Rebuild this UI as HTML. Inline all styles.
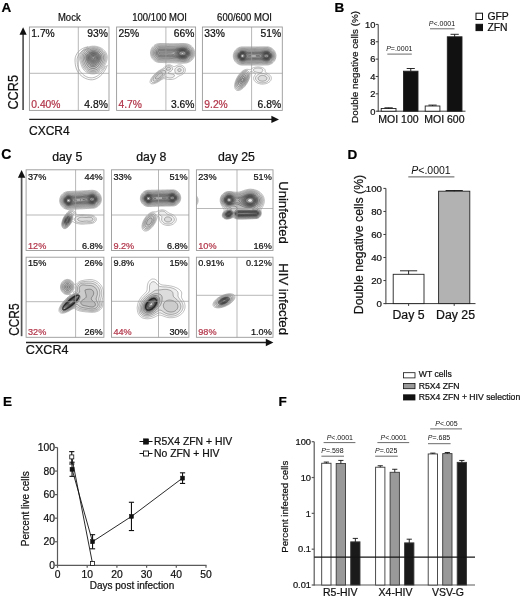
<!DOCTYPE html>
<html lang="en"><head><meta charset="utf-8"><title>Figure</title>
<style>
html,body{margin:0;padding:0;background:#fff;}
body{width:520px;height:596px;overflow:hidden;}
svg{display:block;font-family:"Liberation Sans", Arial, Helvetica, sans-serif;filter:blur(0.4px);}
</style></head><body>
<svg width="520" height="596" viewBox="0 0 520 596">
<defs><clipPath id="cb1"><rect x="29.4" y="27" width="79.60" height="83.40"/></clipPath><clipPath id="cb2"><rect x="116.6" y="27" width="79.00" height="83.40"/></clipPath><clipPath id="cb3"><rect x="202.4" y="27" width="79.90" height="83.40"/></clipPath><clipPath id="cb4"><rect x="26.1" y="169.8" width="77.80" height="80.70"/></clipPath><clipPath id="cb5"><rect x="111.5" y="169.8" width="77.40" height="80.70"/></clipPath><clipPath id="cb6"><rect x="196.4" y="169.8" width="76.60" height="80.70"/></clipPath><clipPath id="cb7"><rect x="26.1" y="257.2" width="77.80" height="80.10"/></clipPath><clipPath id="cb8"><rect x="111.5" y="257.2" width="77.40" height="80.10"/></clipPath><clipPath id="cb9"><rect x="196.4" y="257.2" width="76.60" height="80.10"/></clipPath></defs>
<rect x="0" y="0" width="520" height="596" fill="#fff"/>
<text x="1.5" y="11.6" font-size="13.5" text-anchor="start" fill="#000" stroke="#000" stroke-width="0.22" font-weight="bold" font-style="normal">A</text>
<text transform="translate(69.3 20.5) scale(0.913 1)" x="0" y="0" font-size="10.4" text-anchor="middle" fill="#111" stroke="#111" stroke-width="0.22" font-weight="normal" font-style="normal">Mock</text>
<text transform="translate(159.6 20.5) scale(0.913 1)" x="0" y="0" font-size="10.4" text-anchor="middle" fill="#111" stroke="#111" stroke-width="0.22" font-weight="normal" font-style="normal">100/100 MOI</text>
<text transform="translate(244.5 20.5) scale(0.913 1)" x="0" y="0" font-size="10.4" text-anchor="middle" fill="#111" stroke="#111" stroke-width="0.22" font-weight="normal" font-style="normal">600/600 MOI</text>
<g clip-path="url(#cb1)">
<path d="M91.4,46.3L92.2,46.2L93.1,46.2L94.0,46.2L94.9,46.2L95.5,46.3L96.4,46.4L97.1,46.6L97.9,46.8L98.5,47.0L99.2,47.2L99.9,47.5L100.6,47.8L101.2,48.1L101.7,48.4L102.2,48.7L102.7,49.1L103.3,49.5L103.7,49.9L104.2,50.4L104.6,50.8L105.1,51.4L105.4,51.8L105.7,52.3L106.1,52.9L106.4,53.5L106.6,54.1L106.9,54.9L107.1,55.6L107.2,56.5L107.2,57.1L107.2,58.0L107.2,58.6L107.0,59.5L106.9,60.1L106.6,61.0L106.4,61.6L106.2,62.2L106.0,62.8L105.7,63.5L105.4,64.2L105.1,64.8L104.8,65.5L104.5,66.1L104.2,66.7L103.9,67.3L103.6,67.9L103.3,68.4L103.0,68.8L102.6,69.4L102.1,70.0L101.8,70.3L101.2,70.9L100.8,71.2L100.3,71.6L99.7,72.0L99.1,72.4L98.5,72.7L97.9,72.9L97.3,73.2L96.7,73.4L95.8,73.6L95.2,73.7L94.3,73.9L93.5,73.9L92.8,73.9L92.2,73.9L91.3,73.8L90.4,73.7L89.8,73.5L89.1,73.3L88.3,73.0L87.7,72.8L87.1,72.5L86.5,72.1L86.0,71.8L85.6,71.5L85.0,71.0L84.5,70.6L84.1,70.2L83.7,69.7L83.2,69.1L82.9,68.6L82.6,68.1L82.3,67.6L82.0,66.9L81.7,66.2L81.4,65.5L81.2,64.9L81.0,64.3L80.8,63.7L80.5,62.8L80.3,62.2L80.2,61.6L79.9,60.7L79.8,60.1L79.6,59.2L79.6,58.6L79.5,57.7L79.6,56.8L79.6,56.2L79.8,55.3L79.9,54.7L80.2,54.0L80.5,53.3L80.8,52.7L81.1,52.2L81.5,51.7L81.9,51.1L82.3,50.7L82.8,50.2L83.2,49.8L83.8,49.3L84.2,49.0L84.7,48.7L85.3,48.3L85.9,48.0L86.5,47.7L87.1,47.4L87.7,47.2L88.5,46.9L89.2,46.7L89.8,46.6L90.7,46.4Z" fill="none" stroke="rgb(122,122,122)" stroke-width="0.5"/>
<path d="M91.4,47.2L92.2,47.1L93.1,47.1L94.0,47.1L94.9,47.1L95.5,47.2L96.4,47.4L97.0,47.5L97.9,47.7L98.5,47.9L99.1,48.2L99.7,48.4L100.3,48.7L100.9,49.0L101.5,49.4L102.1,49.8L102.5,50.2L103.0,50.6L103.5,51.1L103.9,51.5L104.3,52.0L104.7,52.6L105.1,53.2L105.4,53.8L105.6,54.4L105.8,55.0L106.0,55.9L106.1,56.5L106.2,57.4L106.1,58.3L106.0,59.1L105.9,59.8L105.7,60.4L105.4,61.3L105.2,61.9L104.9,62.5L104.7,63.1L104.4,63.7L104.2,64.3L103.9,64.9L103.6,65.5L103.3,66.1L103.0,66.7L102.7,67.3L102.3,67.9L101.9,68.5L101.5,69.0L101.1,69.4L100.6,69.9L100.2,70.3L99.7,70.7L99.1,71.1L98.5,71.5L97.9,71.8L97.3,72.0L96.7,72.3L96.1,72.5L95.2,72.7L94.6,72.8L93.7,72.9L92.8,72.9L91.9,72.8L91.0,72.7L90.4,72.6L89.7,72.4L88.9,72.1L88.3,71.9L87.7,71.6L87.1,71.2L86.6,70.9L86.2,70.6L85.6,70.1L85.2,69.7L84.7,69.2L84.4,68.8L84.0,68.2L83.6,67.6L83.3,67.0L83.0,66.4L82.7,65.8L82.5,65.2L82.3,64.6L82.0,63.8L81.8,63.1L81.6,62.5L81.4,61.9L81.1,61.0L81.0,60.4L80.8,59.6L80.7,58.9L80.6,58.0L80.6,57.1L80.7,56.2L80.8,55.6L81.1,54.7L81.3,54.1L81.6,53.5L81.9,52.9L82.3,52.3L82.6,51.9L83.0,51.4L83.5,50.9L83.9,50.5L84.4,50.1L85.0,49.6L85.5,49.3L86.0,49.0L86.5,48.7L87.1,48.4L87.9,48.1L88.6,47.8L89.2,47.6L89.8,47.5L90.7,47.3Z" fill="#000" fill-opacity="0.07" fill-rule="evenodd" stroke="rgb(109,109,109)" stroke-width="0.5"/>
<path d="M92.2,48.1L93.1,48.1L94.0,48.1L94.6,48.1L95.5,48.2L96.4,48.4L97.0,48.5L97.6,48.7L98.5,49.0L99.1,49.3L99.7,49.6L100.3,49.9L100.8,50.2L101.2,50.5L101.8,51.0L102.3,51.4L102.7,51.9L103.1,52.3L103.5,52.9L103.9,53.5L104.2,54.1L104.5,54.7L104.6,55.3L104.8,56.0L104.9,56.8L105.0,57.7L104.9,58.6L104.8,59.2L104.6,60.1L104.4,60.7L104.2,61.3L103.9,62.0L103.6,62.6L103.3,63.3L103.0,63.9L102.7,64.6L102.4,65.2L102.1,65.7L101.8,66.3L101.5,66.8L101.2,67.3L100.7,67.9L100.3,68.4L100.0,68.8L99.4,69.3L99.0,69.7L98.5,70.0L97.9,70.4L97.3,70.7L96.7,71.0L96.1,71.2L95.2,71.5L94.6,71.6L93.7,71.7L92.8,71.7L91.9,71.6L91.0,71.5L90.4,71.4L89.8,71.2L89.1,70.9L88.5,70.6L87.9,70.3L87.4,69.9L86.8,69.5L86.4,69.1L85.9,68.6L85.5,68.2L85.1,67.6L84.7,67.0L84.4,66.4L84.1,65.8L83.8,65.2L83.6,64.6L83.4,64.0L83.1,63.4L82.9,62.7L82.6,61.9L82.4,61.3L82.3,60.7L82.1,59.8L81.9,59.2L81.8,58.3L81.8,57.4L81.9,56.5L82.0,55.9L82.2,55.0L82.5,54.4L82.7,53.8L83.1,53.2L83.5,52.6L83.8,52.2L84.2,51.7L84.7,51.2L85.2,50.8L85.6,50.5L86.2,50.1L86.8,49.7L87.4,49.4L88.0,49.1L88.6,48.9L89.2,48.7L90.1,48.4L90.7,48.3L91.6,48.2Z" fill="#000" fill-opacity="0.07" fill-rule="evenodd" stroke="rgb(96,96,96)" stroke-width="0.5"/>
<path d="M91.4,49.3L92.2,49.2L93.1,49.1L94.0,49.2L94.9,49.2L95.5,49.3L96.4,49.5L97.0,49.7L97.7,49.9L98.4,50.2L99.0,50.5L99.5,50.8L100.0,51.1L100.6,51.5L101.1,52.0L101.5,52.4L102.0,52.9L102.4,53.5L102.7,54.0L103.0,54.6L103.3,55.3L103.4,55.9L103.6,56.8L103.6,57.4L103.6,58.0L103.5,58.9L103.3,59.7L103.1,60.4L102.9,61.0L102.6,61.6L102.4,62.2L102.1,62.8L101.8,63.4L101.5,64.0L101.1,64.6L100.8,65.2L100.4,65.8L100.1,66.4L99.7,66.9L99.4,67.3L98.8,67.9L98.5,68.2L97.9,68.7L97.3,69.1L96.8,69.4L96.1,69.7L95.5,69.9L94.9,70.1L94.0,70.2L93.1,70.3L92.2,70.3L91.3,70.1L90.7,70.0L89.9,69.7L89.3,69.4L88.7,69.1L88.3,68.8L87.7,68.3L87.2,67.9L86.8,67.4L86.5,67.0L86.1,66.4L85.7,65.8L85.4,65.2L85.1,64.6L84.9,64.0L84.6,63.4L84.4,62.8L84.1,62.1L83.8,61.3L83.6,60.7L83.5,60.1L83.3,59.2L83.2,58.5L83.2,57.7L83.2,56.8L83.3,56.2L83.5,55.4L83.8,54.7L84.0,54.1L84.4,53.5L84.7,53.1L85.1,52.6L85.6,52.1L86.0,51.7L86.5,51.3L87.1,50.9L87.7,50.5L88.3,50.2L88.9,50.0L89.5,49.8L90.1,49.6L91.0,49.4Z" fill="#000" fill-opacity="0.07" fill-rule="evenodd" stroke="rgb(83,83,83)" stroke-width="0.5"/>
<path d="M91.9,50.5L92.8,50.4L93.7,50.4L94.6,50.5L95.2,50.6L96.1,50.7L96.7,50.9L97.3,51.2L97.9,51.4L98.5,51.7L99.1,52.1L99.7,52.6L100.0,52.9L100.6,53.5L100.9,53.9L101.2,54.4L101.5,55.0L101.8,55.8L102.0,56.5L102.1,57.4L102.0,58.3L101.9,59.2L101.7,59.8L101.5,60.4L101.2,61.1L100.9,61.7L100.6,62.3L100.3,62.8L100.0,63.4L99.6,64.0L99.2,64.6L98.8,65.2L98.5,65.6L98.1,66.1L97.6,66.6L97.2,67.0L96.7,67.4L96.1,67.7L95.5,68.0L94.9,68.3L94.0,68.5L93.4,68.5L92.5,68.5L91.9,68.4L91.0,68.2L90.4,68.0L89.8,67.6L89.3,67.3L88.9,67.0L88.3,66.4L88.0,66.1L87.6,65.5L87.2,64.9L86.9,64.3L86.5,63.7L86.2,63.1L86.0,62.5L85.7,61.9L85.5,61.3L85.3,60.7L85.0,59.9L84.8,59.2L84.7,58.3L84.7,57.7L84.7,57.1L84.9,56.2L85.0,55.6L85.3,54.9L85.6,54.4L86.0,53.8L86.5,53.2L86.8,52.9L87.4,52.4L87.9,52.0L88.4,51.7L88.9,51.4L89.6,51.1L90.4,50.8L91.0,50.7L91.9,50.5Z" fill="#000" fill-opacity="0.07" fill-rule="evenodd" stroke="rgb(70,70,70)" stroke-width="0.5"/>
<path d="M91.8,51.7L92.5,51.6L93.4,51.5L94.3,51.6L95.0,51.7L95.8,51.9L96.4,52.1L97.0,52.3L97.6,52.6L98.2,53.0L98.8,53.5L99.1,53.8L99.6,54.4L100.0,55.0L100.3,55.6L100.5,56.2L100.6,56.8L100.7,57.7L100.6,58.4L100.4,59.2L100.2,59.8L100.0,60.4L99.7,61.0L99.4,61.6L99.0,62.2L98.6,62.8L98.2,63.4L97.9,63.8L97.5,64.3L97.0,64.8L96.6,65.2L96.1,65.6L95.5,66.0L94.9,66.3L94.3,66.5L93.4,66.7L92.5,66.7L91.6,66.4L91.0,66.2L90.4,65.9L89.9,65.5L89.5,65.1L89.0,64.6L88.6,64.0L88.3,63.6L88.0,63.1L87.6,62.5L87.3,61.9L87.0,61.3L86.8,60.7L86.5,60.0L86.3,59.2L86.2,58.6L86.1,57.7L86.2,56.8L86.3,56.2L86.5,55.6L86.8,55.0L87.2,54.4L87.7,53.8L88.0,53.5L88.6,53.0L89.2,52.6L89.8,52.3L90.4,52.1L91.0,51.9Z" fill="#000" fill-opacity="0.018" fill-rule="evenodd" stroke="rgb(60,60,60)" stroke-width="0.5"/>
<path d="M92.9,52.3L93.7,52.3L94.3,52.3L95.2,52.5L95.8,52.7L96.4,52.9L97.0,53.2L97.6,53.6L98.2,54.1L98.5,54.4L99.0,55.0L99.3,55.6L99.6,56.2L99.7,56.8L99.8,57.7L99.7,58.4L99.5,59.2L99.3,59.8L99.0,60.4L98.7,61.0L98.3,61.6L97.9,62.2L97.6,62.6L97.2,63.1L96.7,63.6L96.2,64.0L95.8,64.4L95.2,64.8L94.6,65.1L94.0,65.2L93.1,65.4L92.2,65.3L91.6,65.1L91.0,64.8L90.4,64.3L90.0,64.0L89.5,63.4L89.2,63.1L88.8,62.5L88.4,61.9L88.0,61.3L87.7,60.7L87.5,60.1L87.3,59.5L87.1,58.9L87.0,58.0L87.0,57.1L87.1,56.5L87.4,55.7L87.7,55.2L88.0,54.7L88.6,54.1L88.9,53.8L89.5,53.4L90.1,53.0L90.7,52.8L91.3,52.6L92.2,52.4Z" fill="#000" fill-opacity="0.018" fill-rule="evenodd" stroke="rgb(60,60,60)" stroke-width="0.5"/>
<path d="M91.5,53.2L92.2,53.0L93.1,52.9L94.0,53.0L94.9,53.1L95.5,53.3L96.1,53.5L96.7,53.8L97.3,54.2L97.8,54.7L98.2,55.2L98.5,55.7L98.8,56.4L99.0,57.1L99.0,58.0L98.8,58.9L98.6,59.5L98.3,60.1L98.0,60.7L97.6,61.3L97.3,61.6L96.8,62.2L96.4,62.6L95.8,63.1L95.4,63.4L94.9,63.7L94.1,64.0L93.4,64.1L92.5,64.1L91.9,63.9L91.3,63.6L90.7,63.2L90.2,62.8L89.8,62.4L89.4,61.9L89.0,61.3L88.6,60.7L88.3,60.1L88.1,59.5L87.9,58.9L87.8,58.0L87.8,57.1L88.0,56.3L88.3,55.6L88.6,55.2L89.0,54.7L89.5,54.2L90.1,53.8L90.7,53.5L91.3,53.3Z" fill="#000" fill-opacity="0.018" fill-rule="evenodd" stroke="rgb(60,60,60)" stroke-width="0.5"/>
<path d="M91.7,53.8L92.5,53.6L93.4,53.5L94.3,53.6L95.1,53.8L95.8,54.1L96.4,54.4L96.8,54.7L97.3,55.2L97.6,55.6L98.0,56.2L98.2,57.0L98.3,57.7L98.2,58.3L98.0,59.2L97.7,59.8L97.3,60.4L97.0,60.8L96.6,61.3L96.1,61.8L95.6,62.2L95.1,62.5L94.5,62.8L93.7,63.0L92.8,63.0L91.9,62.8L91.3,62.5L90.9,62.2L90.4,61.8L90.0,61.3L89.5,60.7L89.2,60.2L88.9,59.6L88.6,58.9L88.5,58.3L88.5,57.4L88.6,56.8L88.9,56.0L89.2,55.5L89.6,55.0L90.1,54.6L90.7,54.2L91.3,53.9Z" fill="#000" fill-opacity="0.018" fill-rule="evenodd" stroke="rgb(60,60,60)" stroke-width="0.5"/>
<path d="M91.8,54.4L92.5,54.2L93.4,54.1L94.3,54.2L95.0,54.4L95.7,54.7L96.1,55.0L96.7,55.5L97.0,55.9L97.3,56.5L97.5,57.4L97.5,58.3L97.3,59.0L97.0,59.6L96.7,60.1L96.2,60.7L95.8,61.0L95.2,61.5L94.6,61.8L94.0,62.0L93.1,62.1L92.2,61.9L91.6,61.6L91.1,61.3L90.7,61.0L90.2,60.4L89.8,59.8L89.5,59.2L89.3,58.6L89.2,57.7L89.3,56.8L89.6,56.2L90.0,55.6L90.4,55.2L91.0,54.8L91.6,54.5Z" fill="#000" fill-opacity="0.018" fill-rule="evenodd" stroke="rgb(60,60,60)" stroke-width="0.5"/>
<path d="M92.0,55.0L92.8,54.8L93.7,54.8L94.6,54.9L95.2,55.2L95.8,55.6L96.1,55.9L96.5,56.5L96.7,57.1L96.8,58.0L96.7,58.6L96.4,59.2L96.0,59.8L95.5,60.3L94.9,60.7L94.3,61.0L93.7,61.2L92.8,61.1L92.2,61.0L91.6,60.7L91.0,60.2L90.7,59.8L90.3,59.2L90.1,58.6L89.9,57.7L90.1,56.8L90.4,56.2L90.7,55.9L91.3,55.4L91.9,55.0Z" fill="#000" fill-opacity="0.018" fill-rule="evenodd" stroke="rgb(60,60,60)" stroke-width="0.5"/>
<path d="M92.4,55.6L93.1,55.5L94.0,55.5L94.6,55.7L95.2,56.1L95.6,56.5L95.9,57.1L96.0,58.0L95.8,58.6L95.4,59.2L94.9,59.7L94.3,60.1L93.7,60.2L92.8,60.2L92.2,60.0L91.6,59.6L91.3,59.2L90.9,58.6L90.8,57.7L91.0,56.8L91.3,56.3L91.8,55.9Z" fill="#000" fill-opacity="0.018" fill-rule="evenodd" stroke="rgb(60,60,60)" stroke-width="0.5"/>
<path d="M92.7,56.5L93.4,56.4L94.1,56.5L94.6,56.9L94.9,57.5L94.9,58.0L94.6,58.6L94.0,59.0L93.1,59.2L92.4,58.9L91.9,58.3L91.8,57.7L92.0,57.1L92.5,56.6Z" fill="#000" fill-opacity="0.018" fill-rule="evenodd" stroke="rgb(60,60,60)" stroke-width="0.5"/>
</g>
<path d="M88,46.8C80,48 75,54 75,60C75,67 77,72 81,75.5C85,79 90,80.5 94,79.5C100,78 105,72 107.3,65" fill="none" stroke="#888" stroke-width="0.6"/><path d="M89,48.5C82,49.5 77,55 77,60C77,66.5 79,71 82.5,74C86,77.5 90.5,78.5 94,77.5C99,76 103.5,71 105.5,66" fill="none" stroke="#888" stroke-width="0.6"/>
<rect x="29.40" y="27.00" width="79.60" height="83.40" fill="none" stroke="#999" stroke-width="0.9"/>
<line x1="78.3" y1="27" x2="78.3" y2="110.4" stroke="#999" stroke-width="0.7"/>
<line x1="29.4" y1="73.3" x2="109.0" y2="73.3" stroke="#999" stroke-width="0.7"/>
<text x="31.299999999999997" y="37.2" font-size="10.3" text-anchor="start" fill="#111" stroke="#111" stroke-width="0.22" font-weight="normal" font-style="normal">1.7%</text>
<text x="107.8" y="37.2" font-size="10.3" text-anchor="end" fill="#111" stroke="#111" stroke-width="0.22" font-weight="normal" font-style="normal">93%</text>
<text x="31.299999999999997" y="108.10000000000001" font-size="10.3" text-anchor="start" fill="#b2364a" stroke="#b2364a" stroke-width="0.22" font-weight="normal" font-style="normal">0.40%</text>
<text x="107.8" y="108.10000000000001" font-size="10.3" text-anchor="end" fill="#111" stroke="#111" stroke-width="0.22" font-weight="normal" font-style="normal">4.8%</text>
<g clip-path="url(#cb2)">
<path d="M158.5,43.6L159.3,43.5L160.2,43.5L161.1,43.5L162.0,43.5L162.9,43.5L163.8,43.5L164.7,43.5L165.6,43.5L166.5,43.6L167.4,43.6L168.3,43.6L169.2,43.6L169.8,43.6L170.7,43.6L171.6,43.6L172.5,43.6L173.4,43.6L174.3,43.6L175.2,43.6L176.1,43.6L177.0,43.6L177.6,43.6L178.5,43.6L179.4,43.5L180.3,43.5L181.2,43.5L182.1,43.5L183.0,43.5L183.9,43.5L184.8,43.6L185.4,43.6L186.3,43.7L187.2,43.9L187.8,44.0L188.4,44.3L189.0,44.5L189.6,44.8L190.2,45.2L190.8,45.6L191.3,46.0L191.7,46.3L192.3,46.9L192.6,47.3L193.0,47.8L193.4,48.4L193.7,49.0L194.0,49.6L194.2,50.2L194.4,50.8L194.6,51.7L194.7,52.3L194.8,53.2L194.7,54.1L194.7,54.7L194.5,55.6L194.3,56.2L194.1,56.8L193.8,57.4L193.5,58.0L193.1,58.6L192.7,59.2L192.3,59.7L191.9,60.1L191.4,60.5L190.8,61.0L190.4,61.3L189.9,61.6L189.3,61.9L188.7,62.2L188.0,62.5L187.2,62.7L186.6,62.9L185.7,63.0L184.8,63.1L184.2,63.1L183.3,63.2L182.4,63.3L181.5,63.3L180.6,63.3L179.7,63.3L178.8,63.2L177.9,63.1L177.3,63.0L176.4,62.9L175.5,62.9L174.6,62.8L174.0,62.8L173.1,62.7L172.2,62.7L171.3,62.7L170.4,62.7L169.5,62.7L168.6,62.7L167.7,62.7L166.8,62.7L165.9,62.6L165.0,62.6L164.1,62.6L163.2,62.6L162.3,62.5L161.4,62.5L160.5,62.5L159.6,62.5L159.0,62.5L158.1,62.3L157.5,62.2L156.6,61.9L156.0,61.6L155.4,61.3L154.9,61.0L154.4,60.7L153.9,60.3L153.3,59.8L153.0,59.4L152.5,58.9L152.1,58.3L151.8,57.8L151.5,57.3L151.2,56.6L150.9,55.9L150.8,55.3L150.6,54.5L150.5,53.8L150.5,52.9L150.5,52.0L150.6,51.4L150.8,50.5L151.0,49.9L151.2,49.3L151.5,48.7L151.8,48.1L152.2,47.5L152.7,46.9L153.0,46.6L153.6,46.0L153.9,45.7L154.5,45.2L155.1,44.8L155.7,44.5L156.3,44.2L156.9,44.0L157.5,43.8L158.4,43.6ZM167.9,64.9L168.6,64.8L169.5,64.8L170.2,64.9L171.0,65.2L171.6,65.5L172.2,65.8L172.6,66.1L173.1,66.4L173.8,66.7L174.3,66.7L175.1,66.4L175.7,66.1L176.2,65.8L176.9,65.5L177.6,65.2L178.2,65.0L179.1,64.9L179.7,64.9L180.3,64.9L181.2,65.1L181.8,65.3L182.4,65.6L183.0,66.0L183.6,66.4L183.9,66.7L184.4,67.3L184.8,67.8L185.1,68.4L185.3,69.1L185.4,69.7L185.4,70.4L185.2,71.2L185.0,71.8L184.7,72.4L184.2,73.0L183.9,73.3L183.3,73.9L182.8,74.2L182.3,74.5L181.7,74.8L181.1,75.1L180.3,75.4L179.7,75.7L179.1,75.9L178.5,76.3L178.0,76.6L177.6,76.9L177.0,77.3L176.4,77.8L175.9,78.1L175.3,78.4L174.7,78.7L174.0,78.9L173.4,79.1L172.6,79.3L171.9,79.4L171.0,79.5L170.1,79.5L169.2,79.5L168.3,79.4L167.4,79.3L166.8,79.2L166.2,79.0L165.3,78.8L164.7,78.7L163.8,78.7L163.2,78.8L162.6,79.1L162.0,79.4L161.4,79.7L160.8,80.1L160.2,80.5L159.8,80.8L159.3,81.1L158.7,81.5L158.1,81.8L157.5,82.2L156.9,82.5L156.3,82.8L155.7,83.0L155.1,83.3L154.4,83.5L153.6,83.7L153.0,83.8L152.1,83.8L151.5,83.7L150.9,83.5L150.3,82.9L150.1,82.3L150.1,81.4L150.3,80.5L150.5,79.9L150.8,79.3L151.1,78.7L151.5,78.1L151.8,77.6L152.1,77.2L152.5,76.6L153.0,76.0L153.3,75.7L153.8,75.1L154.2,74.7L154.7,74.2L155.1,73.8L155.6,73.3L156.0,73.0L156.6,72.5L157.1,72.1L157.5,71.8L158.1,71.3L158.7,70.9L159.2,70.6L159.7,70.3L160.2,70.0L160.8,69.6L161.4,69.3L162.0,69.0L162.6,68.7L163.2,68.3L163.7,67.9L164.1,67.5L164.6,67.0L165.0,66.6L165.5,66.1L165.9,65.8L166.5,65.4L167.1,65.1Z" fill="none" stroke="rgb(122,122,122)" stroke-width="0.5"/>
<path d="M158.4,44.5L159.0,44.4L159.9,44.3L160.8,44.3L161.7,44.4L162.6,44.4L163.5,44.4L164.4,44.4L165.3,44.4L166.2,44.4L167.1,44.4L168.0,44.4L168.9,44.4L169.8,44.5L170.7,44.5L171.6,44.5L172.5,44.5L173.4,44.5L174.3,44.5L175.2,44.5L176.1,44.5L177.0,44.4L177.9,44.4L178.8,44.4L179.7,44.3L180.6,44.3L181.5,44.3L182.4,44.3L183.3,44.3L184.2,44.3L185.1,44.4L186.0,44.4L186.6,44.6L187.5,44.8L188.1,45.0L188.7,45.2L189.3,45.6L189.9,45.9L190.4,46.3L190.8,46.6L191.4,47.2L191.7,47.5L192.2,48.1L192.6,48.7L192.9,49.2L193.2,49.8L193.5,50.5L193.7,51.1L193.8,51.7L193.9,52.6L194.0,53.5L193.9,54.4L193.8,55.0L193.5,55.9L193.3,56.5L193.1,57.1L192.7,57.7L192.4,58.3L192.0,58.8L191.6,59.2L191.1,59.7L190.7,60.1L190.2,60.5L189.6,60.9L189.0,61.2L188.4,61.5L187.8,61.7L187.2,61.9L186.3,62.1L185.7,62.2L184.8,62.3L183.9,62.3L183.0,62.3L182.1,62.3L181.2,62.3L180.3,62.3L179.4,62.2L178.8,62.2L177.9,62.1L177.0,62.0L176.1,62.0L175.2,61.9L174.6,61.9L173.7,61.9L172.8,61.8L171.9,61.8L171.0,61.8L170.1,61.8L169.2,61.8L168.3,61.8L167.4,61.8L166.5,61.7L165.6,61.7L164.7,61.7L163.8,61.7L162.9,61.7L162.0,61.7L161.1,61.7L160.2,61.7L159.3,61.6L158.7,61.6L157.8,61.4L157.2,61.2L156.6,61.0L156.0,60.7L155.4,60.3L154.8,59.9L154.3,59.5L153.9,59.1L153.4,58.6L153.0,58.1L152.7,57.7L152.4,57.1L152.1,56.5L151.8,55.8L151.6,55.0L151.5,54.4L151.4,53.5L151.3,52.6L151.4,51.7L151.6,51.1L151.8,50.2L152.0,49.6L152.3,49.0L152.7,48.4L153.0,47.9L153.3,47.5L153.9,46.9L154.2,46.6L154.8,46.1L155.3,45.7L155.9,45.4L156.5,45.1L157.2,44.8L157.8,44.6ZM168.4,65.8L169.2,65.8L169.8,65.9L170.5,66.1L171.1,66.4L171.6,66.8L172.1,67.3L172.5,67.9L172.7,68.5L172.6,69.4L172.3,70.0L171.9,70.4L171.3,70.9L170.9,71.2L170.4,71.5L169.7,71.8L169.1,72.1L168.5,72.4L168.1,73.0L168.6,73.5L169.2,73.6L170.1,73.7L171.0,73.8L171.7,73.9L172.5,74.0L173.2,74.2L174.0,74.5L174.3,74.8L174.5,75.7L174.2,76.3L173.7,76.9L173.2,77.2L172.6,77.5L171.9,77.7L171.3,77.9L170.4,78.0L169.5,78.0L168.6,77.8L168.0,77.7L167.4,77.5L166.6,77.2L165.9,77.0L165.0,77.0L164.3,77.2L163.6,77.5L163.1,77.8L162.6,78.1L162.0,78.5L161.4,78.9L160.8,79.3L160.4,79.6L159.9,79.9L159.3,80.3L158.7,80.7L158.1,81.0L157.5,81.4L156.9,81.7L156.3,81.9L155.7,82.2L155.1,82.4L154.2,82.6L153.6,82.6L152.8,82.6L152.1,82.3L151.7,82.0L151.5,81.4L151.5,80.5L151.6,79.9L151.8,79.3L152.1,78.7L152.4,78.1L152.8,77.5L153.2,76.9L153.6,76.4L153.9,76.0L154.4,75.4L154.8,75.0L155.3,74.5L155.7,74.1L156.3,73.6L156.6,73.3L157.2,72.8L157.7,72.4L158.1,72.1L158.7,71.7L159.3,71.3L159.9,71.0L160.5,70.6L161.1,70.3L161.7,70.0L162.3,69.8L162.9,69.5L163.5,69.2L164.1,68.8L164.5,68.5L165.0,68.0L165.4,67.6L165.9,67.1L166.3,66.7L166.8,66.4L167.4,66.1L168.3,65.8ZM179.1,66.4L179.7,66.4L180.3,66.4L181.2,66.7L181.8,66.9L182.4,67.3L182.8,67.6L183.3,68.2L183.6,68.8L183.8,69.4L183.8,70.3L183.6,71.2L183.3,71.8L183.0,72.2L182.5,72.7L182.1,73.0L181.5,73.3L180.9,73.6L180.0,73.9L179.4,74.0L178.5,74.1L177.6,74.1L176.7,73.9L176.1,73.7L175.6,73.3L175.3,72.7L175.1,72.1L174.9,71.3L174.8,70.6L174.8,69.7L174.9,69.1L175.3,68.5L175.8,67.9L176.2,67.6L176.7,67.2L177.3,66.9L177.9,66.6L178.8,66.4Z" fill="#000" fill-opacity="0.07" fill-rule="evenodd" stroke="rgb(109,109,109)" stroke-width="0.5"/>
<path d="M181.0,45.1L181.8,45.1L182.7,45.1L183.4,45.1L184.2,45.1L185.1,45.2L186.0,45.3L186.6,45.4L187.5,45.7L188.1,45.9L188.7,46.2L189.3,46.6L189.8,46.9L190.2,47.2L190.8,47.8L191.1,48.1L191.6,48.7L192.0,49.3L192.3,49.9L192.5,50.5L192.8,51.1L192.9,51.7L193.0,52.6L193.1,53.5L193.0,54.4L192.9,55.0L192.6,55.9L192.4,56.5L192.1,57.1L191.7,57.7L191.4,58.1L191.0,58.6L190.5,59.1L190.0,59.5L189.6,59.8L189.0,60.2L188.4,60.5L187.8,60.8L187.2,61.0L186.3,61.2L185.7,61.4L184.8,61.4L183.9,61.5L183.0,61.5L182.1,61.5L181.2,61.5L180.3,61.4L179.4,61.3L178.8,61.3L177.9,61.2L177.0,61.1L176.1,61.0L175.5,61.0L174.6,60.9L173.7,60.9L172.8,60.9L171.9,60.9L171.0,60.8L170.1,60.8L169.2,60.8L168.3,60.8L167.4,60.8L166.5,60.8L165.6,60.8L164.7,60.8L163.8,60.8L162.9,60.7L162.0,60.7L161.1,60.7L160.2,60.7L159.6,60.7L158.7,60.6L157.9,60.4L157.2,60.2L156.6,59.9L156.0,59.6L155.4,59.2L155.0,58.9L154.5,58.4L154.1,58.0L153.7,57.4L153.3,56.8L153.0,56.2L152.7,55.6L152.6,55.0L152.4,54.3L152.3,53.5L152.3,52.6L152.4,51.7L152.5,51.1L152.7,50.5L153.0,49.8L153.3,49.2L153.6,48.7L154.0,48.1L154.5,47.6L154.9,47.2L155.4,46.8L156.0,46.4L156.6,46.1L157.2,45.8L157.8,45.6L158.7,45.4L159.3,45.3L160.2,45.3L161.1,45.3L162.0,45.3L162.9,45.3L163.8,45.3L164.7,45.3L165.6,45.4L166.5,45.4L167.4,45.4L168.3,45.4L168.9,45.4L169.8,45.4L170.7,45.4L171.6,45.4L172.5,45.4L173.4,45.4L174.3,45.4L175.2,45.4L175.8,45.4L176.7,45.3L177.6,45.3L178.5,45.2L179.4,45.2L180.3,45.1ZM168.1,67.3L168.9,67.2L169.6,67.3L170.1,67.6L170.5,68.2L170.5,69.1L170.1,69.6L169.5,69.9L168.9,70.1L168.0,70.2L167.1,70.2L166.5,69.9L166.5,69.1L166.7,68.5L167.1,68.0L167.5,67.6ZM178.6,68.8L179.4,68.6L180.3,68.7L180.8,69.1L181.2,69.7L181.2,70.3L180.9,70.9L180.5,71.2L179.8,71.5L179.1,71.5L178.5,71.3L178.0,70.9L177.7,70.3L177.9,69.4L178.2,69.0ZM163.7,70.6L164.4,70.6L165.0,70.6L165.5,71.2L165.5,72.1L165.4,73.0L165.2,73.6L164.9,74.2L164.6,74.8L164.1,75.4L163.8,75.8L163.3,76.3L162.9,76.6L162.3,77.1L161.8,77.5L161.4,77.8L160.8,78.3L160.2,78.7L159.8,79.0L159.3,79.3L158.7,79.7L158.1,80.0L157.5,80.4L156.9,80.6L156.3,80.9L155.4,81.1L154.8,81.2L153.9,81.1L153.4,80.8L153.1,80.2L153.1,79.3L153.3,78.7L153.6,78.1L153.9,77.5L154.3,76.9L154.8,76.3L155.1,75.9L155.5,75.4L156.0,74.9L156.4,74.5L156.9,74.1L157.5,73.6L157.9,73.3L158.4,72.9L159.0,72.5L159.6,72.1L160.1,71.8L160.7,71.5L161.4,71.2L162.0,71.0L162.6,70.8L163.5,70.6Z" fill="#000" fill-opacity="0.07" fill-rule="evenodd" stroke="rgb(96,96,96)" stroke-width="0.5"/>
<path d="M180.8,46.0L181.5,46.0L182.4,46.0L183.3,46.0L183.9,46.0L184.8,46.1L185.7,46.2L186.3,46.3L187.2,46.6L187.8,46.8L188.4,47.1L189.0,47.5L189.4,47.8L189.9,48.2L190.3,48.7L190.8,49.3L191.1,49.7L191.4,50.3L191.7,51.0L191.9,51.7L192.0,52.3L192.1,53.2L192.1,54.1L192.0,54.7L191.7,55.6L191.5,56.2L191.1,56.8L190.8,57.3L190.5,57.7L190.0,58.3L189.6,58.6L189.0,59.1L188.4,59.5L187.8,59.8L187.2,60.0L186.6,60.2L185.8,60.4L185.1,60.5L184.2,60.6L183.3,60.6L182.4,60.6L181.5,60.6L180.6,60.5L179.7,60.4L179.1,60.4L178.2,60.3L177.3,60.2L176.7,60.1L175.8,60.0L174.9,59.9L174.0,59.9L173.1,59.8L172.5,59.8L171.6,59.8L170.7,59.8L169.8,59.7L168.9,59.7L168.0,59.7L167.1,59.7L166.2,59.7L165.3,59.7L164.4,59.7L163.5,59.7L162.6,59.7L161.7,59.6L160.8,59.6L159.9,59.6L159.0,59.5L158.4,59.4L157.7,59.2L157.0,58.9L156.5,58.6L156.0,58.3L155.4,57.8L155.1,57.4L154.6,56.8L154.2,56.2L153.9,55.6L153.7,55.0L153.5,54.4L153.4,53.5L153.4,52.6L153.5,51.7L153.7,51.1L153.9,50.4L154.2,49.8L154.5,49.3L155.0,48.7L155.4,48.2L155.9,47.8L156.3,47.5L156.9,47.1L157.5,46.9L158.3,46.6L159.0,46.5L159.9,46.4L160.8,46.4L161.7,46.4L162.6,46.4L163.5,46.4L164.4,46.4L165.3,46.4L166.2,46.4L167.1,46.5L168.0,46.5L168.9,46.5L169.8,46.5L170.7,46.5L171.6,46.5L172.5,46.5L173.4,46.5L174.3,46.5L175.2,46.4L176.1,46.4L177.0,46.3L177.6,46.3L178.5,46.2L179.4,46.1L180.3,46.0ZM160.6,73.0L161.4,72.8L162.3,72.8L162.8,73.3L162.9,73.6L162.7,74.5L162.4,75.1L162.0,75.6L161.6,76.0L161.1,76.5L160.7,76.9L160.2,77.3L159.6,77.7L159.1,78.1L158.6,78.4L158.0,78.7L157.2,79.0L156.6,79.1L155.8,79.0L155.4,78.4L155.6,77.5L155.9,76.9L156.3,76.4L156.6,76.0L157.1,75.4L157.5,75.0L158.1,74.5L158.5,74.2L159.0,73.9L159.6,73.5L160.2,73.2Z" fill="#000" fill-opacity="0.07" fill-rule="evenodd" stroke="rgb(83,83,83)" stroke-width="0.5"/>
<path d="M179.0,47.2L179.7,47.1L180.6,47.0L181.5,47.0L182.4,46.9L183.3,47.0L184.2,47.0L185.1,47.1L185.7,47.2L186.6,47.5L187.2,47.7L187.8,48.0L188.4,48.4L188.8,48.7L189.3,49.2L189.7,49.6L190.1,50.2L190.4,50.8L190.7,51.4L190.8,52.0L191.0,52.9L191.0,53.8L190.8,54.7L190.6,55.3L190.4,55.9L190.0,56.5L189.6,57.1L189.3,57.4L188.7,58.0L188.3,58.3L187.8,58.6L187.2,58.9L186.4,59.2L185.7,59.4L184.9,59.5L184.2,59.6L183.3,59.6L182.4,59.6L181.5,59.6L180.6,59.5L180.0,59.5L179.1,59.3L178.3,59.2L177.6,59.1L176.7,58.9L176.1,58.8L175.2,58.7L174.3,58.6L173.7,58.6L172.8,58.5L171.9,58.5L171.0,58.5L170.1,58.4L169.2,58.4L168.3,58.4L167.4,58.4L166.5,58.4L165.6,58.4L164.7,58.4L163.8,58.4L162.9,58.4L162.0,58.3L161.1,58.3L160.2,58.3L159.6,58.3L158.7,58.2L158.1,58.0L157.5,57.7L156.9,57.3L156.3,56.8L156.0,56.5L155.5,55.9L155.2,55.3L155.0,54.7L154.8,54.1L154.7,53.2L154.7,52.3L154.8,51.7L155.1,50.9L155.4,50.3L155.7,49.9L156.2,49.3L156.6,48.9L157.2,48.5L157.8,48.2L158.4,47.9L159.0,47.8L159.9,47.7L160.8,47.7L161.7,47.7L162.6,47.7L163.5,47.7L164.4,47.7L165.3,47.7L166.2,47.8L167.1,47.8L168.0,47.8L168.9,47.8L169.8,47.8L170.4,47.8L171.3,47.8L172.2,47.8L172.9,47.8L173.7,47.8L174.6,47.7L175.5,47.7L176.4,47.6L177.0,47.5L177.9,47.3L178.8,47.2Z" fill="#000" fill-opacity="0.07" fill-rule="evenodd" stroke="rgb(70,70,70)" stroke-width="0.5"/>
<path d="M181.9,47.8L182.7,47.8L183.3,47.8L184.2,47.9L185.1,48.0L185.7,48.1L186.5,48.4L187.1,48.7L187.6,49.0L188.1,49.4L188.7,49.9L189.0,50.3L189.3,50.8L189.6,51.4L189.9,52.3L190.0,52.9L190.0,53.8L189.9,54.4L189.6,55.2L189.3,55.8L189.0,56.3L188.6,56.8L188.1,57.2L187.5,57.7L186.9,58.0L186.3,58.3L185.7,58.5L185.0,58.6L184.2,58.7L183.3,58.8L182.4,58.8L181.5,58.7L180.6,58.7L180.0,58.6L179.1,58.4L178.5,58.3L177.6,58.1L177.0,57.9L176.1,57.7L175.5,57.6L174.6,57.4L174.0,57.4L173.1,57.3L172.2,57.2L171.3,57.2L170.4,57.2L169.5,57.2L168.6,57.1L167.7,57.1L166.8,57.1L165.9,57.1L165.3,57.1L164.4,57.1L163.5,57.1L162.6,57.1L161.7,57.1L160.8,57.0L159.9,57.0L159.0,56.9L158.4,56.7L157.8,56.4L157.2,55.9L156.9,55.6L156.5,55.0L156.2,54.4L156.0,53.5L156.0,52.9L156.0,52.3L156.3,51.4L156.6,50.8L156.9,50.4L157.4,49.9L157.8,49.6L158.4,49.3L159.3,49.0L159.9,49.0L160.8,49.0L161.7,49.0L162.6,49.0L163.2,49.0L164.1,49.0L165.0,49.0L165.9,49.0L166.8,49.0L167.7,49.1L168.6,49.1L169.5,49.1L170.4,49.1L171.3,49.1L172.2,49.1L173.1,49.0L173.9,49.0L174.6,48.9L175.5,48.8L176.2,48.7L177.0,48.5L177.7,48.4L178.5,48.2L179.2,48.1L180.0,48.0L180.9,47.9L181.8,47.8Z" fill="#000" fill-opacity="0.018" fill-rule="evenodd" stroke="rgb(60,60,60)" stroke-width="0.5"/>
<path d="M180.8,48.4L181.5,48.3L182.4,48.3L183.3,48.3L184.0,48.4L184.8,48.5L185.7,48.7L186.3,48.9L186.9,49.2L187.5,49.6L187.8,49.9L188.4,50.5L188.7,50.9L189.0,51.5L189.3,52.3L189.4,52.9L189.4,53.8L189.2,54.4L189.0,55.1L188.7,55.7L188.3,56.2L187.8,56.7L187.3,57.1L186.9,57.4L186.2,57.7L185.4,58.0L184.8,58.1L183.9,58.2L183.0,58.3L182.1,58.3L181.2,58.2L180.3,58.1L179.7,58.0L178.8,57.8L178.2,57.6L177.5,57.4L176.7,57.2L176.1,57.0L175.3,56.8L174.6,56.6L173.8,56.5L173.1,56.4L172.2,56.3L171.3,56.3L170.4,56.3L169.5,56.3L168.6,56.2L167.7,56.2L166.8,56.2L165.9,56.2L165.3,56.2L164.4,56.2L163.5,56.2L162.6,56.2L161.7,56.2L160.8,56.1L159.9,56.1L159.0,56.0L158.4,55.7L157.9,55.3L157.5,54.9L157.2,54.4L156.9,53.5L156.9,52.9L156.9,52.3L157.2,51.6L157.5,51.1L158.1,50.5L158.6,50.2L159.3,49.9L159.9,49.9L160.8,49.9L161.7,49.9L162.6,49.9L163.2,49.9L164.1,49.9L165.0,49.9L165.9,49.9L166.8,49.9L167.7,50.0L168.6,50.0L169.5,50.0L170.4,50.0L171.3,50.0L172.2,50.0L173.1,49.9L173.7,49.9L174.6,49.7L175.4,49.6L176.1,49.4L176.7,49.3L177.6,49.1L178.2,48.9L179.0,48.7L179.7,48.6L180.6,48.4Z" fill="#000" fill-opacity="0.018" fill-rule="evenodd" stroke="rgb(60,60,60)" stroke-width="0.5"/>
<path d="M179.9,49.0L180.6,48.9L181.5,48.8L182.4,48.7L183.3,48.8L184.2,48.9L185.0,49.0L185.7,49.2L186.3,49.4L186.9,49.8L187.4,50.2L187.8,50.6L188.2,51.1L188.5,51.7L188.7,52.3L188.9,53.2L188.8,54.1L188.6,54.7L188.3,55.3L187.9,55.9L187.5,56.3L186.9,56.8L186.4,57.1L185.7,57.4L185.1,57.6L184.4,57.7L183.6,57.8L182.7,57.8L181.8,57.8L180.9,57.7L180.3,57.6L179.4,57.4L178.8,57.3L178.2,57.1L177.4,56.8L176.7,56.5L176.1,56.3L175.5,56.1L174.8,55.9L174.0,55.7L173.4,55.6L172.5,55.5L171.6,55.4L170.7,55.3L169.8,55.3L168.9,55.3L168.3,55.3L167.4,55.3L166.5,55.3L165.6,55.3L164.7,55.3L163.8,55.2L162.9,55.2L162.0,55.2L161.1,55.2L160.2,55.2L159.3,55.1L158.7,54.8L158.3,54.4L158.0,53.8L157.8,52.9L158.0,52.0L158.4,51.5L158.9,51.1L159.6,50.8L160.5,50.8L161.4,50.8L162.3,50.8L163.2,50.8L164.1,50.9L165.0,50.9L165.9,50.9L166.8,50.9L167.7,50.9L168.6,50.9L169.5,50.9L170.4,50.9L171.3,50.9L172.2,50.9L173.0,50.8L173.7,50.7L174.6,50.5L175.2,50.4L175.8,50.2L176.7,49.9L177.3,49.7L177.9,49.5L178.7,49.3L179.4,49.1Z" fill="#000" fill-opacity="0.018" fill-rule="evenodd" stroke="rgb(60,60,60)" stroke-width="0.5"/>
<path d="M180.5,49.3L181.2,49.2L182.1,49.1L183.0,49.1L183.9,49.2L184.5,49.3L185.4,49.5L186.0,49.8L186.6,50.1L187.1,50.5L187.5,50.9L187.9,51.4L188.2,52.0L188.4,52.9L188.4,53.8L188.1,54.7L187.8,55.3L187.5,55.7L187.0,56.2L186.6,56.5L186.0,56.8L185.3,57.1L184.5,57.3L183.6,57.4L183.0,57.4L182.1,57.4L181.5,57.4L180.6,57.3L179.8,57.1L179.1,56.9L178.5,56.7L177.9,56.5L177.3,56.2L176.6,55.9L176.0,55.6L175.4,55.3L174.7,55.0L174.0,54.7L173.4,54.5L172.8,54.4L171.9,54.2L171.2,54.1L170.4,54.0L169.5,54.0L168.6,54.0L167.7,53.9L166.8,53.9L165.9,53.9L165.0,53.9L164.1,53.9L163.2,53.9L162.3,53.9L161.4,53.9L160.5,53.9L159.7,53.8L159.3,53.5L159.2,52.6L159.6,52.2L160.5,52.2L161.4,52.2L162.3,52.2L163.2,52.2L164.1,52.2L165.0,52.2L165.9,52.2L166.8,52.2L167.7,52.2L168.6,52.2L169.5,52.2L170.4,52.2L171.3,52.2L172.2,52.1L172.8,52.0L173.7,51.7L174.3,51.5L174.9,51.3L175.5,51.1L176.1,50.8L176.8,50.5L177.5,50.2L178.2,49.9L178.8,49.7L179.4,49.5L180.3,49.3Z" fill="#000" fill-opacity="0.018" fill-rule="evenodd" stroke="rgb(60,60,60)" stroke-width="0.5"/>
<path d="M180.9,49.6L181.8,49.5L182.7,49.5L183.6,49.5L184.2,49.6L185.1,49.8L185.7,50.1L186.3,50.4L186.8,50.8L187.2,51.2L187.5,51.7L187.8,52.3L188.0,53.2L187.9,54.1L187.6,54.7L187.3,55.3L186.9,55.7L186.3,56.2L185.8,56.5L185.1,56.8L184.5,56.9L183.6,57.0L182.7,57.1L182.3,57.1L181.5,57.0L180.6,56.9L180.0,56.8L179.2,56.5L178.5,56.2L177.9,56.0L177.3,55.6L176.7,55.3L176.3,55.0L175.8,54.6L175.2,54.1L174.9,53.7L174.8,52.9L175.2,52.3L175.5,52.0L176.1,51.6L176.7,51.2L177.3,50.9L177.9,50.6L178.5,50.3L179.1,50.1L179.7,49.9L180.6,49.7Z" fill="#000" fill-opacity="0.018" fill-rule="evenodd" stroke="rgb(60,60,60)" stroke-width="0.5"/>
<path d="M181.2,49.9L182.1,49.8L183.0,49.8L183.7,49.9L184.5,50.1L185.1,50.2L185.8,50.5L186.3,50.9L186.9,51.4L187.2,51.9L187.5,52.6L187.5,53.2L187.5,53.8L187.2,54.7L186.9,55.1L186.5,55.6L186.0,56.0L185.4,56.3L184.7,56.5L183.9,56.7L183.0,56.8L182.1,56.8L181.2,56.7L180.4,56.5L179.7,56.3L179.1,56.1L178.5,55.8L177.9,55.4L177.3,55.0L177.0,54.7L176.4,54.1L176.1,53.5L176.3,52.6L176.7,52.0L177.0,51.7L177.6,51.3L178.2,50.9L178.8,50.6L179.4,50.4L180.0,50.2L180.9,49.9Z" fill="#000" fill-opacity="0.018" fill-rule="evenodd" stroke="rgb(60,60,60)" stroke-width="0.5"/>
<path d="M181.4,50.2L182.1,50.1L183.0,50.1L183.6,50.2L184.5,50.4L185.1,50.6L185.7,50.9L186.3,51.4L186.6,51.7L186.9,52.3L187.1,53.2L187.0,54.1L186.7,54.7L186.3,55.2L185.9,55.6L185.3,55.9L184.5,56.2L183.9,56.3L183.0,56.4L182.1,56.4L181.2,56.3L180.6,56.2L179.7,55.9L179.1,55.6L178.5,55.3L178.1,55.0L177.6,54.5L177.3,54.1L177.0,53.2L177.3,52.4L177.6,52.0L178.2,51.5L178.7,51.1L179.3,50.8L180.0,50.5L180.6,50.4Z" fill="#000" fill-opacity="0.018" fill-rule="evenodd" stroke="rgb(60,60,60)" stroke-width="0.5"/>
<path d="M181.6,50.5L182.4,50.4L183.3,50.5L183.9,50.6L184.6,50.8L185.3,51.1L185.8,51.4L186.3,52.0L186.6,52.5L186.7,53.2L186.6,54.1L186.3,54.6L186.0,55.0L185.4,55.5L184.8,55.7L184.2,55.9L183.3,56.1L182.4,56.1L181.5,56.1L180.8,55.9L180.0,55.6L179.4,55.3L178.9,55.0L178.5,54.7L178.0,54.1L177.8,53.5L177.9,52.6L178.2,52.2L178.7,51.7L179.1,51.4L179.7,51.0L180.3,50.8L181.2,50.6Z" fill="#000" fill-opacity="0.018" fill-rule="evenodd" stroke="rgb(60,60,60)" stroke-width="0.5"/>
<path d="M181.9,50.8L182.7,50.8L183.3,50.8L184.2,51.0L184.8,51.3L185.4,51.6L185.8,52.0L186.2,52.6L186.3,53.2L186.2,53.8L186.0,54.4L185.4,55.0L184.9,55.3L184.2,55.6L183.6,55.7L182.7,55.8L181.8,55.8L181.0,55.6L180.3,55.4L179.7,55.1L179.2,54.7L178.8,54.3L178.5,53.7L178.5,52.9L178.8,52.3L179.1,51.9L179.7,51.5L180.3,51.2L180.9,51.0L181.8,50.8Z" fill="#000" fill-opacity="0.018" fill-rule="evenodd" stroke="rgb(60,60,60)" stroke-width="0.5"/>
<path d="M182.4,51.1L182.7,51.1L183.6,51.2L184.2,51.4L184.8,51.7L185.4,52.2L185.7,52.6L185.8,53.5L185.6,54.1L185.1,54.7L184.6,55.0L183.9,55.3L183.3,55.4L182.4,55.5L181.5,55.4L180.9,55.2L180.3,54.9L179.7,54.5L179.3,54.1L179.0,53.5L179.1,52.8L179.4,52.3L180.0,51.8L180.6,51.5L181.2,51.3L182.1,51.1Z" fill="#000" fill-opacity="0.018" fill-rule="evenodd" stroke="rgb(60,60,60)" stroke-width="0.5"/>
<path d="M181.6,52.6L182.1,52.4L182.7,52.4L183.3,52.6L183.6,52.8L183.9,53.2L183.6,53.8L183.3,54.0L183.0,54.1L182.4,54.2L181.9,54.1L181.5,53.9L181.2,53.5L181.1,53.2L181.3,52.9Z" fill="#fff" fill-opacity="0.75" stroke="rgb(60,60,60)" stroke-width="0.5"/>
</g>
<rect x="116.60" y="27.00" width="79.00" height="83.40" fill="none" stroke="#999" stroke-width="0.9"/>
<line x1="165.9" y1="27" x2="165.9" y2="110.4" stroke="#999" stroke-width="0.7"/>
<line x1="116.6" y1="73.3" x2="195.6" y2="73.3" stroke="#999" stroke-width="0.7"/>
<text x="118.5" y="37.2" font-size="10.3" text-anchor="start" fill="#111" stroke="#111" stroke-width="0.22" font-weight="normal" font-style="normal">25%</text>
<text x="194.4" y="37.2" font-size="10.3" text-anchor="end" fill="#111" stroke="#111" stroke-width="0.22" font-weight="normal" font-style="normal">66%</text>
<text x="118.5" y="108.10000000000001" font-size="10.3" text-anchor="start" fill="#b2364a" stroke="#b2364a" stroke-width="0.22" font-weight="normal" font-style="normal">4.7%</text>
<text x="194.4" y="108.10000000000001" font-size="10.3" text-anchor="end" fill="#111" stroke="#111" stroke-width="0.22" font-weight="normal" font-style="normal">3.6%</text>
<g clip-path="url(#cb3)">
<path d="M242.3,46.9L243.0,46.9L243.9,46.9L244.8,46.9L245.4,46.9L246.3,46.9L247.2,46.9L247.8,46.9L248.7,46.9L249.6,46.9L250.5,46.9L251.4,46.9L252.3,46.9L253.2,46.9L254.1,46.9L255.0,46.9L255.9,46.9L256.8,46.9L257.7,46.9L258.6,46.9L259.5,46.8L260.4,46.8L261.3,46.8L262.2,46.8L263.1,46.8L264.0,46.8L264.9,46.8L265.8,46.8L266.7,46.8L267.6,46.8L268.2,46.9L269.1,47.1L269.7,47.3L270.3,47.5L270.9,47.8L271.5,48.1L272.1,48.5L272.7,49.0L273.1,49.3L273.6,49.8L273.9,50.2L274.4,50.8L274.8,51.4L275.1,52.0L275.3,52.6L275.5,53.2L275.7,53.8L275.9,54.7L276.0,55.6L275.9,56.5L275.8,57.4L275.7,58.0L275.4,58.9L275.2,59.5L274.9,60.1L274.6,60.7L274.2,61.2L273.9,61.6L273.4,62.2L273.0,62.6L272.4,63.1L272.0,63.4L271.5,63.7L270.9,64.0L270.3,64.3L269.5,64.6L268.8,64.8L268.1,64.9L267.3,65.0L266.4,65.0L265.5,65.0L264.6,65.0L263.7,65.0L262.8,65.1L261.9,65.1L261.0,65.1L260.1,65.1L259.2,65.1L258.3,65.1L257.4,65.1L256.5,65.1L255.6,65.1L254.7,65.1L253.8,65.1L252.9,65.1L252.0,65.1L251.1,65.1L250.2,65.1L249.3,65.1L248.4,65.1L247.5,65.1L246.6,65.1L245.7,65.1L244.8,65.1L243.9,65.1L243.0,65.1L242.1,65.1L241.2,65.0L240.5,64.9L239.7,64.7L239.1,64.5L238.5,64.2L237.9,63.9L237.3,63.5L236.7,63.1L236.4,62.8L235.8,62.3L235.5,61.9L235.0,61.3L234.6,60.7L234.3,60.1L234.0,59.5L233.8,58.9L233.6,58.3L233.4,57.4L233.3,56.8L233.3,55.9L233.4,55.0L233.4,54.4L233.7,53.5L233.8,52.9L234.1,52.3L234.4,51.7L234.7,51.1L235.2,50.5L235.5,50.1L235.9,49.6L236.4,49.2L237.0,48.7L237.4,48.4L237.9,48.1L238.5,47.8L239.2,47.5L240.0,47.2L240.6,47.1L241.5,46.9ZM256.7,67.0L257.4,66.9L258.3,66.9L259.2,67.0L259.8,67.1L260.7,67.2L261.3,67.3L262.1,67.6L262.8,67.9L263.4,68.2L263.9,68.5L264.3,68.8L264.8,69.4L265.1,70.0L265.2,70.9L265.2,71.5L265.5,72.2L266.1,72.7L266.6,73.0L267.2,73.3L267.8,73.6L268.3,73.9L268.8,74.2L269.4,74.7L269.9,75.1L270.3,75.6L270.6,76.0L271.0,76.6L271.2,77.2L271.3,78.1L271.3,79.0L271.1,79.6L270.9,80.2L270.5,80.8L270.0,81.4L269.7,81.7L269.1,82.1L268.5,82.5L267.9,82.9L267.3,83.2L266.7,83.4L266.1,83.6L265.2,83.8L264.6,83.9L263.7,84.0L262.8,84.1L261.9,84.1L261.0,84.0L260.1,83.9L259.5,83.7L258.7,83.5L258.0,83.3L257.4,83.0L256.8,82.7L256.2,82.4L255.7,82.0L255.3,81.7L254.8,81.1L254.4,80.6L254.1,80.1L253.8,79.4L253.7,78.7L253.7,77.8L253.8,77.2L254.1,76.5L254.4,75.9L254.8,75.4L255.2,74.8L255.5,74.2L255.3,73.4L254.8,73.0L254.2,72.7L253.5,72.4L252.9,72.1L252.3,71.8L251.7,71.5L251.1,71.3L250.5,71.5L250.2,72.4L250.2,73.0L250.1,73.9L250.1,74.8L250.0,75.7L249.9,76.3L249.7,77.2L249.5,77.8L249.3,78.5L249.0,79.3L248.8,79.9L248.5,80.5L248.2,81.1L247.9,81.7L247.6,82.3L247.2,82.9L246.9,83.5L246.6,83.9L246.3,84.4L245.9,85.0L245.4,85.6L245.1,86.0L244.7,86.5L244.2,87.0L243.8,87.4L243.3,87.9L242.8,88.3L242.4,88.7L241.8,89.1L241.2,89.5L240.7,89.8L240.0,90.1L239.4,90.3L238.8,90.5L237.9,90.5L237.0,90.4L236.4,90.1L236.0,89.8L235.5,89.3L235.2,88.8L234.9,88.0L234.8,87.4L234.6,86.5L234.6,85.6L234.7,84.7L234.8,83.8L234.9,83.2L235.2,82.3L235.3,81.7L235.5,81.1L235.8,80.4L236.1,79.6L236.4,79.0L236.7,78.4L237.0,77.8L237.3,77.2L237.6,76.7L237.9,76.2L238.2,75.7L238.7,75.1L239.1,74.5L239.4,74.1L239.8,73.6L240.3,73.1L240.7,72.7L241.2,72.2L241.6,71.8L242.1,71.4L242.7,71.0L243.2,70.6L243.7,70.3L244.3,70.0L245.0,69.7L245.7,69.5L246.3,69.4L247.2,69.3L248.1,69.4L248.7,69.5L249.3,69.7L250.2,69.8L250.8,69.4L251.2,69.1L251.7,68.7L252.3,68.3L252.9,68.0L253.5,67.7L254.1,67.5L254.9,67.3L255.6,67.1L256.5,67.0Z" fill="none" stroke="rgb(122,122,122)" stroke-width="0.5"/>
<path d="M240.9,47.8L241.8,47.7L242.7,47.7L243.6,47.7L244.5,47.7L245.4,47.7L246.3,47.7L247.2,47.7L248.1,47.7L249.0,47.7L249.9,47.7L250.8,47.7L251.7,47.7L252.6,47.7L253.5,47.7L254.4,47.7L255.3,47.7L256.2,47.6L257.1,47.6L258.0,47.6L258.9,47.6L259.8,47.6L260.7,47.6L261.6,47.6L262.5,47.6L263.4,47.6L264.3,47.6L265.2,47.6L266.1,47.6L267.0,47.6L267.9,47.6L268.7,47.8L269.4,48.0L270.0,48.2L270.6,48.5L271.2,48.8L271.8,49.2L272.3,49.6L272.7,50.0L273.2,50.5L273.6,51.0L273.9,51.5L274.2,52.0L274.5,52.6L274.8,53.3L275.0,54.1L275.1,54.7L275.2,55.6L275.2,56.5L275.1,57.2L274.9,58.0L274.8,58.6L274.5,59.2L274.2,59.8L273.9,60.4L273.4,61.0L273.0,61.5L272.6,61.9L272.1,62.4L271.5,62.8L271.0,63.1L270.4,63.4L269.7,63.7L269.1,63.9L268.5,64.1L267.6,64.2L266.7,64.2L265.8,64.2L264.9,64.2L264.0,64.2L263.1,64.2L262.2,64.2L261.3,64.2L260.4,64.2L259.5,64.2L258.6,64.2L257.7,64.2L256.8,64.2L255.9,64.2L255.0,64.3L254.1,64.3L253.2,64.3L252.3,64.3L251.4,64.3L250.5,64.3L249.6,64.3L248.7,64.3L247.8,64.3L246.9,64.3L246.0,64.3L245.1,64.3L244.5,64.3L243.6,64.3L242.7,64.3L241.8,64.3L241.2,64.2L240.3,64.1L239.7,63.9L239.1,63.6L238.5,63.4L237.9,63.0L237.3,62.6L236.9,62.2L236.4,61.8L236.0,61.3L235.5,60.7L235.2,60.2L234.9,59.6L234.6,58.9L234.4,58.3L234.3,57.7L234.1,56.8L234.1,55.9L234.1,55.0L234.3,54.1L234.5,53.5L234.7,52.9L235.0,52.3L235.3,51.7L235.7,51.1L236.1,50.6L236.4,50.2L237.0,49.7L237.5,49.3L237.9,49.0L238.5,48.6L239.1,48.3L239.7,48.1L240.6,47.9ZM256.0,68.2L256.8,68.1L257.7,68.0L258.6,68.0L259.5,68.1L260.1,68.2L261.0,68.5L261.6,68.7L262.2,69.1L262.5,69.4L262.9,70.0L262.8,70.8L262.5,71.3L262.0,71.8L261.6,72.2L261.0,72.6L260.4,72.8L259.5,72.7L258.9,72.7L258.0,72.5L257.4,72.4L256.5,72.2L255.9,72.0L255.3,71.8L254.7,71.5L254.1,71.2L253.5,70.6L253.3,70.0L253.6,69.4L254.1,68.9L254.7,68.6L255.3,68.4ZM245.2,70.6L246.0,70.4L246.9,70.5L247.5,70.6L248.1,71.0L248.6,71.5L248.9,72.1L249.1,72.7L249.2,73.6L249.3,74.5L249.2,75.4L249.1,76.3L249.0,77.0L248.8,77.8L248.6,78.4L248.4,79.1L248.1,79.9L247.8,80.5L247.6,81.1L247.3,81.7L246.9,82.3L246.6,82.9L246.3,83.4L246.0,83.8L245.6,84.4L245.1,85.0L244.8,85.4L244.4,85.9L243.9,86.4L243.5,86.8L243.0,87.3L242.5,87.7L242.1,88.0L241.5,88.4L240.9,88.8L240.3,89.1L239.7,89.3L238.8,89.5L238.3,89.5L237.6,89.4L237.0,89.1L236.4,88.7L236.1,88.3L235.8,87.7L235.5,86.8L235.4,86.2L235.4,85.3L235.4,84.4L235.5,83.8L235.6,82.9L235.8,82.3L236.1,81.4L236.3,80.8L236.5,80.2L236.7,79.6L237.0,79.0L237.3,78.4L237.6,77.8L238.0,77.2L238.3,76.6L238.7,76.0L239.1,75.5L239.4,75.1L239.9,74.5L240.3,74.0L240.7,73.6L241.2,73.1L241.6,72.7L242.1,72.3L242.7,71.8L243.2,71.5L243.7,71.2L244.3,70.9L245.1,70.6ZM260.3,73.3L261.0,73.2L261.9,73.3L262.5,73.4L263.4,73.5L264.0,73.7L264.8,73.9L265.5,74.1L266.1,74.3L266.7,74.6L267.3,75.0L267.9,75.4L268.3,75.7L268.8,76.3L269.1,76.8L269.4,77.5L269.5,78.1L269.4,79.0L269.2,79.6L268.9,80.2L268.5,80.6L268.0,81.1L267.6,81.4L267.0,81.8L266.4,82.1L265.8,82.3L264.9,82.6L264.3,82.7L263.4,82.8L262.5,82.9L261.6,82.8L260.7,82.7L260.1,82.6L259.2,82.3L258.6,82.1L258.0,81.8L257.4,81.4L257.0,81.1L256.5,80.6L256.1,80.2L255.8,79.6L255.6,79.0L255.5,78.1L255.6,77.5L255.9,76.8L256.2,76.3L256.7,75.7L257.1,75.3L257.7,74.8L258.2,74.5L258.7,74.2L259.2,73.9L259.8,73.5Z" fill="#000" fill-opacity="0.07" fill-rule="evenodd" stroke="rgb(109,109,109)" stroke-width="0.5"/>
<path d="M240.6,48.7L241.5,48.5L242.4,48.5L243.3,48.5L244.2,48.5L245.1,48.5L246.0,48.5L246.9,48.6L247.8,48.6L248.7,48.6L249.6,48.6L250.5,48.5L251.4,48.5L252.3,48.5L253.2,48.5L254.1,48.5L255.0,48.5L255.9,48.5L256.8,48.5L257.7,48.5L258.6,48.5L259.5,48.5L260.4,48.5L261.3,48.5L262.2,48.5L263.1,48.5L264.0,48.4L264.9,48.4L265.8,48.4L266.7,48.4L267.6,48.4L268.5,48.6L269.1,48.8L269.7,49.0L270.4,49.3L270.9,49.6L271.5,50.0L272.1,50.5L272.4,50.8L272.9,51.4L273.3,52.0L273.6,52.6L273.9,53.2L274.1,53.8L274.3,54.4L274.4,55.3L274.4,56.2L274.3,57.1L274.2,57.7L273.9,58.6L273.6,59.2L273.3,59.8L273.0,60.2L272.6,60.7L272.1,61.3L271.7,61.6L271.2,62.0L270.6,62.4L270.0,62.7L269.4,62.9L268.8,63.1L267.9,63.3L267.0,63.4L266.1,63.4L265.2,63.4L264.3,63.4L263.4,63.4L262.5,63.4L261.6,63.3L260.7,63.3L259.8,63.3L258.9,63.3L258.0,63.4L257.1,63.4L256.2,63.4L255.3,63.4L254.4,63.4L253.5,63.4L252.6,63.4L251.7,63.4L250.8,63.4L249.9,63.4L249.0,63.4L248.1,63.4L247.2,63.4L246.6,63.4L245.7,63.4L244.8,63.4L243.9,63.5L243.0,63.5L242.1,63.5L241.2,63.4L240.6,63.3L240.0,63.1L239.3,62.8L238.7,62.5L238.2,62.2L237.6,61.7L237.1,61.3L236.7,60.8L236.4,60.4L236.0,59.8L235.6,59.2L235.4,58.6L235.2,58.0L235.0,57.1L234.9,56.2L235.0,55.3L235.1,54.4L235.3,53.8L235.5,53.1L235.8,52.5L236.1,52.0L236.5,51.4L237.0,50.8L237.3,50.5L237.9,50.0L238.5,49.6L239.0,49.3L239.7,49.0L240.3,48.8ZM244.7,71.8L245.4,71.7L246.3,71.7L246.9,71.9L247.5,72.4L247.8,72.8L248.1,73.4L248.3,74.2L248.4,75.1L248.4,76.0L248.3,76.9L248.1,77.6L247.9,78.4L247.7,79.0L247.5,79.6L247.2,80.3L246.9,81.0L246.6,81.6L246.3,82.1L246.0,82.6L245.6,83.2L245.2,83.8L244.8,84.4L244.5,84.8L244.0,85.3L243.6,85.8L243.1,86.2L242.7,86.6L242.1,87.1L241.6,87.4L241.1,87.7L240.5,88.0L239.7,88.3L239.1,88.3L238.4,88.3L237.6,88.0L237.2,87.7L236.8,87.1L236.5,86.5L236.3,85.9L236.2,85.0L236.2,84.1L236.3,83.2L236.5,82.6L236.7,81.7L236.9,81.1L237.1,80.5L237.3,79.9L237.6,79.2L237.9,78.6L238.2,78.0L238.5,77.5L238.9,76.9L239.3,76.3L239.7,75.7L240.0,75.4L240.5,74.8L240.9,74.3L241.3,73.9L241.8,73.5L242.4,73.0L242.8,72.7L243.3,72.4L243.9,72.1ZM262.1,75.4L262.8,75.4L263.4,75.5L264.3,75.7L264.9,75.9L265.5,76.2L266.1,76.6L266.4,76.9L266.8,77.5L266.9,78.4L266.7,79.2L266.4,79.7L265.8,80.2L265.4,80.5L264.7,80.8L264.0,81.0L263.4,81.1L262.5,81.2L261.6,81.1L261.0,81.0L260.3,80.8L259.6,80.5L259.2,80.2L258.6,79.7L258.3,79.2L258.1,78.4L258.2,77.5L258.6,76.9L258.9,76.6L259.5,76.2L260.1,75.9L260.7,75.6L261.6,75.4Z" fill="#000" fill-opacity="0.07" fill-rule="evenodd" stroke="rgb(96,96,96)" stroke-width="0.5"/>
<path d="M240.7,49.6L241.5,49.4L242.4,49.4L243.3,49.4L244.2,49.4L245.1,49.5L246.0,49.5L246.9,49.5L247.8,49.5L248.7,49.6L249.6,49.6L250.5,49.5L251.4,49.5L252.3,49.5L253.2,49.5L254.1,49.5L255.0,49.5L255.9,49.5L256.8,49.5L257.7,49.5L258.6,49.5L259.5,49.5L260.4,49.5L261.3,49.5L262.2,49.5L263.1,49.4L264.0,49.4L264.9,49.3L265.8,49.3L266.7,49.3L267.6,49.4L268.5,49.5L269.1,49.7L269.7,50.0L270.3,50.3L270.9,50.7L271.4,51.1L271.8,51.5L272.2,52.0L272.6,52.6L273.0,53.2L273.2,53.8L273.4,54.4L273.5,55.3L273.6,56.2L273.4,57.1L273.3,57.7L273.0,58.5L272.7,59.1L272.4,59.6L272.0,60.1L271.5,60.6L271.0,61.0L270.6,61.3L270.0,61.7L269.4,62.0L268.7,62.2L267.9,62.4L267.0,62.5L266.1,62.5L265.2,62.5L264.3,62.4L263.4,62.4L262.5,62.4L261.6,62.4L260.7,62.4L259.8,62.4L258.9,62.4L258.0,62.4L257.1,62.4L256.2,62.4L255.3,62.4L254.4,62.4L253.5,62.4L252.6,62.4L251.7,62.4L250.8,62.4L249.9,62.4L249.0,62.4L248.1,62.4L247.2,62.4L246.3,62.4L245.4,62.5L244.8,62.5L243.9,62.6L243.0,62.6L242.1,62.6L241.3,62.5L240.6,62.3L240.0,62.1L239.4,61.9L238.8,61.5L238.2,61.1L237.8,60.7L237.3,60.1L237.0,59.7L236.7,59.2L236.4,58.6L236.1,57.8L235.9,57.1L235.8,56.2L235.9,55.3L236.0,54.4L236.2,53.8L236.5,53.2L236.8,52.6L237.2,52.0L237.6,51.5L238.0,51.1L238.5,50.7L239.1,50.3L239.7,49.9L240.3,49.7ZM243.8,73.3L244.5,73.1L245.4,73.0L246.2,73.3L246.6,73.6L247.0,74.2L247.2,74.8L247.4,75.7L247.4,76.6L247.3,77.5L247.1,78.1L246.9,78.9L246.7,79.6L246.4,80.2L246.2,80.8L245.9,81.4L245.5,82.0L245.2,82.6L244.8,83.1L244.5,83.5L244.0,84.1L243.6,84.6L243.2,85.0L242.7,85.5L242.2,85.9L241.7,86.2L241.2,86.5L240.5,86.8L239.7,87.0L238.8,86.9L238.2,86.6L237.8,86.2L237.5,85.6L237.3,84.9L237.2,84.1L237.2,83.2L237.3,82.6L237.5,81.7L237.7,81.1L237.9,80.5L238.2,79.7L238.5,79.1L238.8,78.5L239.1,78.0L239.4,77.5L239.8,76.9L240.2,76.3L240.6,75.8L241.0,75.4L241.5,74.9L241.9,74.5L242.4,74.1L243.0,73.7L243.6,73.4Z" fill="#000" fill-opacity="0.07" fill-rule="evenodd" stroke="rgb(83,83,83)" stroke-width="0.5"/>
<path d="M241.0,50.5L241.8,50.3L242.7,50.3L243.6,50.3L244.5,50.4L245.1,50.5L246.0,50.6L246.9,50.7L247.8,50.7L248.7,50.7L249.6,50.7L250.5,50.7L251.4,50.7L252.3,50.7L253.2,50.7L254.1,50.7L255.0,50.7L255.9,50.7L256.8,50.7L257.7,50.7L258.6,50.7L259.5,50.7L260.4,50.7L261.3,50.6L262.2,50.6L263.1,50.5L263.7,50.4L264.6,50.4L265.5,50.3L266.4,50.3L267.3,50.3L268.2,50.5L268.8,50.6L269.4,50.9L270.0,51.2L270.6,51.7L270.9,52.0L271.5,52.6L271.8,53.1L272.1,53.6L272.4,54.4L272.5,55.0L272.6,55.9L272.5,56.8L272.4,57.4L272.1,58.2L271.8,58.7L271.5,59.2L270.9,59.8L270.6,60.1L270.0,60.6L269.4,60.9L268.8,61.2L268.2,61.3L267.3,61.5L266.4,61.5L265.5,61.5L264.6,61.4L263.7,61.4L262.8,61.3L262.2,61.3L261.3,61.2L260.4,61.2L259.5,61.2L258.6,61.2L257.7,61.2L256.8,61.2L255.9,61.2L255.0,61.2L254.1,61.2L253.2,61.2L252.3,61.2L251.4,61.2L250.5,61.2L249.6,61.2L248.7,61.2L247.8,61.2L246.9,61.3L246.3,61.3L245.4,61.4L244.5,61.5L243.6,61.6L243.0,61.6L242.1,61.6L241.5,61.6L240.6,61.3L240.0,61.1L239.4,60.7L238.9,60.4L238.5,60.0L238.0,59.5L237.6,58.9L237.3,58.3L237.1,57.7L236.9,57.1L236.8,56.2L236.9,55.3L237.0,54.6L237.3,53.8L237.5,53.2L237.9,52.6L238.2,52.3L238.7,51.7L239.1,51.4L239.7,51.0L240.3,50.7ZM243.8,74.8L244.5,74.7L245.1,74.8L245.7,75.3L246.0,75.9L246.1,76.6L246.1,77.5L246.0,78.4L245.9,79.0L245.7,79.6L245.4,80.2L245.1,80.9L244.8,81.4L244.4,82.0L244.0,82.6L243.6,83.1L243.3,83.5L242.7,84.1L242.3,84.4L241.8,84.7L241.2,85.1L240.3,85.3L239.4,85.1L238.9,84.7L238.6,84.1L238.5,83.5L238.5,82.6L238.5,82.0L238.7,81.1L238.9,80.5L239.1,79.9L239.4,79.3L239.7,78.7L240.1,78.1L240.5,77.5L240.9,77.0L241.2,76.6L241.8,76.0L242.2,75.7L242.7,75.3L243.3,75.0Z" fill="#000" fill-opacity="0.07" fill-rule="evenodd" stroke="rgb(70,70,70)" stroke-width="0.5"/>
<path d="M242.2,51.1L242.8,51.1L243.6,51.2L244.5,51.3L245.1,51.4L246.0,51.6L246.6,51.7L247.5,51.8L248.4,51.8L249.3,51.9L250.2,51.9L251.1,51.9L252.0,51.9L252.9,51.9L253.8,51.9L254.7,51.8L255.6,51.8L256.5,51.8L257.4,51.8L258.3,51.8L259.2,51.8L260.1,51.8L261.0,51.7L261.6,51.7L262.5,51.6L263.4,51.4L264.0,51.3L264.9,51.2L265.8,51.1L266.7,51.1L267.6,51.2L268.4,51.4L269.1,51.7L269.6,52.0L270.1,52.3L270.6,52.8L270.9,53.2L271.3,53.8L271.5,54.4L271.7,55.3L271.8,56.2L271.6,57.1L271.4,57.7L271.1,58.3L270.7,58.9L270.3,59.3L269.7,59.8L269.1,60.1L268.5,60.4L267.9,60.6L267.0,60.7L266.1,60.7L265.2,60.6L264.3,60.5L263.4,60.4L262.8,60.3L261.9,60.2L261.0,60.1L260.4,60.1L259.5,60.1L258.6,60.0L257.7,60.0L256.8,60.0L255.9,60.0L255.0,60.0L254.1,60.1L253.2,60.1L252.3,60.1L251.4,60.1L250.5,60.1L249.6,60.1L248.7,60.1L248.1,60.1L247.2,60.2L246.3,60.3L245.6,60.4L244.8,60.6L243.9,60.7L243.3,60.8L242.4,60.8L241.5,60.7L240.9,60.6L240.3,60.3L239.7,60.0L239.1,59.5L238.8,59.1L238.4,58.6L238.1,58.0L237.9,57.4L237.7,56.5L237.6,55.6L237.8,54.7L238.0,54.1L238.3,53.5L238.7,52.9L239.1,52.5L239.6,52.0L240.1,51.7L240.7,51.4L241.5,51.2ZM243.2,76.6L243.9,76.5L244.5,76.9L244.8,77.5L244.8,78.1L244.8,78.7L244.6,79.6L244.3,80.2L244.0,80.8L243.7,81.4L243.3,81.9L242.9,82.3L242.4,82.8L241.8,83.2L241.2,83.4L240.3,83.3L240.0,82.9L239.8,82.0L239.9,81.1L240.0,80.5L240.3,79.8L240.6,79.2L240.9,78.7L241.3,78.1L241.8,77.6L242.2,77.2L242.7,76.8Z" fill="#000" fill-opacity="0.018" fill-rule="evenodd" stroke="rgb(60,60,60)" stroke-width="0.5"/>
<path d="M241.3,51.7L242.1,51.6L243.0,51.6L243.9,51.7L244.5,51.8L245.2,52.0L246.0,52.2L246.6,52.4L247.5,52.5L248.4,52.6L249.0,52.6L249.9,52.6L250.8,52.6L251.7,52.6L252.6,52.6L253.5,52.6L254.4,52.6L255.3,52.6L256.2,52.6L257.1,52.6L257.8,52.6L258.6,52.6L259.5,52.6L260.4,52.5L261.3,52.4L261.9,52.3L262.8,52.1L263.4,52.0L264.3,51.8L265.0,51.7L265.8,51.6L266.7,51.6L267.6,51.7L268.2,51.8L268.8,52.1L269.4,52.4L270.0,52.9L270.3,53.2L270.7,53.8L271.0,54.4L271.2,55.1L271.3,55.9L271.2,56.7L271.0,57.4L270.7,58.0L270.3,58.6L270.0,58.9L269.4,59.4L268.8,59.7L268.2,60.0L267.6,60.1L266.7,60.2L265.8,60.2L265.0,60.1L264.3,60.0L263.4,59.8L262.8,59.7L261.9,59.5L261.3,59.4L260.4,59.3L259.5,59.3L258.6,59.3L257.7,59.3L256.8,59.3L255.9,59.3L255.0,59.3L254.1,59.3L253.2,59.3L252.3,59.3L251.4,59.3L250.5,59.3L249.6,59.3L248.7,59.3L247.8,59.4L247.0,59.5L246.3,59.6L245.6,59.8L244.8,60.0L244.2,60.2L243.3,60.3L242.4,60.3L241.5,60.3L240.9,60.1L240.3,59.8L239.7,59.4L239.2,58.9L238.8,58.3L238.5,57.8L238.3,57.1L238.1,56.5L238.1,55.6L238.2,55.0L238.5,54.1L238.8,53.6L239.1,53.1L239.6,52.6L240.0,52.3L240.6,52.0ZM242.4,78.4L243.0,78.1L243.6,78.5L243.6,79.3L243.5,79.9L243.2,80.5L242.8,81.1L242.4,81.5L241.8,81.8L241.1,81.7L241.0,80.8L241.2,79.9L241.5,79.4L241.8,78.9Z" fill="#000" fill-opacity="0.018" fill-rule="evenodd" stroke="rgb(60,60,60)" stroke-width="0.5"/>
<path d="M241.7,52.0L242.4,51.9L243.3,52.0L243.9,52.1L244.7,52.3L245.4,52.6L246.0,52.8L246.6,53.0L247.5,53.2L248.1,53.3L249.0,53.4L249.9,53.4L250.8,53.4L251.7,53.4L252.6,53.4L253.5,53.4L254.4,53.4L255.3,53.4L256.2,53.4L257.1,53.4L258.0,53.3L258.9,53.3L259.8,53.3L260.4,53.2L261.3,53.0L261.9,52.9L262.8,52.7L263.4,52.5L264.1,52.3L264.9,52.1L265.8,52.0L266.4,52.0L267.0,52.0L267.9,52.2L268.5,52.4L269.1,52.7L269.7,53.2L270.0,53.5L270.4,54.1L270.7,54.7L270.9,55.6L270.8,56.5L270.6,57.3L270.3,57.9L270.0,58.3L269.4,58.9L268.9,59.2L268.3,59.5L267.6,59.7L266.9,59.8L266.2,59.8L265.5,59.7L264.6,59.6L264.0,59.5L263.1,59.2L262.5,59.1L261.8,58.9L261.0,58.7L260.1,58.6L259.5,58.6L258.6,58.5L257.7,58.5L256.8,58.5L255.9,58.5L255.0,58.5L254.1,58.5L253.2,58.5L252.3,58.5L251.4,58.5L250.5,58.6L249.6,58.6L248.7,58.6L248.1,58.6L247.2,58.8L246.6,59.0L245.9,59.2L245.1,59.5L244.5,59.6L243.9,59.8L243.0,59.9L242.1,60.0L241.3,59.8L240.6,59.5L240.1,59.2L239.7,58.9L239.2,58.3L238.9,57.7L238.6,57.1L238.5,56.2L238.5,55.7L238.6,55.0L238.8,54.4L239.1,53.8L239.5,53.2L240.0,52.8L240.6,52.4L241.2,52.1Z" fill="#000" fill-opacity="0.018" fill-rule="evenodd" stroke="rgb(60,60,60)" stroke-width="0.5"/>
<path d="M241.9,52.3L242.7,52.3L243.3,52.3L244.2,52.5L244.8,52.8L245.4,53.0L246.0,53.3L246.6,53.6L247.2,53.8L248.1,54.1L248.7,54.2L249.6,54.2L250.5,54.2L251.4,54.2L252.3,54.2L253.2,54.2L254.1,54.2L255.0,54.2L255.9,54.2L256.8,54.2L257.7,54.2L258.6,54.2L259.3,54.1L260.1,54.0L261.0,53.8L261.6,53.6L262.2,53.4L262.8,53.2L263.5,52.9L264.3,52.7L264.9,52.5L265.8,52.4L266.7,52.3L267.6,52.4L268.2,52.6L268.8,52.9L269.4,53.4L269.8,53.8L270.2,54.4L270.4,55.0L270.5,55.9L270.4,56.8L270.2,57.4L269.8,58.0L269.4,58.4L268.8,58.9L268.2,59.2L267.6,59.4L266.7,59.5L265.8,59.4L264.9,59.3L264.3,59.1L263.5,58.9L262.8,58.7L262.2,58.4L261.6,58.2L260.8,58.0L260.1,57.9L259.2,57.7L258.3,57.7L257.7,57.7L256.8,57.7L255.9,57.7L255.0,57.7L254.4,57.7L253.5,57.7L252.6,57.7L251.7,57.7L250.8,57.7L249.9,57.7L249.0,57.8L248.1,57.9L247.5,58.0L246.7,58.3L246.1,58.6L245.4,58.9L244.8,59.1L244.2,59.3L243.6,59.5L242.7,59.6L241.8,59.6L241.2,59.4L240.6,59.1L240.0,58.7L239.6,58.3L239.2,57.7L239.0,57.1L238.8,56.2L238.9,55.3L239.1,54.5L239.4,53.9L239.7,53.5L240.3,53.0L240.9,52.6L241.5,52.4Z" fill="#000" fill-opacity="0.018" fill-rule="evenodd" stroke="rgb(60,60,60)" stroke-width="0.5"/>
<path d="M241.9,52.6L242.7,52.6L243.3,52.6L244.2,52.9L244.8,53.1L245.4,53.5L246.0,53.8L246.4,54.1L246.9,54.4L247.5,54.8L248.1,55.2L248.7,55.4L249.3,55.6L250.2,55.8L251.1,55.9L250.8,55.9L249.9,56.2L249.3,56.3L248.7,56.5L248.1,56.8L247.5,57.1L246.9,57.5L246.3,57.9L245.7,58.3L245.1,58.6L244.5,58.9L243.9,59.1L243.3,59.2L242.4,59.3L241.5,59.2L240.9,58.9L240.4,58.6L240.0,58.2L239.6,57.7L239.3,57.1L239.1,56.2L239.2,55.3L239.4,54.6L239.7,54.0L240.1,53.5L240.6,53.1L241.2,52.8ZM264.8,52.9L265.5,52.7L266.4,52.7L267.3,52.7L268.0,52.9L268.6,53.2L269.1,53.6L269.6,54.1L269.9,54.7L270.1,55.3L270.2,56.2L270.0,56.9L269.7,57.5L269.3,58.0L268.8,58.5L268.2,58.8L267.6,59.0L266.7,59.1L265.8,59.1L264.9,58.9L264.3,58.8L263.7,58.6L263.1,58.3L262.5,58.0L261.9,57.7L261.3,57.4L260.7,57.1L260.1,56.8L259.3,56.5L258.6,56.3L258.0,56.2L257.1,56.0L256.2,55.9L255.9,55.9L256.8,55.9L257.7,55.8L258.4,55.6L259.2,55.4L259.8,55.2L260.4,54.9L261.0,54.6L261.6,54.3L262.2,54.0L262.8,53.7L263.4,53.4L264.0,53.1Z" fill="#000" fill-opacity="0.018" fill-rule="evenodd" stroke="rgb(60,60,60)" stroke-width="0.5"/>
<path d="M241.8,52.9L242.4,52.8L243.2,52.9L243.9,53.1L244.5,53.3L245.1,53.7L245.7,54.1L246.0,54.4L246.5,55.0L246.9,55.6L246.9,56.0L246.6,56.8L246.3,57.2L245.8,57.7L245.4,58.0L244.8,58.4L244.2,58.7L243.5,58.9L242.7,59.0L241.8,59.0L241.2,58.8L240.6,58.4L240.1,58.0L239.7,57.4L239.5,56.8L239.4,56.2L239.4,55.6L239.6,54.7L240.0,54.1L240.3,53.7L240.9,53.2L241.5,53.0ZM264.9,53.2L265.5,53.1L266.4,53.0L267.3,53.0L267.9,53.2L268.5,53.5L269.1,54.0L269.4,54.4L269.7,55.0L269.9,55.9L269.7,56.8L269.4,57.4L269.1,57.8L268.5,58.3L267.9,58.6L267.3,58.8L266.4,58.8L265.5,58.7L264.9,58.6L264.0,58.3L263.4,58.0L262.9,57.7L262.5,57.4L261.9,56.9L261.6,56.5L261.5,55.6L261.9,55.0L262.2,54.7L262.8,54.2L263.4,53.8L264.0,53.5L264.6,53.3Z" fill="#000" fill-opacity="0.018" fill-rule="evenodd" stroke="rgb(60,60,60)" stroke-width="0.5"/>
<path d="M241.7,53.2L242.4,53.1L243.3,53.2L243.9,53.4L244.5,53.7L245.1,54.1L245.4,54.4L245.9,55.0L246.1,55.6L246.1,56.5L245.7,57.1L245.4,57.5L244.8,58.0L244.3,58.3L243.6,58.6L243.0,58.7L242.1,58.8L241.4,58.6L240.9,58.3L240.3,57.8L240.0,57.3L239.7,56.5L239.6,55.9L239.7,55.3L240.0,54.5L240.3,54.1L240.9,53.6L241.5,53.2ZM265.0,53.5L265.8,53.3L266.7,53.2L267.6,53.4L268.2,53.6L268.8,54.1L269.1,54.5L269.4,55.0L269.6,55.9L269.4,56.8L269.1,57.3L268.8,57.7L268.2,58.2L267.6,58.4L266.7,58.6L265.8,58.5L264.9,58.3L264.3,58.1L263.7,57.7L263.2,57.4L262.8,57.0L262.5,56.5L262.4,55.6L262.7,55.0L263.1,54.5L263.7,54.1L264.2,53.8L264.9,53.5Z" fill="#000" fill-opacity="0.018" fill-rule="evenodd" stroke="rgb(60,60,60)" stroke-width="0.5"/>
<path d="M241.6,53.5L242.4,53.3L243.3,53.5L243.9,53.7L244.5,54.0L244.9,54.4L245.4,55.0L245.6,55.6L245.6,56.5L245.3,57.1L244.8,57.6L244.3,58.0L243.6,58.3L243.0,58.5L242.1,58.5L241.4,58.3L240.9,58.0L240.3,57.4L240.0,56.8L239.9,56.2L240.0,55.3L240.2,54.7L240.6,54.1L241.0,53.8ZM265.0,53.8L265.8,53.6L266.7,53.5L267.6,53.7L268.2,54.0L268.7,54.4L269.1,55.0L269.2,55.6L269.2,56.5L268.9,57.1L268.5,57.6L267.9,58.0L267.3,58.2L266.4,58.3L265.5,58.2L264.9,58.0L264.3,57.7L263.7,57.2L263.3,56.8L263.0,56.2L263.1,55.4L263.4,54.9L263.9,54.4L264.4,54.1Z" fill="#000" fill-opacity="0.018" fill-rule="evenodd" stroke="rgb(60,60,60)" stroke-width="0.5"/>
<path d="M241.5,53.8L242.1,53.6L243.0,53.7L243.6,53.8L244.2,54.2L244.8,54.7L245.1,55.3L245.2,55.9L245.1,56.6L244.8,57.1L244.2,57.7L243.7,58.0L243.0,58.2L242.1,58.2L241.4,58.0L240.9,57.7L240.4,57.1L240.2,56.5L240.2,55.6L240.3,55.0L240.7,54.4L241.2,54.0ZM265.1,54.1L265.8,53.9L266.7,53.8L267.6,54.0L268.2,54.3L268.5,54.7L268.9,55.3L268.9,56.2L268.7,56.8L268.3,57.4L267.8,57.7L267.0,58.0L266.1,58.0L265.2,57.7L264.6,57.5L264.1,57.1L263.7,56.6L263.5,55.9L263.7,55.3L264.1,54.7L264.6,54.3Z" fill="#000" fill-opacity="0.018" fill-rule="evenodd" stroke="rgb(60,60,60)" stroke-width="0.5"/>
<path d="M241.4,54.1L242.1,53.9L243.0,53.9L243.6,54.1L244.2,54.5L244.6,55.0L244.8,55.6L244.8,56.4L244.5,57.0L244.1,57.4L243.6,57.7L242.7,58.0L242.2,58.0L241.5,57.8L241.0,57.4L240.6,56.9L240.4,56.2L240.5,55.3L240.8,54.7L241.2,54.3ZM266.4,54.1L266.8,54.1L267.6,54.3L268.1,54.7L268.5,55.2L268.6,55.9L268.5,56.6L268.1,57.1L267.6,57.5L266.8,57.7L266.4,57.7L265.5,57.5L264.9,57.2L264.4,56.8L264.1,56.2L264.2,55.3L264.6,54.8L265.2,54.4L265.8,54.2Z" fill="#000" fill-opacity="0.018" fill-rule="evenodd" stroke="rgb(60,60,60)" stroke-width="0.5"/>
<path d="M242.3,54.7L242.6,54.7L243.0,54.8L243.3,55.0L243.6,55.3L243.8,55.9L243.6,56.5L243.4,56.8L243.0,57.0L242.7,57.1L242.1,57.1L241.8,57.0L241.5,56.7L241.2,56.2L241.2,55.9L241.2,55.6L241.5,55.1L241.8,54.9ZM266.3,55.3L266.7,55.3L267.0,55.4L267.3,55.7L267.3,56.1L267.0,56.4L266.7,56.5L266.3,56.5L265.8,56.2L265.7,55.9L265.8,55.6Z" fill="#fff" fill-opacity="0.75" stroke="rgb(60,60,60)" stroke-width="0.5"/>
</g>
<rect x="202.40" y="27.00" width="79.90" height="83.40" fill="none" stroke="#999" stroke-width="0.9"/>
<line x1="251.6" y1="27" x2="251.6" y2="110.4" stroke="#999" stroke-width="0.7"/>
<line x1="202.4" y1="73.3" x2="282.3" y2="73.3" stroke="#999" stroke-width="0.7"/>
<text x="204.3" y="37.2" font-size="10.3" text-anchor="start" fill="#111" stroke="#111" stroke-width="0.22" font-weight="normal" font-style="normal">33%</text>
<text x="281.1" y="37.2" font-size="10.3" text-anchor="end" fill="#111" stroke="#111" stroke-width="0.22" font-weight="normal" font-style="normal">51%</text>
<text x="204.3" y="108.10000000000001" font-size="10.3" text-anchor="start" fill="#b2364a" stroke="#b2364a" stroke-width="0.22" font-weight="normal" font-style="normal">9.2%</text>
<text x="281.1" y="108.10000000000001" font-size="10.3" text-anchor="end" fill="#111" stroke="#111" stroke-width="0.22" font-weight="normal" font-style="normal">6.8%</text>
<line x1="23.1" y1="110" x2="23.1" y2="33.7" stroke="#555" stroke-width="1.7"/>
<polygon points="23.1,27.3 19.5,34.7 26.700000000000003,34.7" fill="#111"/>
<line x1="29.2" y1="119.4" x2="272.4" y2="119.4" stroke="#222" stroke-width="1.4"/>
<polygon points="279,119.4 271.4,115.7 271.4,123.10000000000001" fill="#111"/>
<text transform="translate(18.4 109.6) rotate(-90) scale(0.877 1)" x="0" y="0" font-size="14.5" text-anchor="start" fill="#111" stroke="#111" stroke-width="0.22" font-weight="normal" font-style="normal">CCR5</text>
<text x="29" y="134.6" font-size="12" text-anchor="start" fill="#111" stroke="#111" stroke-width="0.22" font-weight="normal" font-style="normal">CXCR4</text>
<text x="334.5" y="11.6" font-size="13.5" text-anchor="start" fill="#000" stroke="#000" stroke-width="0.22" font-weight="bold" font-style="normal">B</text>
<line x1="378.2" y1="24.400000000000006" x2="378.2" y2="111.7" stroke="#3a3a3a" stroke-width="1"/>
<line x1="377.7" y1="111.2" x2="465.5" y2="111.2" stroke="#3a3a3a" stroke-width="1"/>
<line x1="375.7" y1="111.2" x2="378.2" y2="111.2" stroke="#3a3a3a" stroke-width="1"/>
<text x="375.4" y="114.5" font-size="9.3" text-anchor="end" fill="#111" stroke="#111" stroke-width="0.22" font-weight="normal" font-style="normal">0</text>
<line x1="375.7" y1="93.84" x2="378.2" y2="93.84" stroke="#3a3a3a" stroke-width="1"/>
<text x="375.4" y="97.14" font-size="9.3" text-anchor="end" fill="#111" stroke="#111" stroke-width="0.22" font-weight="normal" font-style="normal">2</text>
<line x1="375.7" y1="76.48" x2="378.2" y2="76.48" stroke="#3a3a3a" stroke-width="1"/>
<text x="375.4" y="79.78" font-size="9.3" text-anchor="end" fill="#111" stroke="#111" stroke-width="0.22" font-weight="normal" font-style="normal">4</text>
<line x1="375.7" y1="59.120000000000005" x2="378.2" y2="59.120000000000005" stroke="#3a3a3a" stroke-width="1"/>
<text x="375.4" y="62.42" font-size="9.3" text-anchor="end" fill="#111" stroke="#111" stroke-width="0.22" font-weight="normal" font-style="normal">6</text>
<line x1="375.7" y1="41.760000000000005" x2="378.2" y2="41.760000000000005" stroke="#3a3a3a" stroke-width="1"/>
<text x="375.4" y="45.06" font-size="9.3" text-anchor="end" fill="#111" stroke="#111" stroke-width="0.22" font-weight="normal" font-style="normal">8</text>
<line x1="375.7" y1="24.400000000000006" x2="378.2" y2="24.400000000000006" stroke="#3a3a3a" stroke-width="1"/>
<text x="375.4" y="27.700000000000006" font-size="9.3" text-anchor="end" fill="#111" stroke="#111" stroke-width="0.22" font-weight="normal" font-style="normal">10</text>
<rect x="381.20" y="108.50" width="14.80" height="2.70" fill="#fff" stroke="#222" stroke-width="0.9"/>
<line x1="388.6" y1="108.5" x2="388.6" y2="107.8" stroke="#111" stroke-width="0.9"/>
<line x1="384.456" y1="107.8" x2="392.744" y2="107.8" stroke="#111" stroke-width="0.9"/>
<rect x="403.50" y="71.20" width="14.50" height="40.00" fill="#111" stroke="#222" stroke-width="0.9"/>
<line x1="410.75" y1="71.2" x2="410.75" y2="68.5" stroke="#111" stroke-width="0.9"/>
<line x1="406.69" y1="68.5" x2="414.81" y2="68.5" stroke="#111" stroke-width="0.9"/>
<rect x="425.20" y="106.00" width="14.70" height="5.20" fill="#fff" stroke="#222" stroke-width="0.9"/>
<line x1="432.54999999999995" y1="106.0" x2="432.54999999999995" y2="105.1" stroke="#111" stroke-width="0.9"/>
<line x1="428.43399999999997" y1="105.1" x2="436.66599999999994" y2="105.1" stroke="#111" stroke-width="0.9"/>
<rect x="447.30" y="36.80" width="14.70" height="74.40" fill="#111" stroke="#222" stroke-width="0.9"/>
<line x1="454.65" y1="36.8" x2="454.65" y2="34.3" stroke="#111" stroke-width="0.9"/>
<line x1="450.534" y1="34.3" x2="458.76599999999996" y2="34.3" stroke="#111" stroke-width="0.9"/>
<text x="398.5" y="123.0" font-size="10.5" text-anchor="middle" fill="#111" stroke="#111" stroke-width="0.22" font-weight="normal" font-style="normal">MOI 100</text>
<text x="444.4" y="123.0" font-size="10.5" text-anchor="middle" fill="#111" stroke="#111" stroke-width="0.22" font-weight="normal" font-style="normal">MOI 600</text>
<text transform="translate(357.9 67) rotate(-90)" x="0" y="0" font-size="9.9" text-anchor="middle" fill="#111" stroke="#111" stroke-width="0.22" font-weight="normal" font-style="normal">Double negative cells (%)</text>
<text x="399.3" y="50.6" font-size="7" text-anchor="middle" fill="#111"><tspan font-style="italic">P</tspan>=.0001</text>
<line x1="387.3" y1="54.1" x2="411.8" y2="54.1" stroke="#444" stroke-width="0.8"/>
<text x="442" y="25.6" font-size="7" text-anchor="middle" fill="#111"><tspan font-style="italic">P</tspan>&lt;.0001</text>
<line x1="430.0" y1="28.8" x2="454.5" y2="28.8" stroke="#444" stroke-width="0.8"/>
<rect x="476.00" y="13.20" width="6.50" height="6.30" fill="#fff" stroke="#111" stroke-width="1.0"/>
<rect x="476.00" y="24.30" width="6.50" height="6.30" fill="#111" stroke="#111" stroke-width="1.0"/>
<text x="487.4" y="19.9" font-size="10.4" text-anchor="start" fill="#111" stroke="#111" stroke-width="0.22" font-weight="normal" font-style="normal">GFP</text>
<text x="487.4" y="31.1" font-size="10.4" text-anchor="start" fill="#111" stroke="#111" stroke-width="0.22" font-weight="normal" font-style="normal">ZFN</text>
<text x="1.3" y="159.1" font-size="14" text-anchor="start" fill="#000" stroke="#000" stroke-width="0.22" font-weight="bold" font-style="normal">C</text>
<text x="67.2" y="160.5" font-size="12.3" text-anchor="middle" fill="#111" stroke="#111" stroke-width="0.22" font-weight="normal" font-style="normal">day 5</text>
<text x="151.3" y="160.5" font-size="12.3" text-anchor="middle" fill="#111" stroke="#111" stroke-width="0.22" font-weight="normal" font-style="normal">day 8</text>
<text x="236.5" y="160.5" font-size="12.3" text-anchor="middle" fill="#111" stroke="#111" stroke-width="0.22" font-weight="normal" font-style="normal">day 25</text>
<g clip-path="url(#cb4)">
<path d="M87.3,190.6L88.0,190.6L88.9,190.5L89.8,190.4L90.7,190.4L91.6,190.3L92.5,190.3L93.4,190.4L94.3,190.5L94.9,190.7L95.6,190.9L96.3,191.2L96.9,191.5L97.4,191.8L97.9,192.2L98.5,192.7L98.8,193.0L99.4,193.6L99.7,194.0L100.0,194.5L100.4,195.1L100.7,195.7L100.9,196.3L101.2,197.2L101.3,197.8L101.4,198.7L101.4,199.6L101.4,200.5L101.2,201.3L101.0,202.0L100.8,202.6L100.5,203.2L100.2,203.8L99.8,204.4L99.4,205.0L99.1,205.3L98.5,205.9L98.2,206.2L97.6,206.6L97.0,207.0L96.4,207.3L95.8,207.6L95.2,207.8L94.6,208.0L93.7,208.2L92.8,208.3L92.0,208.3L91.3,208.3L90.4,208.4L89.5,208.4L88.6,208.5L87.7,208.5L86.8,208.5L85.9,208.6L85.3,208.6L84.4,208.7L83.5,208.7L82.6,208.8L81.7,208.8L80.8,208.8L79.9,208.9L79.3,208.9L78.4,209.0L77.5,209.0L76.6,209.1L75.7,209.1L74.8,209.2L74.2,209.3L73.3,209.4L72.5,209.5L71.8,209.7L70.9,209.8L70.0,209.7L69.1,209.7L68.2,209.6L67.6,209.5L66.7,209.3L66.1,209.1L65.4,208.9L64.7,208.6L64.1,208.3L63.7,208.0L63.1,207.6L62.5,207.1L62.2,206.8L61.7,206.2L61.3,205.7L61.0,205.2L60.7,204.7L60.4,204.1L60.1,203.3L59.9,202.6L59.8,202.0L59.7,201.1L59.6,200.2L59.7,199.3L59.8,198.7L60.1,197.8L60.3,197.2L60.5,196.6L60.8,196.0L61.2,195.4L61.6,194.9L61.9,194.5L62.5,193.9L62.9,193.6L63.4,193.2L64.0,192.8L64.6,192.5L65.2,192.2L65.8,192.0L66.4,191.8L67.3,191.6L68.2,191.5L68.9,191.5L69.7,191.5L70.6,191.4L71.5,191.4L72.4,191.3L73.3,191.3L74.2,191.3L75.1,191.2L75.7,191.2L76.6,191.1L77.5,191.1L78.4,191.1L79.3,191.0L80.2,191.0L81.1,190.9L81.7,190.9L82.6,190.8L83.5,190.8L84.4,190.7L85.3,190.7L86.2,190.7L87.1,190.6ZM70.2,210.4L70.9,210.2L71.8,210.2L72.5,210.4L73.3,210.7L73.9,210.9L74.5,211.3L74.9,211.6L75.4,212.1L75.7,212.6L75.9,213.4L76.0,214.3L76.3,214.7L77.2,214.8L78.1,214.8L79.0,214.7L79.9,214.6L80.5,214.6L81.4,214.5L82.3,214.5L83.2,214.5L84.1,214.6L84.7,214.6L85.6,214.7L86.5,214.7L87.4,214.8L88.3,214.8L89.2,214.9L89.8,214.9L90.7,215.0L91.6,215.1L92.2,215.3L93.0,215.5L93.7,215.8L94.3,216.1L94.7,216.4L95.2,216.8L95.7,217.3L96.0,217.9L96.3,218.5L96.4,219.4L96.2,220.3L95.9,220.9L95.5,221.5L95.2,221.8L94.6,222.3L94.0,222.6L93.4,222.9L92.8,223.2L92.2,223.3L91.3,223.5L90.7,223.6L89.8,223.7L88.9,223.7L88.0,223.8L87.1,223.8L86.2,223.9L85.6,223.9L84.7,224.0L83.8,224.1L82.9,224.1L82.0,224.1L81.1,224.1L80.2,224.0L79.3,223.9L78.7,223.8L77.8,223.7L77.2,223.5L76.4,223.3L75.7,223.1L75.1,222.8L74.5,222.5L73.9,222.2L73.3,221.8L72.7,221.6L72.1,221.8L71.6,222.4L71.2,222.9L70.9,223.4L70.5,223.9L70.1,224.5L69.7,225.1L69.4,225.4L68.9,226.0L68.5,226.5L68.1,226.9L67.6,227.3L67.0,227.8L66.4,228.1L65.8,228.4L65.2,228.6L64.3,228.6L63.5,228.4L63.0,228.1L62.5,227.5L62.2,227.0L62.0,226.3L61.8,225.7L61.7,224.8L61.7,223.9L61.8,223.0L61.9,222.4L62.1,221.5L62.3,220.9L62.5,220.2L62.8,219.4L63.0,218.8L63.3,218.2L63.6,217.6L64.0,217.0L64.3,216.4L64.6,216.0L64.9,215.5L65.4,214.9L65.8,214.4L66.1,214.0L66.6,213.4L67.0,212.9L67.3,212.5L67.9,211.9L68.2,211.6L68.8,211.1L69.4,210.8L70.0,210.5Z" fill="none" stroke="rgb(122,122,122)" stroke-width="0.5"/>
<path d="M89.8,191.2L90.4,191.2L91.3,191.1L92.2,191.0L93.1,191.1L93.9,191.2L94.6,191.3L95.2,191.5L95.8,191.8L96.4,192.1L97.0,192.4L97.6,192.9L98.1,193.3L98.5,193.7L98.9,194.2L99.4,194.8L99.7,195.3L100.0,195.9L100.3,196.6L100.5,197.2L100.6,197.9L100.7,198.7L100.7,199.6L100.6,200.5L100.5,201.1L100.3,201.9L100.0,202.6L99.7,203.2L99.4,203.7L99.1,204.2L98.7,204.7L98.2,205.2L97.7,205.6L97.3,205.9L96.7,206.3L96.1,206.7L95.5,206.9L94.9,207.1L94.0,207.4L93.4,207.5L92.5,207.5L91.6,207.6L90.7,207.6L89.8,207.6L88.9,207.7L88.0,207.7L87.4,207.7L86.5,207.8L85.6,207.8L84.7,207.9L83.8,207.9L82.9,207.9L82.0,208.0L81.4,208.0L80.5,208.1L79.6,208.1L78.7,208.2L77.8,208.2L76.9,208.3L76.0,208.3L75.4,208.3L74.5,208.4L73.6,208.4L72.7,208.5L71.8,208.6L71.2,208.6L70.3,208.7L69.4,208.8L68.5,208.8L67.6,208.7L67.0,208.6L66.1,208.4L65.5,208.2L64.9,207.9L64.3,207.5L63.7,207.1L63.3,206.8L62.8,206.3L62.4,205.9L61.9,205.3L61.6,204.8L61.3,204.2L61.0,203.6L60.8,202.9L60.6,202.3L60.4,201.4L60.4,200.5L60.5,199.6L60.6,198.7L60.8,198.1L61.0,197.4L61.3,196.8L61.6,196.2L61.9,195.7L62.4,195.1L62.8,194.7L63.3,194.2L63.7,193.9L64.3,193.5L64.9,193.1L65.5,192.9L66.1,192.7L67.0,192.4L67.6,192.3L68.5,192.3L69.4,192.2L70.3,192.2L71.2,192.2L72.1,192.1L73.0,192.1L73.6,192.1L74.5,192.0L75.4,192.0L76.3,191.9L77.2,191.9L78.1,191.9L79.0,191.8L79.6,191.8L80.5,191.7L81.4,191.7L82.3,191.6L83.2,191.6L84.1,191.5L85.0,191.5L85.6,191.5L86.5,191.4L87.4,191.4L88.3,191.3L89.2,191.2ZM69.9,211.6L70.6,211.4L71.5,211.4L72.4,211.5L73.0,211.7L73.6,212.1L74.0,212.5L74.3,213.1L74.1,213.7L73.7,214.3L73.3,214.7L73.0,215.2L72.8,216.1L72.8,217.0L72.8,217.9L72.7,218.8L72.6,219.4L72.3,220.0L72.0,220.6L71.7,221.2L71.3,221.8L71.0,222.4L70.6,223.0L70.3,223.5L70.0,224.0L69.6,224.5L69.2,225.1L68.8,225.5L68.4,226.0L67.9,226.5L67.4,226.9L66.9,227.2L66.4,227.5L65.7,227.8L64.9,228.0L64.0,227.8L63.4,227.5L63.1,227.2L62.7,226.6L62.4,226.0L62.3,225.1L62.2,224.3L62.2,223.9L62.3,223.0L62.4,222.1L62.5,221.5L62.8,220.6L63.0,220.0L63.2,219.4L63.4,218.8L63.7,218.2L64.0,217.6L64.4,217.0L64.8,216.4L65.2,215.8L65.5,215.4L65.9,214.9L66.4,214.4L66.7,214.0L67.3,213.4L67.6,213.1L68.2,212.6L68.7,212.2L69.2,211.9ZM79.5,215.8L80.2,215.7L81.1,215.6L82.0,215.6L82.9,215.6L83.8,215.7L84.7,215.7L85.6,215.8L86.2,215.8L87.1,215.9L88.0,215.9L88.9,215.9L89.8,215.9L90.7,216.0L91.4,216.1L92.2,216.3L92.8,216.5L93.4,216.8L94.0,217.3L94.3,217.6L94.7,218.2L95.0,218.8L95.0,219.7L94.8,220.3L94.4,220.9L94.0,221.3L93.4,221.8L92.8,222.1L92.2,222.3L91.6,222.5L90.7,222.6L89.8,222.7L89.2,222.7L88.3,222.7L87.4,222.7L86.5,222.8L85.6,222.8L84.7,222.9L83.8,222.9L82.9,223.0L82.0,223.0L81.1,223.0L80.2,222.9L79.3,222.8L78.7,222.6L77.8,222.4L77.2,222.2L76.6,222.0L76.0,221.6L75.4,221.3L75.0,220.9L74.5,220.3L74.2,219.7L74.2,219.1L74.3,218.5L74.8,217.9L75.1,217.6L75.7,217.1L76.3,216.8L76.9,216.5L77.5,216.3L78.1,216.1L79.0,215.9Z" fill="#000" fill-opacity="0.07" fill-rule="evenodd" stroke="rgb(109,109,109)" stroke-width="0.5"/>
<path d="M88.8,192.1L89.5,192.0L90.4,192.0L91.3,191.9L92.2,191.8L93.1,191.9L94.0,192.0L94.6,192.2L95.2,192.4L95.9,192.7L96.4,193.0L97.0,193.4L97.6,193.9L97.9,194.2L98.4,194.8L98.8,195.3L99.1,195.9L99.4,196.5L99.7,197.2L99.8,197.8L99.9,198.7L99.9,199.6L99.9,200.5L99.7,201.2L99.4,202.0L99.1,202.6L98.8,203.2L98.5,203.6L98.1,204.1L97.6,204.7L97.2,205.0L96.7,205.4L96.1,205.8L95.5,206.1L94.9,206.3L94.2,206.5L93.4,206.7L92.5,206.7L91.6,206.8L90.7,206.8L89.8,206.8L89.2,206.8L88.3,206.8L87.4,206.9L86.5,206.9L85.6,207.0L84.7,207.0L83.8,207.0L82.9,207.1L82.3,207.1L81.4,207.2L80.5,207.2L79.6,207.3L78.7,207.3L77.8,207.3L76.9,207.4L76.3,207.4L75.4,207.5L74.5,207.5L73.6,207.6L72.7,207.6L71.9,207.7L71.2,207.8L70.3,207.9L69.4,207.9L68.5,208.0L67.6,207.9L66.7,207.7L66.1,207.6L65.5,207.3L64.9,207.0L64.3,206.6L63.8,206.2L63.4,205.8L62.9,205.3L62.5,204.7L62.2,204.2L61.9,203.6L61.6,202.9L61.4,202.3L61.3,201.6L61.2,200.8L61.2,199.9L61.3,199.3L61.5,198.4L61.7,197.8L62.0,197.2L62.3,196.6L62.7,196.0L63.1,195.5L63.5,195.1L64.0,194.7L64.6,194.2L65.2,193.9L65.8,193.6L66.4,193.4L67.0,193.2L67.9,193.1L68.8,193.0L69.7,193.0L70.6,193.0L71.5,193.0L72.1,193.0L73.0,193.0L73.9,192.9L74.8,192.9L75.7,192.8L76.6,192.8L77.5,192.7L78.4,192.7L79.0,192.7L79.9,192.6L80.8,192.6L81.7,192.5L82.6,192.5L83.5,192.4L84.4,192.4L85.0,192.4L85.9,192.3L86.8,192.2L87.7,192.2L88.6,192.1ZM69.5,212.8L70.3,212.6L71.2,212.7L71.8,213.0L72.1,213.7L72.0,214.6L72.0,215.5L72.1,216.4L72.1,217.3L72.0,218.2L71.8,219.1L71.7,219.7L71.4,220.3L71.2,220.9L70.9,221.6L70.6,222.1L70.3,222.7L69.9,223.3L69.5,223.9L69.1,224.5L68.8,224.9L68.3,225.4L67.9,225.8L67.3,226.3L66.9,226.6L66.3,226.9L65.5,227.2L64.9,227.2L64.3,227.1L63.7,226.7L63.3,226.3L63.0,225.7L62.8,225.0L62.7,224.2L62.7,223.3L62.8,222.4L62.9,221.8L63.1,221.0L63.3,220.3L63.5,219.7L63.8,219.1L64.0,218.5L64.3,217.9L64.7,217.3L65.1,216.7L65.5,216.1L65.8,215.7L66.3,215.2L66.7,214.7L67.2,214.3L67.6,214.0L68.2,213.5L68.8,213.1L69.4,212.8ZM81.0,217.3L81.7,217.2L82.6,217.2L83.5,217.3L84.1,217.3L85.0,217.4L85.9,217.5L86.8,217.5L87.7,217.4L88.6,217.3L89.5,217.3L90.4,217.4L91.3,217.5L91.9,217.8L92.5,218.2L92.8,218.6L93.0,219.4L92.8,220.0L92.2,220.6L91.7,220.9L91.0,221.1L90.4,221.2L89.5,221.3L88.6,221.3L87.9,221.2L87.1,221.1L86.2,221.1L85.3,221.2L84.7,221.2L83.8,221.3L82.9,221.4L82.0,221.4L81.1,221.3L80.4,221.2L79.6,221.0L79.0,220.8L78.4,220.4L77.9,220.0L77.7,219.4L77.8,218.8L78.3,218.2L78.8,217.9L79.6,217.6L80.2,217.4Z" fill="#000" fill-opacity="0.07" fill-rule="evenodd" stroke="rgb(96,96,96)" stroke-width="0.5"/>
<path d="M92.2,192.7L92.6,192.7L93.4,192.8L94.3,193.0L94.9,193.2L95.5,193.4L96.1,193.8L96.7,194.2L97.0,194.5L97.6,195.1L97.9,195.5L98.2,196.0L98.5,196.6L98.8,197.3L99.0,198.1L99.1,198.9L99.1,199.6L99.0,200.2L98.8,201.1L98.6,201.7L98.4,202.3L98.0,202.9L97.6,203.4L97.3,203.8L96.7,204.3L96.2,204.7L95.7,205.0L95.1,205.3L94.3,205.6L93.7,205.7L92.8,205.8L91.9,205.9L91.0,205.9L90.1,205.9L89.2,205.9L88.3,205.9L87.6,205.9L86.8,205.9L85.9,206.0L85.0,206.0L84.1,206.0L83.2,206.1L82.3,206.1L81.4,206.2L80.8,206.2L79.9,206.3L79.0,206.3L78.1,206.3L77.2,206.4L76.3,206.4L75.4,206.5L74.8,206.5L73.9,206.6L73.0,206.7L72.1,206.8L71.5,206.8L70.6,207.0L69.7,207.1L69.1,207.1L68.2,207.1L67.6,207.1L66.7,206.9L66.1,206.7L65.5,206.4L64.9,206.0L64.4,205.6L64.0,205.2L63.5,204.7L63.1,204.1L62.8,203.5L62.5,202.9L62.3,202.3L62.2,201.7L62.1,200.8L62.1,199.9L62.2,199.3L62.4,198.4L62.7,197.8L63.0,197.2L63.3,196.6L63.7,196.2L64.1,195.7L64.6,195.3L65.2,194.9L65.8,194.5L66.4,194.3L67.0,194.1L67.9,193.9L68.8,193.9L69.7,193.9L70.6,193.9L71.5,193.9L72.4,193.9L73.3,193.9L74.0,193.9L74.8,193.9L75.7,193.8L76.6,193.8L77.5,193.7L78.4,193.7L79.3,193.6L80.1,193.6L80.8,193.6L81.7,193.5L82.6,193.5L83.5,193.4L84.4,193.4L85.3,193.3L85.9,193.3L86.8,193.2L87.7,193.1L88.6,193.0L89.2,193.0L90.1,192.9L91.0,192.8L91.9,192.7ZM69.3,214.0L69.9,214.0L70.5,214.3L70.9,214.7L71.2,215.5L71.3,216.1L71.4,217.0L71.4,217.9L71.3,218.8L71.2,219.4L70.9,220.2L70.7,220.9L70.4,221.5L70.1,222.1L69.8,222.7L69.4,223.3L69.1,223.7L68.7,224.2L68.2,224.8L67.9,225.1L67.3,225.6L66.7,226.0L66.1,226.2L65.5,226.4L64.7,226.3L64.2,226.0L63.7,225.4L63.4,224.8L63.3,224.2L63.2,223.3L63.3,222.4L63.4,221.8L63.6,220.9L63.8,220.3L64.0,219.7L64.3,219.0L64.6,218.4L64.9,217.8L65.2,217.3L65.6,216.7L66.1,216.1L66.4,215.8L67.0,215.2L67.4,214.9L67.9,214.6L68.5,214.2Z" fill="#000" fill-opacity="0.07" fill-rule="evenodd" stroke="rgb(83,83,83)" stroke-width="0.5"/>
<path d="M89.6,193.9L90.4,193.8L91.3,193.7L92.2,193.6L93.1,193.7L94.0,193.8L94.6,194.1L95.2,194.3L95.8,194.7L96.3,195.1L96.7,195.5L97.1,196.0L97.5,196.6L97.8,197.2L98.0,197.8L98.2,198.7L98.2,199.6L98.0,200.5L97.9,201.1L97.6,201.7L97.3,202.3L96.8,202.9L96.4,203.3L95.8,203.8L95.3,204.1L94.8,204.4L94.0,204.7L93.4,204.8L92.5,204.9L91.6,204.9L90.7,204.9L89.8,204.9L88.9,204.8L88.0,204.8L87.1,204.8L86.2,204.8L85.3,204.8L84.4,204.9L83.5,204.9L82.6,205.0L81.7,205.0L81.1,205.0L80.2,205.1L79.3,205.1L78.4,205.2L77.5,205.2L76.6,205.3L75.8,205.3L75.1,205.3L74.2,205.4L73.3,205.5L72.6,205.6L71.8,205.7L71.0,205.9L70.3,206.0L69.4,206.2L68.8,206.2L67.9,206.2L67.3,206.1L66.7,205.9L66.0,205.6L65.5,205.3L64.9,204.8L64.5,204.4L64.0,203.8L63.7,203.3L63.4,202.6L63.2,202.0L63.1,201.4L63.0,200.5L63.1,199.6L63.2,199.0L63.4,198.4L63.7,197.8L64.1,197.2L64.5,196.6L64.9,196.2L65.5,195.8L66.1,195.4L66.7,195.2L67.3,195.0L68.2,194.8L69.1,194.8L70.0,194.9L70.9,195.0L71.8,195.0L72.7,195.1L73.6,195.1L74.5,195.0L75.4,195.0L76.3,194.9L77.2,194.9L78.1,194.9L79.0,194.8L79.6,194.8L80.5,194.7L81.4,194.7L82.3,194.6L83.2,194.6L84.1,194.6L85.0,194.5L85.6,194.5L86.5,194.4L87.4,194.3L88.0,194.2L88.9,194.0ZM68.5,215.2L69.4,215.2L70.0,215.5L70.3,215.8L70.6,216.5L70.7,217.3L70.7,218.2L70.6,219.1L70.5,219.7L70.3,220.3L70.0,221.1L69.7,221.7L69.4,222.3L69.1,222.7L68.7,223.3L68.2,223.9L67.9,224.2L67.3,224.7L66.7,225.1L66.1,225.4L65.5,225.4L64.9,225.3L64.4,224.8L64.1,224.2L63.9,223.6L63.9,222.7L64.0,221.8L64.1,221.2L64.3,220.4L64.6,219.7L64.8,219.1L65.1,218.5L65.5,217.9L65.8,217.4L66.1,217.0L66.7,216.4L67.0,216.1L67.6,215.6L68.2,215.3Z" fill="#000" fill-opacity="0.07" fill-rule="evenodd" stroke="rgb(70,70,70)" stroke-width="0.5"/>
<path d="M91.2,194.5L91.9,194.4L92.8,194.4L93.4,194.5L94.3,194.8L94.9,195.1L95.4,195.4L95.8,195.7L96.3,196.3L96.7,196.8L97.0,197.4L97.2,198.1L97.4,198.7L97.4,199.6L97.3,200.2L97.0,201.1L96.7,201.7L96.4,202.1L96.0,202.6L95.5,203.0L94.9,203.4L94.3,203.7L93.7,203.9L92.8,204.1L92.2,204.1L91.5,204.1L90.7,204.1L89.8,204.0L88.9,203.9L88.2,203.8L87.4,203.7L86.5,203.7L85.6,203.7L84.7,203.7L83.8,203.8L83.2,203.8L82.3,203.9L81.4,203.9L80.5,203.9L79.6,204.0L78.7,204.0L77.8,204.1L77.2,204.1L76.3,204.2L75.4,204.2L74.5,204.3L73.6,204.4L73.0,204.5L72.2,204.7L71.5,204.9L70.9,205.1L70.0,205.3L69.4,205.4L68.5,205.5L67.6,205.4L67.0,205.2L66.4,205.0L65.8,204.6L65.2,204.1L64.9,203.7L64.5,203.2L64.2,202.6L64.0,202.0L63.8,201.1L63.8,200.2L63.9,199.3L64.1,198.7L64.4,198.1L64.8,197.5L65.2,197.0L65.7,196.6L66.1,196.3L66.7,196.0L67.6,195.7L68.2,195.6L69.1,195.6L69.8,195.7L70.6,195.8L71.5,196.0L72.1,196.0L73.0,196.1L73.9,196.2L74.8,196.1L75.7,196.1L76.6,196.1L77.5,196.0L78.1,196.0L79.0,195.9L79.9,195.9L80.8,195.8L81.7,195.8L82.6,195.8L83.5,195.7L84.1,195.7L85.0,195.6L85.9,195.5L86.7,195.4L87.4,195.3L88.2,195.1L88.9,194.9L89.5,194.8L90.4,194.6ZM68.3,216.1L69.1,216.1L69.6,216.4L70.0,217.0L70.1,217.6L70.1,218.5L70.0,219.4L69.9,220.0L69.7,220.6L69.4,221.2L69.1,221.8L68.7,222.4L68.3,223.0L67.9,223.4L67.4,223.9L67.0,224.2L66.2,224.5L65.6,224.5L65.1,224.2L64.7,223.6L64.5,223.0L64.5,222.1L64.6,221.2L64.8,220.6L65.0,220.0L65.2,219.4L65.5,218.8L65.9,218.2L66.3,217.6L66.7,217.1L67.2,216.7L67.6,216.4Z" fill="#000" fill-opacity="0.018" fill-rule="evenodd" stroke="rgb(60,60,60)" stroke-width="0.5"/>
<path d="M90.4,195.1L91.3,195.0L92.2,194.9L93.1,194.9L93.8,195.1L94.5,195.4L95.0,195.7L95.5,196.1L96.0,196.6L96.4,197.2L96.6,197.8L96.8,198.4L96.9,199.3L96.8,200.2L96.6,200.8L96.3,201.4L95.9,202.0L95.5,202.4L94.9,202.9L94.3,203.2L93.7,203.4L93.1,203.6L92.2,203.6L91.3,203.6L90.4,203.5L89.8,203.4L88.9,203.3L88.3,203.2L87.4,203.1L86.5,203.0L85.6,203.0L84.7,203.0L83.8,203.0L82.9,203.1L82.0,203.1L81.1,203.2L80.2,203.2L79.6,203.2L78.7,203.3L77.8,203.3L76.9,203.4L76.0,203.4L75.1,203.5L74.5,203.5L73.6,203.7L73.0,203.8L72.1,204.1L71.5,204.3L70.9,204.5L70.3,204.7L69.4,204.9L68.8,205.0L68.1,205.0L67.3,204.8L66.7,204.6L66.1,204.2L65.6,203.8L65.2,203.4L64.9,202.9L64.6,202.3L64.3,201.4L64.2,200.8L64.3,199.9L64.4,199.3L64.6,198.7L64.9,198.1L65.4,197.5L65.8,197.1L66.4,196.7L67.0,196.4L67.6,196.2L68.5,196.1L69.4,196.1L70.3,196.3L70.9,196.4L71.8,196.6L72.4,196.7L73.3,196.9L74.2,196.9L75.1,196.9L76.0,196.8L76.9,196.8L77.8,196.8L78.7,196.7L79.6,196.7L80.5,196.6L81.1,196.6L82.0,196.5L82.9,196.5L83.8,196.4L84.7,196.4L85.4,196.3L86.2,196.2L87.1,196.0L87.7,195.8L88.3,195.7L89.2,195.4L89.8,195.2ZM68.1,216.7L68.8,216.6L69.3,217.0L69.6,217.6L69.8,218.2L69.7,219.1L69.6,219.7L69.4,220.4L69.1,221.1L68.8,221.7L68.5,222.2L68.1,222.7L67.6,223.2L67.1,223.6L66.5,223.9L65.8,223.9L65.3,223.6L65.0,223.0L64.9,222.4L64.9,221.5L65.0,220.9L65.2,220.2L65.5,219.5L65.8,218.9L66.1,218.4L66.5,217.9L67.0,217.4L67.5,217.0Z" fill="#000" fill-opacity="0.018" fill-rule="evenodd" stroke="rgb(60,60,60)" stroke-width="0.5"/>
<path d="M91.0,195.4L91.9,195.3L92.8,195.3L93.4,195.4L94.2,195.7L94.7,196.0L95.2,196.4L95.7,196.9L96.1,197.5L96.3,198.1L96.5,198.7L96.5,199.6L96.4,200.2L96.1,200.9L95.8,201.4L95.3,202.0L94.9,202.4L94.3,202.8L93.7,203.0L92.8,203.2L92.2,203.2L91.4,203.2L90.7,203.1L89.8,203.0L89.2,202.8L88.3,202.6L87.7,202.5L86.8,202.3L86.2,202.3L85.3,202.3L84.4,202.3L83.5,202.3L82.9,202.3L82.0,202.4L81.1,202.4L80.2,202.5L79.3,202.5L78.4,202.6L77.5,202.6L76.9,202.6L76.0,202.7L75.1,202.7L74.2,202.9L73.6,203.0L73.0,203.2L72.2,203.5L71.6,203.8L70.9,204.1L70.3,204.3L69.7,204.5L68.8,204.6L67.9,204.6L67.2,204.4L66.6,204.1L66.1,203.8L65.5,203.2L65.2,202.7L64.9,202.1L64.7,201.4L64.6,200.5L64.7,199.6L64.9,199.0L65.2,198.4L65.6,197.8L66.1,197.3L66.7,196.9L67.3,196.7L67.9,196.5L68.8,196.5L69.7,196.6L70.3,196.7L71.0,196.9L71.8,197.1L72.4,197.3L73.2,197.5L73.9,197.6L74.8,197.6L75.7,197.6L76.6,197.5L77.5,197.5L78.1,197.5L79.0,197.4L79.9,197.4L80.8,197.3L81.7,197.3L82.6,197.2L83.4,197.2L84.1,197.2L85.0,197.1L85.9,196.9L86.5,196.8L87.2,196.6L88.0,196.3L88.6,196.1L89.2,195.9L89.8,195.7L90.7,195.5ZM67.7,217.3L68.5,217.1L69.1,217.5L69.4,218.2L69.4,218.8L69.4,219.4L69.1,220.3L68.9,220.9L68.6,221.5L68.2,222.1L67.9,222.5L67.4,223.0L66.9,223.3L66.1,223.5L65.5,223.1L65.2,222.4L65.2,221.8L65.2,221.2L65.5,220.3L65.7,219.7L66.0,219.1L66.4,218.5L66.7,218.1L67.2,217.6Z" fill="#000" fill-opacity="0.018" fill-rule="evenodd" stroke="rgb(60,60,60)" stroke-width="0.5"/>
<path d="M91.4,195.7L92.2,195.6L93.1,195.7L93.7,195.9L94.3,196.1L94.9,196.6L95.2,196.9L95.7,197.5L95.9,198.1L96.1,198.7L96.1,199.6L96.0,200.2L95.8,200.8L95.4,201.4L94.9,201.9L94.4,202.3L93.8,202.6L93.1,202.8L92.2,202.9L91.3,202.8L90.4,202.7L89.8,202.6L88.9,202.3L88.3,202.1L87.7,201.9L86.9,201.7L86.2,201.6L85.3,201.5L84.4,201.5L83.5,201.5L82.6,201.5L81.7,201.6L80.8,201.6L79.9,201.7L79.0,201.7L78.4,201.7L77.5,201.8L76.6,201.8L75.7,201.9L74.8,202.0L74.2,202.1L73.6,202.3L72.9,202.6L72.3,202.9L71.8,203.2L71.2,203.5L70.6,203.8L69.8,204.1L69.1,204.3L68.2,204.3L67.3,204.1L66.7,203.8L66.3,203.5L65.8,203.0L65.5,202.6L65.2,202.0L65.0,201.1L64.9,200.2L65.1,199.3L65.4,198.7L65.8,198.1L66.1,197.8L66.7,197.3L67.3,197.0L67.9,196.9L68.8,196.8L69.5,196.9L70.3,197.1L70.9,197.3L71.5,197.5L72.2,197.8L73.0,198.1L73.6,198.3L74.5,198.4L75.1,198.4L75.8,198.4L76.6,198.4L77.5,198.3L78.4,198.3L79.3,198.2L80.2,198.2L81.1,198.1L82.0,198.1L82.6,198.1L83.5,198.0L84.4,197.9L85.3,197.8L85.9,197.7L86.5,197.5L87.2,197.2L87.9,196.9L88.6,196.6L89.2,196.3L89.8,196.1L90.4,195.9L91.3,195.7ZM67.4,217.9L68.2,217.6L68.8,217.9L69.1,218.8L69.0,219.7L68.8,220.4L68.5,221.1L68.2,221.6L67.8,222.1L67.3,222.6L66.7,222.9L65.8,222.7L65.6,222.1L65.5,221.2L65.8,220.3L66.0,219.7L66.3,219.1L66.7,218.6L67.0,218.2Z" fill="#000" fill-opacity="0.018" fill-rule="evenodd" stroke="rgb(60,60,60)" stroke-width="0.5"/>
<path d="M91.5,196.0L92.2,195.9L93.0,196.0L93.7,196.2L94.3,196.5L94.8,196.9L95.2,197.4L95.5,197.9L95.8,198.7L95.8,199.3L95.7,199.9L95.5,200.6L95.2,201.1L94.7,201.7L94.2,202.0L93.6,202.3L92.8,202.5L91.9,202.5L91.0,202.5L90.3,202.3L89.5,202.1L88.9,201.8L88.3,201.6L87.7,201.3L87.1,201.0L86.5,200.7L85.9,200.5L85.0,200.2L84.4,200.1L83.5,199.9L82.6,199.9L82.9,199.8L83.5,199.6L84.4,199.3L85.0,199.1L85.6,198.9L86.2,198.5L86.8,198.2L87.4,197.8L87.9,197.5L88.4,197.2L88.9,196.9L89.5,196.6L90.3,196.3L91.0,196.1ZM67.7,197.2L68.5,197.1L69.4,197.2L70.0,197.3L70.6,197.6L71.2,197.8L71.8,198.2L72.4,198.5L73.0,198.9L73.6,199.2L74.2,199.5L74.8,199.7L75.7,199.9L76.3,200.1L76.6,200.2L75.7,200.3L75.1,200.6L74.5,200.8L73.9,201.2L73.3,201.6L72.7,202.0L72.4,202.3L71.8,202.7L71.2,203.1L70.6,203.5L70.0,203.7L69.4,203.9L68.5,204.0L67.6,203.9L67.0,203.6L66.4,203.2L66.1,202.9L65.7,202.3L65.4,201.7L65.2,200.8L65.3,199.9L65.5,199.1L65.8,198.6L66.2,198.1L66.7,197.7L67.3,197.3ZM80.2,199.9L80.8,199.9L81.1,199.9L80.8,199.9ZM67.7,218.2L68.3,218.2L68.7,218.8L68.7,219.7L68.5,220.5L68.2,221.1L67.9,221.6L67.4,222.1L66.9,222.4L66.3,222.4L65.9,221.8L65.9,220.9L66.1,220.1L66.4,219.5L66.7,219.0L67.2,218.5Z" fill="#000" fill-opacity="0.018" fill-rule="evenodd" stroke="rgb(60,60,60)" stroke-width="0.5"/>
<path d="M91.6,196.3L92.2,196.2L93.0,196.3L93.7,196.5L94.3,196.9L94.7,197.2L95.1,197.8L95.4,198.4L95.5,199.3L95.3,200.2L95.0,200.8L94.6,201.3L94.1,201.7L93.6,202.0L92.8,202.2L91.9,202.2L91.0,202.1L90.4,202.0L89.6,201.7L89.0,201.4L88.5,201.1L88.0,200.8L87.4,200.2L87.1,199.6L87.4,198.8L87.7,198.4L88.3,197.8L88.7,197.5L89.2,197.2L89.8,196.8L90.4,196.6L91.3,196.3ZM67.7,197.5L68.5,197.4L69.4,197.5L70.0,197.7L70.6,197.9L71.2,198.3L71.8,198.7L72.1,199.0L72.7,199.6L72.9,200.2L72.7,201.0L72.4,201.5L72.0,202.0L71.5,202.5L70.9,202.9L70.4,203.2L69.7,203.5L69.1,203.7L68.2,203.7L67.3,203.5L66.8,203.2L66.4,202.9L66.0,202.3L65.7,201.7L65.5,200.9L65.5,200.2L65.6,199.6L65.9,199.0L66.3,198.4L66.7,198.0L67.3,197.6ZM67.4,218.8L67.9,218.7L68.2,218.8L68.4,219.4L68.3,220.0L68.2,220.4L68.0,220.9L67.8,221.2L67.5,221.5L67.2,221.8L66.7,221.9L66.4,221.8L66.2,221.2L66.3,220.6L66.4,220.2L66.6,219.7L66.8,219.4L67.1,219.1Z" fill="#000" fill-opacity="0.018" fill-rule="evenodd" stroke="rgb(60,60,60)" stroke-width="0.5"/>
<path d="M91.5,196.6L92.2,196.5L93.0,196.6L93.7,196.8L94.2,197.2L94.6,197.6L94.9,198.1L95.2,199.0L95.1,199.9L94.9,200.5L94.4,201.1L94.0,201.4L93.4,201.8L92.5,202.0L91.6,201.9L90.7,201.7L90.1,201.5L89.5,201.2L88.9,200.8L88.6,200.5L88.2,199.9L88.1,199.0L88.4,198.4L88.9,197.9L89.4,197.5L89.8,197.2L90.5,196.9L91.3,196.6ZM67.6,197.8L68.5,197.7L69.4,197.8L70.0,198.0L70.6,198.3L71.2,198.7L71.5,199.0L71.9,199.6L72.2,200.2L72.1,200.8L71.8,201.5L71.4,202.0L70.9,202.5L70.4,202.9L69.8,203.2L69.1,203.4L68.2,203.5L67.3,203.2L66.8,202.9L66.4,202.5L66.1,202.0L65.8,201.2L65.7,200.5L65.8,199.9L66.1,199.1L66.4,198.7L67.0,198.1L67.6,197.8ZM67.5,219.4L67.7,219.4L67.9,219.7L67.9,220.0L67.7,220.6L67.5,220.9L67.1,221.2L66.9,221.2L66.7,220.9L66.7,220.6L66.9,220.0L67.1,219.7Z" fill="#000" fill-opacity="0.018" fill-rule="evenodd" stroke="rgb(60,60,60)" stroke-width="0.5"/>
<path d="M91.5,196.9L92.2,196.8L93.0,196.9L93.7,197.2L94.1,197.5L94.6,198.1L94.8,198.7L94.9,199.3L94.8,199.9L94.5,200.5L94.0,201.1L93.5,201.4L92.8,201.6L91.9,201.7L91.0,201.5L90.4,201.3L89.8,201.0L89.2,200.5L88.9,200.1L88.7,199.3L88.9,198.6L89.3,198.1L89.8,197.6L90.4,197.3L91.0,197.0ZM67.6,198.1L68.2,197.9L69.1,198.0L69.7,198.1L70.3,198.4L70.9,198.9L71.2,199.3L71.6,199.9L71.6,200.8L71.4,201.4L71.0,202.0L70.6,202.4L70.0,202.8L69.4,203.1L68.7,203.2L68.2,203.2L67.3,202.9L66.9,202.6L66.4,202.1L66.1,201.4L66.0,200.8L66.0,199.9L66.3,199.3L66.7,198.7L67.0,198.4Z" fill="#000" fill-opacity="0.018" fill-rule="evenodd" stroke="rgb(60,60,60)" stroke-width="0.5"/>
<path d="M91.5,197.2L92.2,197.1L93.1,197.2L93.7,197.5L94.0,197.8L94.4,198.4L94.6,199.3L94.6,199.6L94.3,200.3L93.9,200.8L93.4,201.1L92.5,201.4L91.6,201.3L90.8,201.1L90.2,200.8L89.8,200.5L89.4,199.9L89.3,199.0L89.6,198.4L90.1,197.8L90.6,197.5L91.3,197.2ZM67.5,198.4L68.2,198.2L69.1,198.2L69.7,198.4L70.3,198.8L70.8,199.3L71.1,199.9L71.2,200.5L71.1,201.1L70.8,201.7L70.3,202.3L69.8,202.6L69.1,202.9L68.5,203.0L67.9,202.9L67.3,202.6L66.7,202.1L66.4,201.5L66.2,200.8L66.3,199.9L66.6,199.3L67.0,198.7Z" fill="#000" fill-opacity="0.018" fill-rule="evenodd" stroke="rgb(60,60,60)" stroke-width="0.5"/>
<path d="M91.5,197.5L92.2,197.4L93.0,197.5L93.6,197.8L94.0,198.3L94.3,199.0L94.2,199.9L93.8,200.5L93.4,200.8L92.5,201.1L91.6,201.0L90.9,200.8L90.4,200.5L89.9,199.9L89.7,199.3L89.9,198.7L90.3,198.1L90.8,197.8ZM67.5,198.7L68.2,198.4L69.1,198.5L69.7,198.8L70.3,199.2L70.6,199.6L70.9,200.5L70.6,201.4L70.3,201.9L69.8,202.3L69.1,202.6L68.5,202.7L67.8,202.6L67.3,202.3L66.8,201.7L66.5,201.1L66.5,200.2L66.7,199.5L67.1,199.0Z" fill="#000" fill-opacity="0.018" fill-rule="evenodd" stroke="rgb(60,60,60)" stroke-width="0.5"/>
<path d="M91.8,198.7L92.2,198.6L92.7,198.7L93.0,199.0L92.9,199.6L92.5,199.9L91.9,199.8L91.6,199.6L91.5,199.0ZM68.5,199.3L68.5,199.3L69.1,199.5L69.4,199.7L69.7,200.1L69.8,200.5L69.7,201.0L69.4,201.4L69.1,201.7L68.8,201.8L68.2,201.8L67.9,201.7L67.6,201.4L67.3,200.9L67.3,200.5L67.3,200.2L67.6,199.7L67.9,199.4Z" fill="#fff" fill-opacity="0.75" stroke="rgb(60,60,60)" stroke-width="0.5"/>
</g>
<rect x="26.10" y="169.80" width="77.80" height="80.70" fill="none" stroke="#999" stroke-width="0.9"/>
<line x1="75.6" y1="169.8" x2="75.6" y2="250.5" stroke="#999" stroke-width="0.7"/>
<line x1="26.1" y1="215" x2="103.9" y2="215" stroke="#999" stroke-width="0.7"/>
<text x="28.0" y="179.60000000000002" font-size="9.15" text-anchor="start" fill="#111" stroke="#111" stroke-width="0.22" font-weight="normal" font-style="normal">37%</text>
<text x="102.7" y="179.60000000000002" font-size="9.15" text-anchor="end" fill="#111" stroke="#111" stroke-width="0.22" font-weight="normal" font-style="normal">44%</text>
<text x="28.0" y="248.9" font-size="9.15" text-anchor="start" fill="#b2364a" stroke="#b2364a" stroke-width="0.22" font-weight="normal" font-style="normal">12%</text>
<text x="102.7" y="248.9" font-size="9.15" text-anchor="end" fill="#111" stroke="#111" stroke-width="0.22" font-weight="normal" font-style="normal">6.8%</text>
<g clip-path="url(#cb5)">
<path d="M164.3,190.0L165.0,190.0L165.9,190.0L166.8,189.9L167.7,189.9L168.6,189.9L169.5,189.9L170.4,189.8L171.3,189.8L172.2,189.8L173.1,189.8L174.0,189.9L174.6,190.1L175.4,190.3L176.1,190.6L176.6,190.9L177.1,191.2L177.6,191.6L178.2,192.1L178.5,192.4L179.0,193.0L179.4,193.5L179.7,194.0L180.0,194.6L180.3,195.4L180.5,196.0L180.6,196.6L180.7,197.5L180.7,198.4L180.6,199.2L180.5,199.9L180.3,200.5L180.0,201.2L179.7,201.8L179.4,202.3L179.0,202.9L178.5,203.4L178.1,203.8L177.6,204.3L177.0,204.7L176.5,205.0L175.9,205.3L175.2,205.6L174.6,205.8L173.9,205.9L173.1,206.0L172.2,206.0L171.3,206.0L170.4,206.1L169.5,206.1L168.6,206.1L167.7,206.1L166.8,206.1L165.9,206.1L165.0,206.1L164.1,206.2L163.2,206.2L162.3,206.2L161.7,206.2L160.8,206.2L159.9,206.2L159.0,206.3L158.1,206.3L157.2,206.3L156.3,206.3L155.4,206.3L154.5,206.4L153.6,206.4L152.7,206.4L151.8,206.4L150.9,206.5L150.0,206.5L149.4,206.5L148.5,206.5L147.8,206.5L147.0,206.4L146.2,206.2L145.5,206.0L144.9,205.7L144.3,205.4L143.8,205.0L143.4,204.7L142.8,204.2L142.4,203.8L141.9,203.2L141.6,202.7L141.3,202.1L141.0,201.5L140.7,200.8L140.6,200.2L140.4,199.3L140.4,198.7L140.4,198.1L140.5,197.2L140.7,196.3L140.8,195.7L141.1,195.1L141.4,194.5L141.7,193.9L142.2,193.3L142.5,192.9L143.0,192.4L143.4,192.1L144.0,191.6L144.6,191.3L145.2,191.0L145.8,190.7L146.4,190.6L147.3,190.4L148.1,190.3L148.8,190.3L149.7,190.3L150.6,190.3L151.5,190.2L152.4,190.2L153.3,190.2L154.2,190.2L155.1,190.2L156.0,190.2L156.9,190.1L157.8,190.1L158.7,190.1L159.6,190.1L160.5,190.1L161.4,190.1L162.3,190.0L163.2,190.0L164.1,190.0ZM160.3,210.1L161.1,210.0L162.0,209.9L162.9,209.9L163.8,210.1L164.4,210.2L165.0,210.5L165.6,210.7L166.2,211.1L166.8,211.5L167.3,211.9L167.7,212.2L168.3,212.6L168.9,213.0L169.5,213.3L170.1,213.6L170.7,213.8L171.3,214.0L172.0,214.3L172.6,214.6L173.2,214.9L173.7,215.2L174.3,215.7L174.8,216.1L175.2,216.6L175.5,217.0L175.8,217.6L176.1,218.3L176.3,219.1L176.3,220.0L176.1,220.7L175.8,221.5L175.5,222.0L175.2,222.4L174.7,223.0L174.3,223.3L173.7,223.8L173.1,224.1L172.5,224.5L171.9,224.7L171.3,224.9L170.6,225.1L169.8,225.3L168.9,225.4L168.0,225.4L167.1,225.4L166.2,225.3L165.4,225.1L164.7,224.9L164.1,224.7L163.5,224.5L162.9,224.1L162.3,223.8L161.7,223.3L161.3,223.0L160.8,222.4L160.5,222.0L160.2,221.5L159.9,220.8L159.7,220.0L159.6,219.1L159.6,218.2L159.6,217.6L159.3,216.9L158.8,216.4L158.1,216.2L157.5,216.5L157.2,217.3L157.1,217.9L156.9,218.5L156.6,219.4L156.4,220.0L156.2,220.6L155.9,221.2L155.7,221.8L155.4,222.4L155.0,223.0L154.7,223.6L154.3,224.2L153.9,224.8L153.6,225.3L153.3,225.7L152.9,226.3L152.4,226.9L152.1,227.2L151.5,227.8L151.2,228.1L150.6,228.7L150.2,229.0L149.7,229.4L149.1,229.8L148.5,230.2L147.9,230.5L147.3,230.7L146.7,230.9L145.8,231.0L144.9,231.0L144.2,230.8L143.6,230.5L143.1,230.0L142.8,229.6L142.5,229.0L142.2,228.2L142.1,227.5L142.0,226.6L142.0,225.7L142.2,224.8L142.3,224.2L142.5,223.3L142.7,222.7L142.9,222.1L143.1,221.5L143.4,220.9L143.7,220.2L144.0,219.7L144.3,219.1L144.7,218.5L145.1,217.9L145.5,217.3L145.8,216.9L146.2,216.4L146.7,215.8L147.0,215.5L147.6,214.9L147.9,214.6L148.5,214.1L149.0,213.7L149.4,213.4L150.0,213.0L150.6,212.7L151.2,212.4L151.8,212.2L152.7,211.9L153.3,211.9L154.2,211.8L155.1,211.9L156.0,211.9L156.9,211.6L157.4,211.3L158.0,211.0L158.6,210.7L159.3,210.4L159.9,210.2Z" fill="none" stroke="rgb(122,122,122)" stroke-width="0.5"/>
<path d="M168.3,190.6L169.2,190.6L170.1,190.5L171.0,190.5L171.9,190.5L172.8,190.5L173.7,190.5L174.3,190.7L175.1,190.9L175.8,191.2L176.3,191.5L176.8,191.8L177.3,192.2L177.9,192.7L178.2,193.0L178.7,193.6L179.1,194.2L179.4,194.8L179.6,195.4L179.8,196.0L180.0,196.9L180.1,197.5L180.1,198.4L180.0,199.0L179.8,199.9L179.6,200.5L179.3,201.1L179.0,201.7L178.6,202.3L178.2,202.8L177.8,203.2L177.3,203.6L176.7,204.1L176.2,204.4L175.6,204.7L174.9,205.0L174.3,205.1L173.4,205.3L172.8,205.3L171.9,205.4L171.0,205.4L170.1,205.4L169.2,205.4L168.3,205.4L167.4,205.4L166.5,205.4L165.6,205.4L164.7,205.4L163.8,205.5L162.9,205.5L162.0,205.5L161.1,205.5L160.2,205.5L159.3,205.5L158.4,205.6L157.5,205.6L156.6,205.6L156.0,205.6L155.1,205.6L154.2,205.7L153.3,205.7L152.4,205.7L151.5,205.8L150.6,205.8L149.7,205.8L148.8,205.9L147.9,205.9L147.0,205.7L146.4,205.6L145.6,205.3L145.0,205.0L144.5,204.7L144.0,204.4L143.4,203.9L143.1,203.5L142.6,202.9L142.2,202.4L141.9,201.9L141.6,201.2L141.4,200.5L141.2,199.9L141.1,199.0L141.1,198.1L141.2,197.2L141.3,196.5L141.6,195.7L141.8,195.1L142.2,194.5L142.5,194.0L142.8,193.6L143.4,193.0L143.7,192.7L144.3,192.2L144.9,191.9L145.5,191.6L146.1,191.3L146.7,191.2L147.6,191.0L148.5,190.9L149.4,190.9L150.3,190.9L151.2,190.9L152.1,190.9L153.0,190.9L153.9,190.9L154.8,190.9L155.4,190.9L156.3,190.9L157.2,190.8L158.1,190.8L159.0,190.8L159.9,190.8L160.8,190.8L161.7,190.7L162.6,190.7L163.5,190.7L164.4,190.7L165.3,190.7L166.2,190.7L167.1,190.6L168.0,190.6ZM160.3,211.3L161.1,211.1L162.0,211.0L162.9,211.1L163.8,211.3L164.4,211.5L165.0,211.9L165.4,212.2L165.9,212.7L166.3,213.1L166.8,213.7L167.1,214.0L167.7,214.3L168.4,214.6L169.2,214.9L169.8,215.0L170.4,215.2L171.1,215.5L171.7,215.8L172.2,216.1L172.8,216.5L173.3,217.0L173.7,217.5L174.0,218.0L174.3,218.8L174.4,219.4L174.3,220.2L174.1,220.9L173.7,221.5L173.4,221.9L172.9,222.4L172.5,222.7L171.9,223.1L171.3,223.4L170.7,223.6L169.8,223.8L169.2,224.0L168.3,224.0L167.4,224.0L166.5,223.9L165.9,223.8L165.3,223.6L164.5,223.3L163.9,223.0L163.5,222.7L162.9,222.2L162.5,221.8L162.1,221.2L161.8,220.6L161.7,220.0L161.6,219.1L161.7,218.3L161.8,217.6L161.8,216.7L161.4,216.1L161.1,215.8L160.5,215.4L159.9,215.0L159.4,214.6L159.0,214.2L158.7,213.7L158.6,212.8L159.0,212.2L159.3,211.9L159.9,211.5ZM152.1,213.1L152.7,213.0L153.6,213.0L154.2,213.2L154.8,213.4L155.4,213.9L155.7,214.3L156.0,215.2L156.1,215.8L156.1,216.7L156.0,217.6L156.0,218.2L155.8,219.1L155.6,219.7L155.4,220.5L155.1,221.2L154.9,221.8L154.6,222.4L154.3,223.0L153.9,223.6L153.6,224.2L153.3,224.6L153.0,225.1L152.5,225.7L152.1,226.2L151.7,226.6L151.2,227.2L150.9,227.5L150.3,228.0L149.8,228.4L149.4,228.7L148.8,229.1L148.2,229.4L147.6,229.6L146.7,229.9L146.1,230.0L145.4,229.9L144.6,229.7L144.1,229.3L143.7,228.9L143.4,228.4L143.1,227.8L142.9,226.9L142.8,226.0L142.9,225.1L143.0,224.2L143.1,223.6L143.4,222.7L143.6,222.1L143.8,221.5L144.1,220.9L144.4,220.3L144.7,219.7L145.0,219.1L145.4,218.5L145.8,218.0L146.1,217.5L146.5,217.0L147.0,216.5L147.3,216.1L147.9,215.5L148.3,215.2L148.8,214.8L149.4,214.3L149.9,214.0L150.4,213.7L151.1,213.4L151.8,213.2Z" fill="#000" fill-opacity="0.07" fill-rule="evenodd" stroke="rgb(109,109,109)" stroke-width="0.5"/>
<path d="M171.5,191.2L172.2,191.2L173.1,191.2L173.7,191.3L174.6,191.5L175.2,191.7L175.8,192.0L176.4,192.4L176.9,192.7L177.3,193.1L177.8,193.6L178.2,194.1L178.5,194.6L178.8,195.2L179.1,196.0L179.3,196.6L179.4,197.5L179.4,198.4L179.2,199.3L179.1,199.9L178.8,200.6L178.5,201.2L178.2,201.7L177.7,202.3L177.3,202.7L176.7,203.2L176.3,203.5L175.8,203.8L175.2,204.1L174.3,204.4L173.7,204.5L172.8,204.6L171.9,204.6L171.0,204.6L170.1,204.6L169.2,204.6L168.3,204.6L167.4,204.6L166.5,204.6L165.6,204.6L164.7,204.7L163.8,204.7L162.9,204.7L162.3,204.7L161.4,204.7L160.5,204.7L159.6,204.8L158.7,204.8L157.8,204.8L156.9,204.8L156.0,204.8L155.1,204.9L154.2,204.9L153.3,204.9L152.4,204.9L151.5,205.0L150.9,205.0L150.0,205.1L149.1,205.2L148.2,205.2L147.3,205.1L146.7,204.9L146.0,204.7L145.4,204.4L144.8,204.1L144.3,203.7L143.7,203.2L143.4,202.8L143.0,202.3L142.6,201.7L142.3,201.1L142.1,200.5L141.9,199.7L141.8,199.0L141.8,198.1L141.9,197.2L142.0,196.6L142.2,196.0L142.5,195.4L142.8,194.8L143.2,194.2L143.7,193.7L144.1,193.3L144.6,192.9L145.2,192.5L145.8,192.2L146.4,192.0L147.2,191.8L147.9,191.7L148.8,191.7L149.7,191.7L150.6,191.7L151.5,191.7L152.4,191.7L153.3,191.7L154.2,191.7L155.1,191.7L156.0,191.6L156.9,191.6L157.8,191.6L158.7,191.6L159.6,191.6L160.5,191.6L161.4,191.5L162.3,191.5L163.2,191.5L163.8,191.5L164.7,191.5L165.6,191.4L166.5,191.4L167.4,191.4L168.3,191.4L169.2,191.3L170.1,191.3L171.0,191.2ZM152.0,214.3L152.7,214.3L153.3,214.4L153.9,214.7L154.4,215.2L154.7,215.8L154.9,216.4L155.0,217.3L155.0,218.2L154.9,219.1L154.8,219.7L154.5,220.6L154.3,221.2L154.0,221.8L153.8,222.4L153.4,223.0L153.1,223.6L152.7,224.2L152.4,224.6L152.0,225.1L151.5,225.7L151.2,226.1L150.7,226.6L150.3,226.9L149.7,227.4L149.1,227.8L148.6,228.1L147.9,228.4L147.3,228.6L146.7,228.7L146.1,228.7L145.2,228.4L144.8,228.1L144.3,227.5L144.0,226.9L143.9,226.3L143.8,225.4L143.9,224.5L144.0,223.6L144.1,223.0L144.3,222.4L144.6,221.6L144.9,220.9L145.2,220.3L145.5,219.8L145.8,219.3L146.1,218.8L146.5,218.2L147.0,217.6L147.3,217.3L147.8,216.7L148.2,216.3L148.8,215.8L149.2,215.5L149.7,215.2L150.3,214.8L150.9,214.6L151.8,214.3ZM166.7,217.0L167.4,216.9L168.3,216.9L168.9,217.0L169.8,217.3L170.3,217.6L170.7,217.9L171.3,218.5L171.5,219.1L171.5,220.0L171.2,220.6L170.7,221.1L170.2,221.5L169.5,221.8L168.9,221.9L168.0,222.0L167.1,221.9L166.5,221.8L165.8,221.5L165.3,221.1L164.8,220.6L164.5,220.0L164.5,219.1L164.7,218.4L165.1,217.9L165.6,217.5L166.2,217.1Z" fill="#000" fill-opacity="0.07" fill-rule="evenodd" stroke="rgb(96,96,96)" stroke-width="0.5"/>
<path d="M169.8,192.1L170.4,192.0L171.3,192.0L172.2,191.9L173.1,192.0L173.9,192.1L174.6,192.3L175.2,192.6L175.8,192.9L176.4,193.3L176.7,193.6L177.3,194.2L177.6,194.6L177.9,195.1L178.2,195.7L178.5,196.6L178.6,197.2L178.6,198.1L178.5,199.0L178.4,199.6L178.2,200.2L177.9,200.8L177.5,201.4L177.0,201.9L176.6,202.3L176.1,202.7L175.5,203.1L174.9,203.4L174.3,203.6L173.4,203.8L172.8,203.9L171.9,203.9L171.0,203.8L170.1,203.8L169.5,203.8L168.6,203.8L167.7,203.7L166.8,203.7L165.9,203.7L165.0,203.8L164.1,203.8L163.2,203.8L162.6,203.8L161.7,203.8L160.8,203.9L159.9,203.9L159.0,203.9L158.1,203.9L157.2,203.9L156.3,203.9L155.4,204.0L154.5,204.0L153.6,204.0L152.7,204.1L152.1,204.1L151.2,204.2L150.3,204.3L149.4,204.4L148.8,204.4L147.9,204.4L147.3,204.3L146.5,204.1L145.8,203.8L145.3,203.5L144.9,203.2L144.3,202.7L143.9,202.3L143.5,201.7L143.1,201.1L142.9,200.5L142.7,199.9L142.6,199.0L142.5,198.1L142.7,197.2L142.8,196.6L143.1,195.9L143.4,195.3L143.7,194.8L144.3,194.2L144.6,193.9L145.2,193.4L145.8,193.1L146.4,192.8L147.0,192.6L147.9,192.5L148.8,192.4L149.7,192.5L150.6,192.5L151.5,192.5L152.4,192.6L153.3,192.6L154.2,192.6L155.1,192.6L156.0,192.5L156.9,192.5L157.8,192.5L158.7,192.5L159.6,192.5L160.5,192.4L161.4,192.4L162.3,192.4L162.9,192.4L163.8,192.4L164.7,192.4L165.6,192.3L166.5,192.3L167.4,192.3L168.3,192.2L169.2,192.1ZM151.7,215.8L152.1,215.8L152.8,216.1L153.3,216.5L153.6,217.1L153.8,217.9L153.8,218.8L153.7,219.7L153.6,220.3L153.3,221.1L153.0,221.8L152.7,222.4L152.4,223.0L152.1,223.5L151.8,223.9L151.4,224.5L150.9,225.0L150.5,225.4L150.0,225.9L149.5,226.3L149.0,226.6L148.4,226.9L147.6,227.1L147.0,227.2L146.4,227.1L145.8,226.8L145.4,226.3L145.1,225.7L145.0,224.8L145.0,223.9L145.2,223.0L145.3,222.4L145.5,221.8L145.8,221.1L146.1,220.5L146.4,220.0L146.8,219.4L147.2,218.8L147.6,218.3L148.0,217.9L148.5,217.4L148.9,217.0L149.4,216.7L150.0,216.3L150.6,216.0L151.5,215.8Z" fill="#000" fill-opacity="0.07" fill-rule="evenodd" stroke="rgb(83,83,83)" stroke-width="0.5"/>
<path d="M169.9,193.0L170.7,192.9L171.6,192.8L172.5,192.8L173.4,192.9L174.0,193.0L174.8,193.3L175.4,193.6L175.8,193.9L176.4,194.4L176.7,194.8L177.1,195.4L177.4,196.0L177.6,196.6L177.8,197.5L177.8,198.4L177.6,199.3L177.4,199.9L177.1,200.5L176.7,201.0L176.4,201.4L175.8,201.9L175.2,202.3L174.6,202.6L174.0,202.8L173.4,202.9L172.5,203.0L171.6,203.0L170.7,203.0L170.1,202.9L169.2,202.8L168.3,202.8L167.4,202.7L166.5,202.7L165.6,202.7L164.7,202.7L163.8,202.7L162.9,202.8L162.0,202.8L161.1,202.8L160.2,202.8L159.3,202.8L158.4,202.8L157.5,202.9L156.6,202.9L155.9,202.9L155.1,202.9L154.2,203.0L153.3,203.0L152.4,203.1L151.6,203.2L150.9,203.3L150.0,203.5L149.4,203.5L148.5,203.6L147.6,203.5L147.0,203.4L146.4,203.2L145.8,202.9L145.2,202.4L144.7,202.0L144.3,201.5L144.0,201.0L143.7,200.3L143.5,199.6L143.4,199.0L143.4,198.1L143.4,197.5L143.7,196.6L143.9,196.0L144.3,195.4L144.6,195.0L145.1,194.5L145.5,194.2L146.1,193.8L146.7,193.6L147.6,193.3L148.2,193.3L149.1,193.3L149.7,193.3L150.6,193.4L151.5,193.5L152.4,193.6L153.0,193.6L153.9,193.6L154.8,193.6L155.5,193.6L156.3,193.6L157.2,193.6L158.1,193.5L159.0,193.5L159.9,193.5L160.8,193.5L161.7,193.5L162.6,193.4L163.5,193.4L164.4,193.4L165.3,193.4L166.2,193.4L167.1,193.3L167.7,193.3L168.6,193.2L169.5,193.1ZM150.7,217.9L151.2,217.9L151.8,218.3L152.1,218.9L152.2,219.7L152.1,220.5L151.9,221.2L151.6,221.8L151.3,222.4L150.9,223.0L150.6,223.5L150.2,223.9L149.7,224.3L149.1,224.8L148.5,225.0L147.9,225.1L147.3,225.0L146.9,224.5L146.6,223.9L146.6,223.0L146.7,222.4L147.0,221.6L147.3,220.9L147.6,220.4L147.9,219.9L148.3,219.4L148.8,218.9L149.3,218.5L149.8,218.2L150.6,217.9Z" fill="#000" fill-opacity="0.07" fill-rule="evenodd" stroke="rgb(70,70,70)" stroke-width="0.5"/>
<path d="M171.2,193.6L171.9,193.5L172.8,193.5L173.4,193.6L174.3,193.9L174.9,194.2L175.4,194.5L175.8,194.9L176.3,195.4L176.6,196.0L176.9,196.6L177.0,197.2L177.1,198.1L177.0,198.7L176.7,199.6L176.4,200.2L176.1,200.6L175.6,201.1L175.2,201.4L174.6,201.8L174.0,202.1L173.1,202.3L172.2,202.3L171.3,202.2L170.4,202.1L169.5,202.0L168.9,201.9L168.0,201.8L167.1,201.7L166.2,201.7L165.3,201.7L164.4,201.7L163.5,201.7L162.6,201.8L161.7,201.8L160.8,201.8L159.9,201.8L159.0,201.8L158.1,201.8L157.2,201.9L156.3,201.9L155.4,201.9L154.5,201.9L153.6,202.0L153.0,202.1L152.1,202.2L151.5,202.4L150.6,202.6L150.0,202.7L149.1,202.9L148.5,202.9L147.9,202.9L147.0,202.7L146.4,202.4L145.8,202.0L145.4,201.7L144.9,201.1L144.6,200.6L144.3,200.0L144.1,199.3L144.0,198.4L144.1,197.5L144.3,196.9L144.6,196.3L145.0,195.7L145.5,195.1L145.9,194.8L146.4,194.5L147.1,194.2L147.9,194.0L148.8,194.0L149.7,194.1L150.5,194.2L151.2,194.3L152.1,194.5L152.7,194.6L153.6,194.6L154.5,194.6L155.4,194.6L156.3,194.6L157.2,194.6L158.1,194.6L159.0,194.5L159.9,194.5L160.7,194.5L161.4,194.5L162.3,194.5L163.2,194.4L164.1,194.4L165.0,194.4L165.9,194.4L166.8,194.3L167.7,194.2L168.3,194.1L169.2,193.9L169.8,193.8L170.7,193.7Z" fill="#000" fill-opacity="0.018" fill-rule="evenodd" stroke="rgb(60,60,60)" stroke-width="0.5"/>
<path d="M170.3,194.2L171.0,194.1L171.9,194.0L172.8,193.9L173.7,194.1L174.3,194.3L174.9,194.7L175.4,195.1L175.8,195.5L176.1,196.0L176.4,196.6L176.6,197.5L176.6,198.4L176.4,199.3L176.1,199.9L175.8,200.3L175.3,200.8L174.9,201.1L174.3,201.5L173.7,201.7L172.8,201.9L171.9,201.9L171.0,201.8L170.4,201.7L169.5,201.5L168.9,201.4L168.0,201.2L167.2,201.1L166.5,201.0L165.6,201.0L164.7,201.0L163.8,201.0L162.9,201.1L162.0,201.1L161.1,201.1L160.5,201.1L159.6,201.1L158.7,201.2L157.8,201.2L156.9,201.2L156.0,201.2L155.1,201.2L154.2,201.3L153.3,201.4L152.7,201.5L151.9,201.7L151.2,201.9L150.6,202.1L149.9,202.3L149.1,202.5L148.2,202.5L147.3,202.4L146.7,202.1L146.1,201.8L145.7,201.4L145.2,200.8L144.9,200.3L144.6,199.6L144.5,199.0L144.4,198.1L144.6,197.3L144.9,196.6L145.2,196.1L145.5,195.7L146.1,195.1L146.7,194.8L147.3,194.6L147.9,194.4L148.8,194.4L149.6,194.5L150.3,194.6L151.0,194.8L151.8,195.0L152.4,195.1L153.3,195.2L154.2,195.3L155.1,195.3L156.0,195.3L156.9,195.3L157.8,195.2L158.7,195.2L159.6,195.2L160.5,195.2L161.4,195.2L162.3,195.1L163.2,195.1L164.1,195.1L164.7,195.1L165.6,195.1L166.5,195.0L167.4,194.9L168.0,194.8L168.9,194.5L169.5,194.4Z" fill="#000" fill-opacity="0.018" fill-rule="evenodd" stroke="rgb(60,60,60)" stroke-width="0.5"/>
<path d="M170.7,194.5L171.6,194.3L172.5,194.3L173.4,194.4L174.0,194.6L174.6,194.9L175.2,195.4L175.5,195.7L175.9,196.3L176.1,196.9L176.3,197.8L176.2,198.7L176.0,199.3L175.6,199.9L175.2,200.4L174.7,200.8L174.2,201.1L173.4,201.4L172.8,201.5L171.9,201.5L171.1,201.4L170.4,201.3L169.7,201.1L168.9,200.9L168.3,200.7L167.4,200.5L166.8,200.4L165.9,200.4L165.0,200.4L164.1,200.4L163.2,200.4L162.3,200.4L161.4,200.4L160.5,200.4L159.6,200.5L158.7,200.5L158.0,200.5L157.2,200.5L156.3,200.5L155.4,200.6L154.5,200.6L153.6,200.7L153.0,200.8L152.2,201.1L151.5,201.4L150.9,201.6L150.3,201.8L149.7,202.0L148.8,202.2L147.9,202.1L147.3,202.0L146.6,201.7L146.1,201.3L145.6,200.8L145.2,200.2L144.9,199.6L144.8,199.0L144.8,198.1L144.9,197.5L145.2,196.7L145.5,196.2L146.0,195.7L146.4,195.4L147.0,195.0L147.8,194.8L148.5,194.7L149.2,194.8L150.0,194.9L150.6,195.1L151.5,195.4L152.1,195.6L152.7,195.8L153.6,195.9L154.5,196.0L155.4,196.0L156.3,195.9L157.2,195.9L158.1,195.9L159.0,195.9L159.9,195.9L160.8,195.8L161.7,195.8L162.6,195.8L163.5,195.8L164.4,195.8L165.3,195.7L165.9,195.7L166.8,195.6L167.6,195.4L168.3,195.2L168.9,195.0L169.6,194.8L170.4,194.6Z" fill="#000" fill-opacity="0.018" fill-rule="evenodd" stroke="rgb(60,60,60)" stroke-width="0.5"/>
<path d="M170.9,194.8L171.6,194.7L172.5,194.6L173.4,194.7L174.0,194.9L174.6,195.3L175.1,195.7L175.5,196.3L175.8,196.9L175.9,197.5L175.9,198.4L175.8,199.0L175.5,199.6L175.0,200.2L174.6,200.5L174.0,200.9L173.3,201.1L172.5,201.2L171.6,201.1L171.0,201.1L170.1,200.8L169.5,200.6L168.9,200.4L168.3,200.2L167.4,199.9L166.8,199.8L165.9,199.7L165.0,199.6L164.1,199.6L163.2,199.6L162.3,199.7L161.4,199.7L160.5,199.7L159.6,199.7L158.7,199.7L157.8,199.8L156.9,199.8L156.0,199.8L155.1,199.8L154.4,199.9L153.6,200.0L153.0,200.2L152.3,200.5L151.7,200.8L151.2,201.1L150.5,201.4L149.7,201.7L149.1,201.8L148.2,201.9L147.3,201.7L146.7,201.4L146.3,201.1L145.8,200.6L145.5,200.1L145.2,199.4L145.1,198.7L145.1,197.8L145.3,197.2L145.6,196.6L146.1,196.0L146.4,195.7L147.0,195.4L147.8,195.1L148.5,195.0L149.1,195.1L150.0,195.3L150.6,195.5L151.2,195.7L151.8,196.0L152.6,196.3L153.3,196.5L153.9,196.6L154.8,196.7L155.7,196.7L156.6,196.7L157.5,196.7L158.4,196.6L159.3,196.6L160.2,196.6L160.8,196.6L161.7,196.6L162.6,196.6L163.5,196.5L164.4,196.5L165.3,196.5L166.2,196.4L166.8,196.2L167.6,196.0L168.3,195.7L168.9,195.5L169.5,195.2L170.1,195.0Z" fill="#000" fill-opacity="0.018" fill-rule="evenodd" stroke="rgb(60,60,60)" stroke-width="0.5"/>
<path d="M171.0,195.1L171.6,195.0L172.5,194.9L173.4,195.0L174.0,195.3L174.6,195.7L174.9,196.0L175.4,196.6L175.6,197.2L175.7,198.1L175.5,198.8L175.2,199.5L174.9,199.9L174.3,200.4L173.7,200.7L173.1,200.8L172.2,200.9L171.3,200.8L170.7,200.7L170.1,200.5L169.4,200.2L168.8,199.9L168.2,199.6L167.6,199.3L167.0,199.0L166.2,198.7L165.6,198.5L165.0,198.3L164.1,198.2L163.2,198.1L162.3,198.1L162.0,198.1L162.9,198.1L163.8,198.0L164.7,197.8L165.3,197.7L165.9,197.5L166.6,197.2L167.2,196.9L167.7,196.6L168.3,196.3L168.9,195.9L169.5,195.6L170.1,195.4ZM147.7,195.4L148.5,195.3L149.2,195.4L150.0,195.6L150.6,195.8L151.2,196.1L151.8,196.5L152.4,196.9L153.0,197.2L153.6,197.5L154.2,197.8L154.8,198.0L155.7,198.1L155.7,198.4L154.8,198.6L154.2,198.8L153.6,199.1L153.0,199.5L152.4,199.9L151.9,200.2L151.5,200.5L150.9,200.8L150.3,201.2L149.6,201.4L148.8,201.6L147.9,201.6L147.3,201.4L146.7,201.1L146.1,200.6L145.8,200.1L145.5,199.5L145.3,198.7L145.4,197.8L145.6,197.2L145.9,196.6L146.4,196.1L146.9,195.7L147.6,195.4Z" fill="#000" fill-opacity="0.018" fill-rule="evenodd" stroke="rgb(60,60,60)" stroke-width="0.5"/>
<path d="M171.0,195.4L171.6,195.2L172.5,195.2L173.4,195.3L174.0,195.6L174.6,196.0L174.9,196.4L175.2,197.0L175.4,197.8L175.3,198.7L175.0,199.3L174.6,199.8L174.0,200.2L173.4,200.5L172.8,200.6L171.9,200.6L171.3,200.5L170.4,200.2L169.8,200.0L169.2,199.6L168.7,199.3L168.3,199.0L167.8,198.4L167.9,197.5L168.3,197.0L168.7,196.6L169.2,196.2L169.8,195.9L170.4,195.6ZM147.6,195.7L148.2,195.6L149.1,195.6L149.7,195.8L150.3,196.0L150.9,196.4L151.5,196.8L152.0,197.2L152.4,197.8L152.6,198.4L152.4,199.0L151.9,199.6L151.5,200.0L150.9,200.5L150.4,200.8L149.7,201.1L149.1,201.3L148.2,201.3L147.3,201.1L146.7,200.8L146.4,200.5L145.9,199.9L145.7,199.3L145.6,198.4L145.7,197.5L146.0,196.9L146.4,196.4L146.9,196.0Z" fill="#000" fill-opacity="0.018" fill-rule="evenodd" stroke="rgb(60,60,60)" stroke-width="0.5"/>
<path d="M170.9,195.7L171.6,195.5L172.5,195.4L173.4,195.6L174.0,195.9L174.5,196.3L174.9,196.9L175.1,197.5L175.1,198.4L174.8,199.0L174.4,199.6L174.0,199.9L173.4,200.2L172.5,200.4L171.6,200.3L171.0,200.1L170.4,199.9L169.8,199.6L169.2,199.1L168.8,198.7L168.6,198.1L168.7,197.5L169.1,196.9L169.5,196.5L170.1,196.1L170.7,195.8ZM147.4,196.0L148.2,195.8L149.1,195.9L149.7,196.1L150.3,196.4L150.9,196.8L151.4,197.2L151.8,197.8L151.9,198.4L151.8,199.0L151.4,199.6L150.9,200.1L150.3,200.5L149.8,200.8L149.1,201.0L148.5,201.1L147.9,201.1L147.2,200.8L146.7,200.5L146.2,199.9L145.9,199.3L145.8,198.4L146.0,197.5L146.3,196.9L146.7,196.5L147.3,196.1Z" fill="#000" fill-opacity="0.018" fill-rule="evenodd" stroke="rgb(60,60,60)" stroke-width="0.5"/>
<path d="M172.2,195.7L172.7,195.7L173.4,195.9L174.0,196.2L174.4,196.6L174.7,197.2L174.8,198.1L174.6,198.9L174.3,199.3L173.7,199.8L173.1,200.0L172.2,200.1L171.3,199.9L170.7,199.7L170.1,199.4L169.7,199.0L169.3,198.4L169.2,197.8L169.4,197.2L169.8,196.7L170.4,196.3L170.9,196.0L171.6,195.8ZM147.3,196.3L148.2,196.1L149.1,196.1L149.7,196.3L150.3,196.7L150.9,197.2L151.2,197.7L151.4,198.4L151.2,199.2L150.9,199.6L150.3,200.2L149.8,200.5L149.1,200.8L148.5,200.9L147.8,200.8L147.1,200.5L146.7,200.2L146.3,199.6L146.1,199.0L146.1,198.1L146.2,197.5L146.6,196.9L147.0,196.5Z" fill="#000" fill-opacity="0.018" fill-rule="evenodd" stroke="rgb(60,60,60)" stroke-width="0.5"/>
<path d="M171.9,196.0L172.5,195.9L173.1,196.0L173.7,196.3L174.3,196.9L174.5,197.5L174.5,198.4L174.2,199.0L173.7,199.5L173.1,199.8L172.2,199.8L171.3,199.7L170.7,199.4L170.2,199.0L169.8,198.5L169.7,197.8L169.9,197.2L170.4,196.7L171.0,196.3L171.6,196.1ZM148.2,196.3L148.6,196.3L149.4,196.5L150.0,196.8L150.5,197.2L150.9,197.8L151.0,198.4L150.9,199.0L150.5,199.6L150.0,200.1L149.4,200.4L148.8,200.6L147.9,200.6L147.3,200.3L146.8,199.9L146.4,199.3L146.3,198.7L146.4,197.8L146.6,197.2L147.0,196.8L147.6,196.4Z" fill="#000" fill-opacity="0.018" fill-rule="evenodd" stroke="rgb(60,60,60)" stroke-width="0.5"/>
<path d="M171.8,196.3L172.5,196.2L173.1,196.3L173.7,196.7L174.1,197.2L174.3,198.1L174.0,198.8L173.5,199.3L172.8,199.6L171.9,199.5L171.2,199.3L170.7,199.0L170.2,198.4L170.2,197.5L170.6,196.9L171.0,196.6ZM147.8,196.6L148.5,196.5L149.1,196.6L149.7,196.9L150.3,197.5L150.6,198.1L150.6,198.7L150.4,199.3L150.0,199.8L149.4,200.2L148.8,200.4L147.9,200.4L147.3,200.1L146.8,199.6L146.6,199.0L146.5,198.1L146.7,197.5L147.3,196.9Z" fill="#000" fill-opacity="0.018" fill-rule="evenodd" stroke="rgb(60,60,60)" stroke-width="0.5"/>
<path d="M147.8,197.5L148.2,197.3L148.8,197.4L149.1,197.5L149.4,197.8L149.6,198.4L149.5,199.0L149.2,199.3L148.8,199.5L148.5,199.6L148.1,199.6L147.6,199.3L147.4,199.0L147.3,198.7L147.3,198.1L147.5,197.8ZM171.9,197.5L172.5,197.3L173.0,197.5L173.1,197.8L173.1,198.1L172.8,198.4L172.2,198.4L171.9,198.3L171.7,197.8Z" fill="#fff" fill-opacity="0.75" stroke="rgb(60,60,60)" stroke-width="0.5"/>
</g>
<rect x="111.50" y="169.80" width="77.40" height="80.70" fill="none" stroke="#999" stroke-width="0.9"/>
<line x1="158.5" y1="169.8" x2="158.5" y2="250.5" stroke="#999" stroke-width="0.7"/>
<line x1="111.5" y1="215" x2="188.9" y2="215" stroke="#999" stroke-width="0.7"/>
<text x="113.4" y="179.60000000000002" font-size="9.15" text-anchor="start" fill="#111" stroke="#111" stroke-width="0.22" font-weight="normal" font-style="normal">33%</text>
<text x="187.70000000000002" y="179.60000000000002" font-size="9.15" text-anchor="end" fill="#111" stroke="#111" stroke-width="0.22" font-weight="normal" font-style="normal">51%</text>
<text x="113.4" y="248.9" font-size="9.15" text-anchor="start" fill="#b2364a" stroke="#b2364a" stroke-width="0.22" font-weight="normal" font-style="normal">9.2%</text>
<text x="187.70000000000002" y="248.9" font-size="9.15" text-anchor="end" fill="#111" stroke="#111" stroke-width="0.22" font-weight="normal" font-style="normal">6.8%</text>
<g clip-path="url(#cb6)">
<path d="M248.2,189.4L249.0,189.3L249.9,189.2L250.8,189.2L251.7,189.3L252.6,189.4L253.2,189.4L254.1,189.6L254.7,189.8L255.5,190.0L256.2,190.2L256.8,190.5L257.4,190.7L258.0,191.0L258.6,191.4L259.2,191.8L259.7,192.1L260.1,192.4L260.7,192.9L261.1,193.3L261.6,193.8L261.9,194.2L262.4,194.8L262.8,195.4L263.1,196.0L263.4,196.6L263.7,197.2L263.9,197.8L264.0,198.4L264.2,199.3L264.3,200.2L264.3,200.8L264.3,201.4L264.2,202.3L264.0,203.2L263.9,203.8L263.7,204.4L263.4,205.2L263.1,205.9L262.8,206.5L262.5,207.0L262.2,207.5L261.9,208.0L261.5,208.6L261.2,209.2L261.0,209.8L261.0,210.7L261.1,211.3L261.2,212.2L261.3,213.1L261.2,214.0L261.0,214.9L260.8,215.5L260.4,216.1L260.1,216.6L259.7,217.0L259.2,217.5L258.6,217.9L258.0,218.2L257.4,218.4L256.8,218.5L255.9,218.6L255.0,218.6L254.1,218.7L253.2,218.7L252.3,218.8L251.4,218.8L250.8,218.8L249.9,218.9L249.0,218.9L248.1,219.0L247.2,219.0L246.3,219.1L245.4,219.1L244.8,219.1L243.9,219.1L243.0,219.2L242.1,219.2L241.2,219.2L240.3,219.2L239.4,219.2L238.5,219.2L237.6,219.1L237.0,219.1L236.1,218.8L235.5,218.6L234.9,218.3L234.3,218.0L233.7,217.7L233.1,217.5L232.5,217.7L231.9,217.9L231.2,218.2L230.4,218.5L229.8,218.7L229.2,218.8L228.3,219.0L227.4,219.1L226.8,219.1L226.2,219.1L225.3,218.9L224.7,218.7L224.1,218.4L223.5,218.0L223.1,217.6L222.7,217.0L222.4,216.4L222.3,215.7L222.3,215.0L222.4,214.3L222.6,213.7L222.9,213.0L223.2,212.4L223.5,211.9L223.8,211.3L224.1,210.7L224.2,209.8L223.9,209.2L223.6,208.6L223.2,208.0L222.9,207.5L222.6,207.0L222.3,206.5L221.9,205.9L221.6,205.3L221.3,204.7L221.0,204.1L220.8,203.5L220.5,202.6L220.3,202.0L220.2,201.1L220.2,200.5L220.2,199.8L220.3,199.0L220.4,198.1L220.6,197.5L220.8,196.9L221.1,196.3L221.4,195.7L221.8,195.1L222.3,194.5L222.6,194.2L223.2,193.6L223.6,193.3L224.1,192.9L224.7,192.6L225.3,192.3L225.9,192.0L226.6,191.8L227.4,191.6L228.3,191.5L228.9,191.5L229.8,191.5L230.4,191.5L231.3,191.6L232.2,191.8L232.8,191.9L233.7,192.0L234.3,192.1L235.2,192.2L236.1,192.2L237.0,192.2L237.9,192.1L238.5,192.1L239.4,191.9L240.0,191.8L240.9,191.5L241.5,191.4L242.1,191.1L242.8,190.9L243.6,190.6L244.2,190.4L244.8,190.2L245.4,190.0L246.3,189.8L246.9,189.6L247.8,189.5ZM194.4,196.1L195.0,195.8L195.6,195.7L196.2,195.9L196.8,196.3L197.1,196.7L197.4,197.3L197.7,198.0L197.9,198.7L198.0,199.4L198.1,200.2L198.1,201.1L198.0,201.7L197.8,202.6L197.6,203.2L197.4,203.8L197.0,204.4L196.5,204.9L195.9,205.3L195.3,205.3L194.7,205.1Z" fill="none" stroke="rgb(122,122,122)" stroke-width="0.5"/>
<path d="M247.8,190.3L248.4,190.2L249.3,190.1L250.2,190.1L251.1,190.1L252.0,190.1L252.9,190.2L253.5,190.3L254.4,190.6L255.0,190.7L255.6,190.9L256.3,191.2L256.9,191.5L257.5,191.8L258.1,192.1L258.6,192.4L259.2,192.9L259.7,193.3L260.1,193.6L260.7,194.2L261.0,194.6L261.4,195.1L261.8,195.7L262.2,196.3L262.5,196.9L262.7,197.5L262.9,198.1L263.1,198.9L263.2,199.6L263.3,200.5L263.2,201.4L263.1,202.3L263.0,202.9L262.8,203.6L262.5,204.4L262.3,205.0L262.0,205.6L261.6,206.2L261.3,206.7L261.0,207.1L260.6,207.7L260.1,208.3L259.8,208.9L259.8,209.3L260.0,210.1L260.3,210.7L260.5,211.3L260.7,212.2L260.8,212.8L260.8,213.7L260.7,214.3L260.4,215.2L260.1,215.8L259.8,216.2L259.4,216.7L258.9,217.2L258.3,217.5L257.7,217.8L257.1,218.0L256.2,218.2L255.3,218.2L254.5,218.2L253.8,218.2L252.9,218.3L252.0,218.3L251.1,218.3L250.2,218.4L249.3,218.4L248.4,218.4L247.5,218.5L246.6,218.5L246.0,218.5L245.1,218.6L244.2,218.6L243.3,218.6L242.4,218.6L241.5,218.6L240.6,218.6L239.7,218.6L238.8,218.6L237.9,218.6L237.0,218.5L236.4,218.4L235.8,218.1L235.2,217.8L234.6,217.4L234.0,217.0L233.4,216.8L232.6,217.0L232.0,217.3L231.4,217.6L230.8,217.9L230.1,218.2L229.5,218.4L228.9,218.5L228.0,218.7L227.1,218.7L226.2,218.7L225.5,218.5L224.7,218.2L224.2,217.9L223.8,217.6L223.3,217.0L223.0,216.4L222.8,215.8L222.8,214.9L222.9,214.3L223.2,213.5L223.5,212.9L223.8,212.4L224.2,211.9L224.7,211.3L225.0,210.9L225.5,210.4L225.9,209.8L225.9,209.2L225.6,208.7L225.2,208.3L224.7,207.8L224.3,207.4L223.8,206.8L223.5,206.5L223.0,205.9L222.6,205.4L222.3,204.9L222.0,204.4L221.7,203.8L221.4,203.1L221.1,202.3L221.0,201.7L220.9,200.8L220.8,199.9L220.9,199.0L221.1,198.1L221.3,197.5L221.5,196.9L221.8,196.3L222.2,195.7L222.6,195.1L222.9,194.8L223.5,194.2L223.8,193.9L224.4,193.5L225.0,193.1L225.6,192.8L226.2,192.6L226.8,192.4L227.7,192.2L228.6,192.1L229.2,192.1L229.8,192.1L230.7,192.2L231.6,192.3L232.2,192.4L233.1,192.6L233.7,192.7L234.6,192.9L235.5,193.0L236.1,193.0L237.0,193.0L237.6,193.0L238.5,192.9L239.4,192.8L240.0,192.6L240.9,192.4L241.5,192.2L242.1,192.0L242.7,191.8L243.5,191.5L244.2,191.3L244.8,191.0L245.4,190.9L246.3,190.6L246.9,190.5ZM194.4,198.0L194.8,197.5L195.6,197.2L196.2,197.5L196.7,198.1L197.0,198.7L197.1,199.3L197.2,200.2L197.2,201.1L197.1,201.8L196.8,202.6L196.5,203.2L196.2,203.5L195.3,203.8L194.7,203.4Z" fill="#000" fill-opacity="0.07" fill-rule="evenodd" stroke="rgb(109,109,109)" stroke-width="0.5"/>
<path d="M247.8,191.2L248.4,191.1L249.3,191.0L250.2,190.9L251.1,191.0L252.0,191.0L252.9,191.2L253.5,191.3L254.4,191.5L255.0,191.7L255.6,191.9L256.2,192.2L256.8,192.5L257.4,192.8L258.0,193.2L258.5,193.6L258.9,193.9L259.5,194.5L259.8,194.8L260.3,195.4L260.7,195.9L261.0,196.4L261.3,197.0L261.6,197.7L261.8,198.4L262.0,199.0L262.1,199.9L262.1,200.8L262.1,201.7L261.9,202.5L261.7,203.2L261.5,203.8L261.2,204.4L260.9,205.0L260.6,205.6L260.2,206.2L259.8,206.7L259.5,207.1L258.9,207.7L258.6,208.2L258.4,208.9L258.7,209.5L259.2,210.1L259.5,210.6L259.8,211.1L260.1,211.9L260.3,212.5L260.3,213.4L260.2,214.3L260.0,214.9L259.7,215.5L259.3,216.1L258.9,216.6L258.3,217.0L257.8,217.3L257.1,217.5L256.5,217.7L255.6,217.7L254.7,217.7L253.8,217.8L252.9,217.8L252.0,217.8L251.1,217.8L250.2,217.9L249.3,217.9L248.7,217.9L247.8,217.9L246.9,218.0L246.0,218.0L245.1,218.0L244.2,218.0L243.3,218.1L242.4,218.1L241.5,218.1L240.6,218.1L239.7,218.1L238.8,218.1L237.9,218.1L237.0,218.0L236.4,217.8L235.8,217.5L235.2,217.2L234.6,216.7L234.3,216.4L233.7,216.0L233.0,216.1L232.5,216.4L231.9,216.8L231.3,217.2L230.7,217.5L230.1,217.7L229.5,217.9L228.6,218.2L228.0,218.3L227.1,218.3L226.3,218.2L225.6,218.0L225.0,217.8L224.4,217.4L224.0,217.0L223.6,216.4L223.4,215.8L223.4,214.9L223.5,214.2L223.8,213.4L224.1,212.9L224.4,212.5L224.9,211.9L225.3,211.5L225.8,211.0L226.2,210.7L226.8,210.2L227.4,209.8L227.8,209.5L228.0,208.9L227.7,208.4L227.1,208.0L226.6,207.7L226.2,207.4L225.6,207.0L225.0,206.6L224.5,206.2L224.1,205.8L223.6,205.3L223.2,204.8L222.9,204.4L222.5,203.8L222.2,203.2L222.0,202.6L221.7,201.7L221.6,201.1L221.5,200.2L221.6,199.3L221.7,198.6L221.9,197.8L222.1,197.2L222.4,196.6L222.8,196.0L223.2,195.5L223.5,195.1L224.1,194.6L224.6,194.2L225.0,193.9L225.6,193.6L226.2,193.3L227.1,193.0L227.7,192.9L228.6,192.8L229.5,192.8L230.4,192.8L231.3,193.0L231.9,193.1L232.7,193.3L233.4,193.5L234.0,193.6L234.9,193.8L235.8,193.9L236.4,193.9L237.2,193.9L237.9,193.9L238.8,193.8L239.7,193.6L240.3,193.5L241.1,193.3L241.8,193.1L242.4,192.9L243.0,192.7L243.7,192.4L244.5,192.1L245.1,191.9L245.7,191.7L246.4,191.5L247.2,191.3Z" fill="#000" fill-opacity="0.07" fill-rule="evenodd" stroke="rgb(96,96,96)" stroke-width="0.5"/>
<path d="M248.3,192.1L249.0,192.0L249.9,191.9L250.8,191.9L251.7,192.0L252.6,192.1L253.2,192.2L253.9,192.4L254.7,192.7L255.3,192.9L255.9,193.2L256.5,193.5L257.1,193.9L257.5,194.2L258.0,194.6L258.5,195.1L258.9,195.5L259.3,196.0L259.7,196.6L260.1,197.2L260.3,197.8L260.6,198.4L260.7,199.0L260.9,199.9L260.9,200.8L260.8,201.7L260.7,202.3L260.4,203.2L260.1,203.8L259.8,204.4L259.5,205.0L259.2,205.4L258.8,205.9L258.3,206.5L258.0,206.8L257.4,207.3L257.0,207.7L256.5,208.3L256.5,208.7L257.0,209.2L257.4,209.5L258.0,209.9L258.5,210.4L258.9,210.8L259.2,211.3L259.5,211.9L259.8,212.8L259.8,213.7L259.6,214.6L259.3,215.2L258.9,215.8L258.6,216.1L258.0,216.6L257.4,216.9L256.8,217.1L255.9,217.2L255.0,217.2L254.1,217.2L253.2,217.3L252.3,217.3L251.4,217.3L250.8,217.3L249.9,217.3L249.0,217.4L248.1,217.4L247.2,217.4L246.3,217.4L245.4,217.5L244.5,217.5L243.6,217.5L242.7,217.5L241.8,217.5L240.9,217.5L240.0,217.6L239.1,217.6L238.2,217.6L237.3,217.5L236.6,217.3L236.0,217.0L235.5,216.7L234.9,216.1L234.6,215.8L234.1,215.2L233.4,215.0L232.8,215.5L232.4,215.8L231.9,216.2L231.3,216.6L230.7,217.0L230.1,217.3L229.5,217.5L228.9,217.6L228.0,217.8L227.1,217.8L226.2,217.7L225.6,217.5L225.0,217.1L224.5,216.7L224.2,216.1L224.0,215.5L224.0,214.6L224.1,214.0L224.4,213.4L224.8,212.8L225.3,212.2L225.6,211.9L226.2,211.4L226.8,211.0L227.3,210.7L227.9,210.4L228.6,210.1L229.2,209.9L229.8,209.7L230.6,209.5L231.3,209.3L231.8,208.9L231.5,208.3L231.0,207.9L230.4,207.7L229.6,207.4L228.9,207.2L228.3,207.1L227.5,206.8L226.8,206.5L226.2,206.2L225.6,205.9L225.2,205.6L224.7,205.2L224.2,204.7L223.8,204.2L223.5,203.8L223.1,203.2L222.8,202.6L222.6,202.0L222.4,201.1L222.3,200.2L222.3,199.3L222.5,198.4L222.7,197.8L223.0,197.2L223.3,196.6L223.7,196.0L224.1,195.6L224.6,195.1L225.0,194.8L225.6,194.4L226.2,194.1L226.8,193.9L227.7,193.6L228.3,193.5L229.2,193.5L230.1,193.5L230.7,193.6L231.6,193.8L232.2,194.0L232.9,194.2L233.7,194.4L234.3,194.6L235.2,194.8L235.8,194.9L236.7,194.9L237.6,194.9L238.5,194.9L239.1,194.8L240.0,194.6L240.6,194.5L241.5,194.2L242.1,194.0L242.7,193.8L243.3,193.6L244.1,193.3L244.8,193.0L245.4,192.8L246.0,192.6L246.8,192.4L247.5,192.2Z" fill="#000" fill-opacity="0.07" fill-rule="evenodd" stroke="rgb(83,83,83)" stroke-width="0.5"/>
<path d="M250.3,193.0L250.8,193.0L251.7,193.1L252.6,193.2L253.2,193.4L254.0,193.6L254.7,193.9L255.3,194.2L255.8,194.5L256.3,194.8L256.8,195.2L257.4,195.7L257.7,196.1L258.2,196.6L258.6,197.2L258.9,197.8L259.1,198.4L259.3,199.0L259.5,199.9L259.5,200.8L259.4,201.7L259.2,202.4L258.9,203.2L258.6,203.8L258.3,204.3L258.0,204.7L257.5,205.3L257.1,205.7L256.6,206.2L256.2,206.5L255.6,206.9L255.0,207.3L254.4,207.7L253.8,208.0L253.2,208.3L252.7,208.6L252.3,209.1L252.6,209.4L253.2,209.6L254.1,209.8L254.7,209.8L255.6,209.9L256.5,210.0L257.1,210.2L257.7,210.6L258.2,211.0L258.6,211.5L258.9,212.0L259.2,212.8L259.2,213.7L259.0,214.6L258.6,215.2L258.3,215.6L257.7,216.1L257.1,216.4L256.5,216.6L255.6,216.6L254.7,216.6L253.8,216.6L252.9,216.7L252.0,216.7L251.3,216.7L250.5,216.7L249.6,216.7L248.7,216.8L247.8,216.8L246.9,216.8L246.0,216.8L245.1,216.9L244.2,216.9L243.3,216.9L242.4,216.9L241.5,216.9L240.6,216.9L239.7,216.9L238.8,217.0L237.9,217.0L237.0,216.8L236.4,216.6L235.8,216.1L235.5,215.8L235.0,215.2L234.7,214.6L234.5,214.0L234.3,213.1L234.5,212.2L234.8,211.6L235.2,211.1L235.5,210.7L236.1,210.1L236.4,209.8L237.0,209.3L237.5,208.9L237.3,208.0L237.0,207.7L236.4,207.2L235.9,206.8L235.4,206.5L234.6,206.2L234.0,206.1L233.1,206.0L232.2,206.0L231.3,206.1L230.4,206.1L229.5,206.1L228.6,206.0L228.0,205.8L227.2,205.6L226.5,205.3L226.0,205.0L225.6,204.7L225.0,204.2L224.6,203.8L224.1,203.2L223.8,202.6L223.5,202.0L223.3,201.4L223.2,200.6L223.2,199.9L223.2,199.3L223.4,198.4L223.6,197.8L223.9,197.2L224.3,196.6L224.7,196.2L225.2,195.7L225.6,195.4L226.2,195.0L226.8,194.7L227.5,194.5L228.3,194.3L229.2,194.3L230.1,194.4L230.8,194.5L231.6,194.7L232.2,194.9L232.8,195.1L233.5,195.4L234.3,195.7L234.9,195.9L235.5,196.0L236.4,196.2L237.3,196.2L238.2,196.2L239.1,196.1L239.7,196.0L240.6,195.8L241.2,195.6L241.8,195.4L242.6,195.1L243.3,194.8L243.9,194.6L244.5,194.3L245.1,194.1L245.7,193.9L246.6,193.6L247.2,193.4L247.8,193.3L248.7,193.1L249.6,193.0ZM228.9,210.7L229.5,210.6L230.4,210.5L231.3,210.6L231.9,210.8L232.5,211.1L233.0,211.6L233.3,212.2L233.5,212.8L233.4,213.4L233.1,214.0L232.7,214.6L232.2,215.2L231.9,215.5L231.3,216.0L230.7,216.4L230.1,216.7L229.5,216.9L228.9,217.1L228.0,217.3L227.1,217.2L226.2,217.0L225.6,216.7L225.2,216.4L224.8,215.8L224.7,215.2L224.7,214.4L224.9,213.7L225.3,213.1L225.6,212.7L226.1,212.2L226.5,211.8L227.1,211.4L227.7,211.1L228.3,210.9Z" fill="#000" fill-opacity="0.07" fill-rule="evenodd" stroke="rgb(70,70,70)" stroke-width="0.5"/>
<path d="M248.1,194.2L248.7,194.1L249.6,194.0L250.5,193.9L251.4,194.0L252.3,194.1L252.9,194.3L253.5,194.5L254.3,194.8L254.8,195.1L255.3,195.4L255.9,195.8L256.4,196.3L256.8,196.7L257.2,197.2L257.6,197.8L257.8,198.4L258.0,199.0L258.2,199.9L258.2,200.8L258.1,201.7L257.9,202.3L257.7,202.9L257.4,203.5L257.0,204.1L256.5,204.7L256.2,205.0L255.6,205.5L255.0,205.9L254.5,206.2L254.0,206.5L253.3,206.8L252.6,207.1L252.0,207.3L251.4,207.4L250.5,207.6L249.6,207.7L249.0,207.7L248.1,207.7L247.5,207.7L246.6,207.6L245.7,207.4L245.1,207.3L244.4,207.1L243.6,206.8L243.0,206.6L242.4,206.3L241.8,206.0L241.2,205.7L240.6,205.5L240.0,205.2L239.4,204.9L238.8,204.7L238.0,204.4L237.3,204.2L236.6,204.1L235.8,204.0L234.9,204.1L234.3,204.2L233.5,204.4L232.8,204.6L232.2,204.8L231.3,205.0L230.7,205.1L229.8,205.1L228.9,205.1L228.0,205.0L227.4,204.8L226.8,204.6L226.2,204.2L225.7,203.8L225.3,203.4L224.8,202.9L224.5,202.3L224.2,201.7L224.0,201.1L223.9,200.2L224.0,199.3L224.1,198.7L224.4,197.9L224.7,197.3L225.0,196.9L225.6,196.3L226.0,196.0L226.5,195.7L227.1,195.4L228.0,195.1L228.6,195.0L229.5,195.0L230.1,195.1L231.0,195.3L231.6,195.5L232.2,195.7L232.8,196.0L233.4,196.3L234.0,196.6L234.6,196.9L235.3,197.2L236.1,197.4L236.7,197.5L237.6,197.5L238.2,197.5L239.1,197.4L239.9,197.2L240.6,197.0L241.2,196.8L241.8,196.6L242.5,196.3L243.2,196.0L243.8,195.7L244.5,195.4L245.1,195.1L245.7,194.9L246.3,194.7L246.9,194.5L247.8,194.3ZM239.3,210.4L240.0,210.3L240.9,210.3L241.8,210.2L242.7,210.2L243.6,210.2L244.5,210.2L245.4,210.2L246.3,210.2L247.2,210.2L248.1,210.3L249.0,210.3L249.9,210.4L250.5,210.4L251.4,210.4L252.3,210.5L253.2,210.5L254.1,210.6L255.0,210.6L255.9,210.6L256.5,210.7L257.3,211.0L257.7,211.3L258.2,211.9L258.5,212.5L258.7,213.1L258.6,213.9L258.4,214.6L258.0,215.1L257.6,215.5L257.1,215.8L256.2,216.1L255.3,216.1L254.4,216.1L253.8,216.1L252.9,216.1L252.0,216.2L251.1,216.2L250.2,216.2L249.3,216.2L248.4,216.2L247.5,216.3L246.6,216.3L245.7,216.3L244.8,216.3L243.9,216.3L243.0,216.4L242.1,216.4L241.2,216.4L240.3,216.4L239.6,216.4L238.8,216.4L237.9,216.4L237.3,216.3L236.7,216.1L236.1,215.7L235.7,215.2L235.4,214.6L235.2,214.0L235.2,213.1L235.3,212.5L235.6,211.9L236.1,211.3L236.5,211.0L237.1,210.7L237.9,210.5L238.8,210.4ZM228.6,211.3L229.2,211.2L230.1,211.1L231.0,211.2L231.6,211.5L232.1,211.9L232.4,212.5L232.5,213.1L232.4,213.7L232.2,214.3L231.8,214.9L231.3,215.4L230.8,215.8L230.3,216.1L229.7,216.4L228.9,216.7L228.3,216.8L227.4,216.8L226.8,216.7L226.2,216.4L225.6,215.9L225.3,215.2L225.3,214.6L225.4,214.0L225.7,213.4L226.1,212.8L226.5,212.4L227.1,212.0L227.7,211.6L228.3,211.4Z" fill="#000" fill-opacity="0.018" fill-rule="evenodd" stroke="rgb(60,60,60)" stroke-width="0.5"/>
<path d="M248.0,194.8L248.7,194.7L249.6,194.5L250.5,194.5L251.4,194.6L252.3,194.7L252.9,194.9L253.5,195.1L254.1,195.4L254.7,195.7L255.3,196.2L255.8,196.6L256.2,197.0L256.6,197.5L256.9,198.1L257.2,198.7L257.4,199.4L257.5,200.2L257.5,201.1L257.4,201.7L257.1,202.5L256.8,203.1L256.5,203.6L256.1,204.1L255.6,204.6L255.1,205.0L254.7,205.3L254.1,205.7L253.5,206.0L252.9,206.2L252.1,206.5L251.4,206.7L250.6,206.8L249.9,206.9L249.0,206.9L248.1,206.8L247.5,206.7L246.6,206.6L246.0,206.4L245.4,206.2L244.6,205.9L243.9,205.6L243.3,205.3L242.8,205.0L242.2,204.7L241.7,204.4L241.1,204.1L240.5,203.8L239.9,203.5L239.2,203.2L238.5,203.0L237.9,202.8L237.0,202.7L236.1,202.7L235.2,202.9L234.6,203.1L234.0,203.3L233.4,203.6L232.8,203.9L232.2,204.1L231.3,204.4L230.7,204.5L229.8,204.6L228.9,204.6L228.0,204.5L227.4,204.3L226.8,204.0L226.2,203.6L225.7,203.2L225.3,202.7L225.0,202.3L224.7,201.7L224.4,200.8L224.4,200.2L224.4,199.4L224.5,198.7L224.8,198.1L225.1,197.5L225.6,196.9L225.9,196.6L226.5,196.2L227.1,195.9L227.7,195.6L228.6,195.5L229.5,195.5L230.4,195.6L231.0,195.8L231.6,196.0L232.3,196.3L232.8,196.6L233.4,197.0L234.0,197.4L234.6,197.7L235.2,198.1L235.8,198.4L236.4,198.6L237.3,198.6L238.2,198.6L239.1,198.4L239.7,198.2L240.3,198.0L240.9,197.8L241.6,197.5L242.3,197.2L242.9,196.9L243.5,196.6L244.1,196.3L244.7,196.0L245.3,195.7L246.0,195.4L246.6,195.2L247.2,195.0ZM237.9,211.0L238.5,211.0L239.4,210.9L240.3,210.9L241.2,210.8L242.1,210.8L243.0,210.8L243.9,210.8L244.8,210.8L245.7,210.8L246.6,210.8L247.5,210.8L248.4,210.8L249.3,210.8L250.2,210.9L251.1,210.9L252.0,210.9L252.9,210.9L253.8,211.0L254.7,211.0L255.6,211.0L256.2,211.0L257.1,211.3L257.5,211.6L258.0,212.2L258.3,212.8L258.3,213.4L258.2,214.0L258.0,214.6L257.5,215.2L257.0,215.5L256.2,215.7L255.3,215.7L254.4,215.8L253.5,215.8L252.6,215.8L252.0,215.8L251.1,215.8L250.2,215.9L249.3,215.9L248.4,215.9L247.5,215.9L246.6,215.9L245.7,216.0L244.8,216.0L243.9,216.0L243.0,216.0L242.1,216.0L241.2,216.0L240.3,216.1L239.4,216.1L238.5,216.1L237.6,216.0L236.9,215.8L236.4,215.5L235.9,214.9L235.6,214.3L235.5,213.4L235.8,212.5L236.1,211.9L236.4,211.6L237.0,211.2ZM228.6,211.6L229.5,211.4L230.4,211.5L231.0,211.6L231.6,212.0L231.9,212.5L232.1,213.4L231.9,214.0L231.6,214.6L231.1,215.2L230.7,215.5L230.1,215.9L229.5,216.2L228.8,216.4L228.0,216.5L227.1,216.4L226.5,216.2L226.0,215.8L225.7,215.2L225.7,214.3L225.9,213.7L226.3,213.1L226.8,212.6L227.3,212.2L227.8,211.9L228.6,211.6Z" fill="#000" fill-opacity="0.018" fill-rule="evenodd" stroke="rgb(60,60,60)" stroke-width="0.5"/>
<path d="M249.0,195.1L249.6,195.0L250.5,195.0L251.4,195.0L252.0,195.2L252.9,195.4L253.5,195.7L254.1,196.0L254.6,196.3L255.0,196.6L255.6,197.2L255.9,197.6L256.3,198.1L256.5,198.7L256.8,199.5L256.9,200.2L256.9,201.1L256.7,201.7L256.5,202.3L256.2,202.9L255.8,203.5L255.3,204.1L255.0,204.4L254.4,204.8L253.8,205.2L253.2,205.5L252.6,205.8L252.0,206.0L251.1,206.2L250.5,206.2L249.6,206.3L248.7,206.2L248.1,206.1L247.2,206.0L246.6,205.8L246.0,205.6L245.2,205.3L244.6,205.0L244.0,204.7L243.5,204.4L243.0,204.1L242.4,203.7L241.8,203.3L241.2,202.9L240.8,202.6L240.3,202.2L239.7,201.8L239.2,201.4L238.8,201.0L238.8,200.3L239.2,199.9L239.7,199.5L240.3,199.2L240.9,198.8L241.5,198.4L242.1,198.1L242.6,197.8L243.1,197.5L243.6,197.2L244.2,196.9L244.8,196.5L245.4,196.2L246.0,196.0L246.7,195.7L247.5,195.4L248.1,195.3ZM227.8,196.0L228.6,195.9L229.5,195.9L230.4,196.0L231.0,196.2L231.6,196.4L232.2,196.7L232.8,197.1L233.3,197.5L233.7,197.8L234.3,198.4L234.7,198.7L235.2,199.2L235.5,199.6L235.9,200.2L235.8,200.9L235.4,201.4L234.9,201.8L234.3,202.3L233.9,202.6L233.4,202.9L232.8,203.3L232.2,203.6L231.6,203.8L230.7,204.1L230.1,204.2L229.2,204.2L228.3,204.2L227.7,204.0L227.1,203.8L226.5,203.4L225.9,202.9L225.6,202.5L225.3,202.0L225.0,201.4L224.8,200.5L224.8,199.6L224.9,198.7L225.2,198.1L225.6,197.5L225.9,197.1L226.5,196.6L227.0,196.3L227.7,196.0ZM239.5,211.3L240.3,211.3L241.2,211.2L242.1,211.2L243.0,211.2L243.9,211.2L244.8,211.2L245.7,211.2L246.6,211.2L247.5,211.2L248.4,211.2L249.3,211.2L250.2,211.2L251.1,211.3L252.0,211.3L252.9,211.3L253.8,211.3L254.4,211.3L255.3,211.3L256.2,211.3L257.0,211.6L257.4,211.9L257.8,212.5L258.0,213.1L258.0,213.7L257.7,214.5L257.3,214.9L256.8,215.3L255.9,215.4L255.0,215.4L254.1,215.5L253.2,215.5L252.5,215.5L251.7,215.5L250.8,215.5L249.9,215.6L249.0,215.6L248.1,215.6L247.2,215.6L246.3,215.7L245.4,215.7L244.5,215.7L243.6,215.7L242.7,215.7L241.8,215.7L240.9,215.7L240.0,215.8L239.1,215.8L238.2,215.8L237.3,215.7L236.7,215.3L236.3,214.9L236.0,214.3L235.8,213.4L236.1,212.6L236.4,212.1L237.0,211.6L237.6,211.4L238.5,211.3L239.4,211.3ZM228.5,211.9L229.2,211.7L230.1,211.7L230.8,211.9L231.3,212.3L231.7,212.8L231.7,213.7L231.4,214.3L231.0,214.9L230.7,215.2L230.1,215.6L229.5,215.9L228.9,216.1L228.0,216.2L227.1,216.1L226.5,215.8L226.2,215.5L226.0,214.6L226.2,213.7L226.5,213.2L226.9,212.8L227.4,212.4L228.0,212.1Z" fill="#000" fill-opacity="0.018" fill-rule="evenodd" stroke="rgb(60,60,60)" stroke-width="0.5"/>
<path d="M248.1,195.7L249.0,195.5L249.9,195.4L250.8,195.4L251.7,195.5L252.4,195.7L253.2,196.0L253.8,196.3L254.2,196.6L254.7,197.0L255.2,197.5L255.6,198.0L255.9,198.5L256.2,199.3L256.3,199.9L256.3,200.8L256.2,201.6L255.9,202.3L255.6,202.9L255.3,203.3L254.9,203.8L254.4,204.2L253.8,204.7L253.2,205.0L252.6,205.3L252.0,205.5L251.4,205.6L250.5,205.7L249.6,205.7L248.7,205.7L248.1,205.6L247.2,205.4L246.6,205.2L246.0,205.0L245.4,204.7L244.8,204.4L244.2,204.0L243.6,203.6L243.1,203.2L242.7,202.9L242.1,202.3L241.8,202.0L241.4,201.4L241.1,200.8L241.2,200.2L241.6,199.6L242.1,199.0L242.5,198.7L243.0,198.3L243.6,197.8L244.1,197.5L244.6,197.2L245.1,196.9L245.7,196.6L246.4,196.3L247.1,196.0L247.8,195.8ZM228.0,196.3L228.6,196.2L229.5,196.2L230.2,196.3L231.0,196.5L231.6,196.8L232.2,197.2L232.6,197.5L233.1,197.9L233.6,198.4L234.0,198.9L234.3,199.5L234.5,200.2L234.3,201.1L234.0,201.5L233.6,202.0L233.1,202.5L232.5,202.9L231.9,203.2L231.3,203.5L230.7,203.7L230.1,203.8L229.2,203.9L228.3,203.8L227.7,203.6L227.1,203.4L226.5,203.0L226.1,202.6L225.7,202.0L225.4,201.4L225.2,200.8L225.1,199.9L225.2,199.0L225.4,198.4L225.8,197.8L226.2,197.3L226.7,196.9L227.2,196.6ZM240.5,211.6L241.2,211.6L242.1,211.6L243.0,211.5L243.9,211.5L244.8,211.5L245.7,211.5L246.6,211.5L247.5,211.5L248.4,211.5L249.3,211.5L250.2,211.6L251.1,211.6L252.0,211.6L252.9,211.6L253.8,211.6L254.4,211.6L255.3,211.6L256.2,211.6L256.9,211.9L257.4,212.3L257.7,213.0L257.7,213.7L257.5,214.3L257.1,214.7L256.5,215.1L255.6,215.1L254.7,215.2L253.8,215.2L253.2,215.2L252.3,215.2L251.4,215.2L250.5,215.3L249.6,215.3L248.7,215.3L247.8,215.3L246.9,215.4L246.0,215.4L245.1,215.4L244.2,215.4L243.3,215.4L242.4,215.4L241.5,215.5L240.6,215.5L239.7,215.5L238.8,215.5L238.2,215.5L237.6,215.5L237.0,215.2L236.4,214.6L236.2,214.0L236.2,213.1L236.5,212.5L237.0,212.0L237.6,211.7L238.5,211.7L239.4,211.6L240.3,211.6ZM228.3,212.2L228.9,212.0L229.8,211.9L230.7,212.2L231.1,212.5L231.4,213.1L231.3,214.0L231.0,214.5L230.7,214.9L230.1,215.4L229.5,215.7L228.9,215.9L228.0,216.0L227.1,215.8L226.6,215.5L226.3,214.9L226.4,214.0L226.7,213.4L227.1,212.9L227.7,212.5Z" fill="#000" fill-opacity="0.018" fill-rule="evenodd" stroke="rgb(60,60,60)" stroke-width="0.5"/>
<path d="M248.5,196.0L249.3,195.9L250.2,195.8L251.1,195.8L252.0,196.0L252.6,196.2L253.2,196.5L253.8,196.8L254.3,197.2L254.7,197.6L255.1,198.1L255.5,198.7L255.7,199.3L255.9,200.2L255.8,201.1L255.6,201.9L255.3,202.5L255.0,203.0L254.5,203.5L254.1,203.9L253.5,204.3L252.9,204.7L252.3,204.9L251.7,205.1L250.8,205.3L250.2,205.3L249.6,205.3L248.7,205.2L247.8,205.0L247.2,204.9L246.6,204.6L246.0,204.4L245.4,204.0L244.8,203.7L244.2,203.2L243.8,202.9L243.3,202.4L243.0,202.0L242.6,201.4L242.4,200.6L242.4,200.2L242.7,199.6L243.2,199.0L243.6,198.6L244.2,198.1L244.6,197.8L245.1,197.4L245.7,197.1L246.3,196.8L246.9,196.5L247.5,196.3L248.4,196.0ZM228.0,196.6L228.9,196.5L229.8,196.5L230.4,196.7L231.0,196.9L231.6,197.2L232.2,197.6L232.7,198.1L233.1,198.5L233.4,199.0L233.7,199.7L233.7,200.5L233.6,201.1L233.2,201.7L232.8,202.1L232.2,202.6L231.7,202.9L231.1,203.2L230.4,203.4L229.8,203.5L228.9,203.6L228.3,203.5L227.5,203.2L226.9,202.9L226.5,202.5L226.0,202.0L225.7,201.4L225.5,200.8L225.4,199.9L225.5,199.0L225.8,198.4L226.2,197.8L226.5,197.4L227.1,197.0L227.7,196.7ZM240.8,211.9L241.5,211.9L242.4,211.9L243.3,211.8L244.2,211.8L245.1,211.8L246.0,211.8L246.9,211.8L247.8,211.8L248.7,211.8L249.6,211.9L250.5,211.9L251.4,211.9L252.3,211.9L253.2,211.9L254.1,211.9L255.0,211.9L255.9,211.9L256.5,212.0L257.1,212.4L257.4,213.0L257.4,213.7L257.1,214.3L256.8,214.6L255.9,214.9L255.0,214.9L254.3,214.9L253.5,214.9L252.6,214.9L251.7,215.0L250.8,215.0L249.9,215.0L249.0,215.0L248.1,215.1L247.2,215.1L246.3,215.1L245.4,215.1L244.5,215.1L243.6,215.2L242.7,215.2L241.8,215.2L241.1,215.2L240.3,215.2L239.4,215.2L238.5,215.2L237.7,215.2L237.0,214.9L236.7,214.5L236.4,213.7L236.6,212.8L237.0,212.4L237.6,212.1L238.5,212.0L239.4,211.9L240.3,211.9ZM229.1,212.2L229.8,212.2L230.4,212.4L230.9,212.8L231.1,213.4L231.0,214.0L230.7,214.6L230.1,215.1L229.5,215.5L228.9,215.7L228.0,215.8L227.1,215.5L226.8,215.2L226.5,214.3L226.8,213.6L227.2,213.1L227.7,212.7L228.3,212.4Z" fill="#000" fill-opacity="0.018" fill-rule="evenodd" stroke="rgb(60,60,60)" stroke-width="0.5"/>
<path d="M248.9,196.3L249.6,196.2L250.5,196.1L251.4,196.2L252.0,196.4L252.6,196.6L253.2,196.9L253.8,197.3L254.3,197.8L254.7,198.3L255.0,198.8L255.3,199.6L255.4,200.2L255.4,201.1L255.2,201.7L254.9,202.3L254.5,202.9L254.1,203.3L253.6,203.8L253.1,204.1L252.5,204.4L251.7,204.7L251.1,204.8L250.2,204.9L249.3,204.9L248.4,204.7L247.8,204.6L247.2,204.4L246.5,204.1L246.0,203.8L245.4,203.4L244.8,203.0L244.4,202.6L243.9,202.1L243.6,201.6L243.3,200.8L243.4,199.9L243.8,199.3L244.2,198.8L244.6,198.4L245.1,198.0L245.7,197.6L246.3,197.2L246.9,196.9L247.5,196.7L248.1,196.5ZM228.0,196.9L228.6,196.8L229.5,196.8L230.2,196.9L231.0,197.2L231.5,197.5L231.9,197.8L232.5,198.4L232.8,198.8L233.1,199.4L233.2,200.2L233.1,200.8L232.8,201.4L232.3,202.0L231.9,202.4L231.3,202.7L230.7,203.0L229.9,203.2L229.2,203.3L228.4,203.2L227.7,203.0L227.1,202.7L226.7,202.3L226.2,201.7L225.9,201.1L225.7,200.5L225.7,199.6L225.9,198.8L226.2,198.3L226.6,197.8L227.1,197.3L227.7,197.0ZM241.0,212.2L241.8,212.2L242.7,212.2L243.6,212.2L244.5,212.1L245.4,212.1L246.3,212.1L247.2,212.1L248.1,212.1L249.0,212.2L249.9,212.2L250.8,212.2L251.7,212.2L252.6,212.2L253.5,212.2L254.4,212.2L255.3,212.2L255.9,212.2L256.8,212.5L257.1,213.0L257.1,213.7L256.8,214.2L256.2,214.5L255.3,214.6L254.6,214.6L253.8,214.6L252.9,214.6L252.0,214.7L251.1,214.7L250.2,214.7L249.3,214.7L248.4,214.8L247.5,214.8L246.6,214.8L245.7,214.8L244.8,214.9L243.9,214.9L243.0,214.9L242.4,214.9L241.5,214.9L240.6,214.9L239.7,214.9L238.8,214.9L237.9,214.9L237.3,214.7L236.9,214.3L236.7,213.7L236.8,213.1L237.3,212.5L237.9,212.3L238.8,212.3L239.7,212.2L240.6,212.2ZM228.7,212.5L229.5,212.4L230.1,212.5L230.7,213.0L230.8,213.7L230.6,214.3L230.1,214.9L229.6,215.2L228.9,215.5L228.3,215.6L227.7,215.5L227.1,215.2L226.8,214.3L227.1,213.6L227.5,213.1L228.0,212.8Z" fill="#000" fill-opacity="0.018" fill-rule="evenodd" stroke="rgb(60,60,60)" stroke-width="0.5"/>
<path d="M249.2,196.6L249.9,196.5L250.8,196.5L251.5,196.6L252.3,196.9L252.9,197.1L253.4,197.5L253.8,197.8L254.3,198.4L254.7,199.0L254.9,199.6L255.0,200.5L254.8,201.4L254.6,202.0L254.2,202.6L253.8,203.1L253.3,203.5L252.8,203.8L252.2,204.1L251.4,204.4L250.8,204.5L249.9,204.5L249.0,204.4L248.4,204.3L247.7,204.1L246.9,203.8L246.4,203.5L245.9,203.2L245.4,202.8L244.9,202.3L244.5,201.8L244.2,201.3L244.1,200.5L244.2,199.9L244.5,199.3L245.0,198.7L245.4,198.3L246.0,197.9L246.6,197.5L247.2,197.2L247.8,197.0L248.4,196.8ZM228.0,197.2L228.6,197.0L229.5,197.0L230.2,197.2L230.9,197.5L231.4,197.8L231.9,198.2L232.3,198.7L232.6,199.3L232.8,200.2L232.5,201.1L232.2,201.6L231.8,202.0L231.3,202.4L230.7,202.7L229.9,202.9L229.2,203.0L228.3,202.9L227.7,202.7L227.1,202.3L226.8,202.0L226.3,201.4L226.1,200.8L226.0,199.9L226.1,199.0L226.4,198.4L226.8,197.9L227.3,197.5ZM242.1,212.5L243.0,212.5L243.9,212.5L244.8,212.5L245.7,212.5L246.6,212.5L247.5,212.5L248.4,212.5L249.3,212.5L250.2,212.5L250.8,212.5L251.7,212.5L252.6,212.5L253.5,212.5L254.4,212.5L255.3,212.5L256.2,212.6L256.8,213.1L256.8,213.5L256.5,214.0L255.6,214.2L254.7,214.3L253.8,214.3L253.2,214.3L252.3,214.3L251.4,214.4L250.5,214.4L249.6,214.4L248.7,214.4L247.8,214.5L246.9,214.5L246.0,214.5L245.1,214.5L244.2,214.6L243.3,214.6L242.4,214.6L241.8,214.6L240.9,214.6L240.0,214.6L239.1,214.6L238.2,214.6L237.6,214.6L237.1,214.0L237.2,213.1L237.6,212.7L238.5,212.6L239.4,212.6L240.3,212.5L241.2,212.5L242.1,212.5ZM228.4,212.8L229.2,212.6L230.1,212.8L230.4,213.1L230.5,214.0L230.1,214.6L229.7,214.9L229.1,215.2L228.3,215.3L227.6,215.2L227.1,214.6L227.1,214.2L227.4,213.6L227.9,213.1Z" fill="#000" fill-opacity="0.018" fill-rule="evenodd" stroke="rgb(60,60,60)" stroke-width="0.5"/>
<path d="M249.4,196.9L250.2,196.8L251.1,196.9L251.7,197.0L252.3,197.2L252.9,197.6L253.5,198.0L253.8,198.4L254.2,199.0L254.4,199.6L254.6,200.5L254.4,201.4L254.1,202.0L253.8,202.5L253.4,202.9L252.9,203.3L252.3,203.7L251.7,203.9L250.9,204.1L250.2,204.2L249.4,204.1L248.7,204.0L248.0,203.8L247.3,203.5L246.7,203.2L246.2,202.9L245.7,202.4L245.3,202.0L244.9,201.4L244.7,200.8L244.8,200.0L245.1,199.4L245.4,199.0L246.0,198.4L246.4,198.1L246.9,197.8L247.5,197.5L248.2,197.2L249.0,197.0ZM227.9,197.5L228.6,197.3L229.5,197.3L230.2,197.5L230.9,197.8L231.3,198.1L231.9,198.7L232.2,199.3L232.4,199.9L232.2,200.8L231.9,201.4L231.6,201.7L231.0,202.2L230.4,202.5L229.8,202.6L228.9,202.7L228.3,202.6L227.6,202.3L227.1,201.9L226.6,201.4L226.4,200.8L226.2,199.9L226.4,199.0L226.8,198.4L227.1,198.0L227.7,197.6ZM228.3,213.1L228.6,213.0L229.2,212.9L229.8,213.0L230.1,213.2L230.3,213.7L230.1,214.2L229.8,214.5L229.5,214.8L229.2,214.9L228.6,215.1L228.0,215.1L227.7,214.9L227.4,214.4L227.4,214.2L227.6,213.7L227.9,213.4ZM237.8,213.1L238.5,213.0L239.4,213.0L240.3,213.0L241.2,212.9L242.1,212.9L243.0,212.9L243.9,212.9L244.8,212.9L245.7,212.9L246.6,212.9L247.5,212.9L248.4,212.9L249.3,212.9L250.2,213.0L251.1,213.0L252.0,213.0L252.9,213.0L253.8,213.1L254.7,213.1L255.6,213.1L256.2,213.3L255.9,213.7L255.3,213.7L254.4,213.7L253.5,213.8L252.6,213.8L251.7,213.9L250.8,213.9L249.9,214.0L249.3,214.0L248.4,214.0L247.5,214.1L246.6,214.1L245.7,214.1L244.8,214.1L243.9,214.2L243.0,214.2L242.1,214.2L241.2,214.2L240.3,214.2L239.4,214.2L238.5,214.2L237.6,214.1L237.5,213.4Z" fill="#000" fill-opacity="0.018" fill-rule="evenodd" stroke="rgb(60,60,60)" stroke-width="0.5"/>
<path d="M249.6,197.2L250.2,197.1L251.1,197.2L251.7,197.4L252.3,197.6L252.9,198.0L253.3,198.4L253.8,199.0L254.0,199.6L254.1,200.2L254.1,201.0L253.9,201.7L253.5,202.3L253.2,202.6L252.6,203.1L252.0,203.4L251.4,203.6L250.5,203.8L249.6,203.8L248.7,203.6L248.1,203.4L247.5,203.2L246.9,202.8L246.3,202.4L245.9,202.0L245.6,201.4L245.4,200.8L245.4,200.1L245.7,199.4L246.0,199.0L246.6,198.4L247.1,198.1L247.6,197.8L248.3,197.5L249.0,197.3ZM227.9,197.8L228.6,197.6L229.5,197.6L230.3,197.8L230.8,198.1L231.3,198.5L231.7,199.0L231.9,199.6L231.9,200.5L231.7,201.1L231.3,201.6L230.7,202.0L230.1,202.3L229.5,202.4L228.6,202.4L228.0,202.2L227.4,201.8L227.0,201.4L226.7,200.8L226.5,199.9L226.7,199.0L227.1,198.4L227.4,198.1ZM228.3,213.4L228.6,213.2L229.2,213.1L229.8,213.4L229.9,213.7L229.8,214.1L229.5,214.5L229.2,214.7L228.6,214.8L228.0,214.7L227.7,214.3L227.9,213.7Z" fill="#000" fill-opacity="0.018" fill-rule="evenodd" stroke="rgb(60,60,60)" stroke-width="0.5"/>
<path d="M249.9,197.5L250.5,197.5L251.1,197.5L251.9,197.8L252.4,198.1L252.9,198.5L253.3,199.0L253.6,199.6L253.7,200.5L253.6,201.4L253.2,202.0L252.9,202.4L252.3,202.9L251.7,203.2L251.1,203.3L250.2,203.4L249.3,203.4L248.6,203.2L247.9,202.9L247.3,202.6L246.9,202.3L246.3,201.7L246.0,201.1L245.9,200.5L246.0,199.9L246.3,199.3L246.9,198.7L247.3,198.4L247.8,198.1L248.5,197.8L249.3,197.6ZM227.9,198.1L228.6,197.9L229.5,197.9L230.2,198.1L230.7,198.4L231.3,199.0L231.6,199.6L231.6,200.2L231.5,200.8L231.0,201.4L230.6,201.7L230.0,202.0L229.2,202.2L228.3,202.0L227.7,201.7L227.3,201.4L227.0,200.8L226.8,200.2L226.8,199.6L227.1,198.9L227.5,198.4ZM228.4,213.7L228.9,213.5L229.5,213.7L229.2,214.3L228.9,214.5L228.3,214.4L228.2,214.0Z" fill="#000" fill-opacity="0.018" fill-rule="evenodd" stroke="rgb(60,60,60)" stroke-width="0.5"/>
<path d="M249.5,198.7L250.2,198.6L251.1,198.7L251.7,199.0L252.0,199.3L252.3,199.9L252.4,200.8L252.1,201.4L251.7,201.8L251.1,202.1L250.2,202.3L249.3,202.1L248.7,201.9L248.1,201.4L247.8,200.9L247.7,200.2L248.0,199.6L248.4,199.2L249.0,198.9ZM228.3,199.0L228.6,198.8L229.2,198.8L229.8,199.0L230.1,199.2L230.4,199.6L230.4,199.9L230.4,200.3L230.1,200.8L229.8,201.0L229.5,201.1L228.9,201.2L228.5,201.1L228.1,200.8L227.9,200.5L227.8,199.9L228.0,199.3Z" fill="#fff" fill-opacity="0.75" stroke="rgb(60,60,60)" stroke-width="0.5"/>
</g>
<rect x="196.40" y="169.80" width="76.60" height="80.70" fill="none" stroke="#999" stroke-width="0.9"/>
<line x1="237.0" y1="169.8" x2="237.0" y2="250.5" stroke="#999" stroke-width="0.7"/>
<line x1="196.4" y1="208.5" x2="273.0" y2="208.5" stroke="#999" stroke-width="0.7"/>
<text x="198.3" y="179.60000000000002" font-size="9.15" text-anchor="start" fill="#111" stroke="#111" stroke-width="0.22" font-weight="normal" font-style="normal">23%</text>
<text x="271.8" y="179.60000000000002" font-size="9.15" text-anchor="end" fill="#111" stroke="#111" stroke-width="0.22" font-weight="normal" font-style="normal">51%</text>
<text x="198.3" y="248.9" font-size="9.15" text-anchor="start" fill="#b2364a" stroke="#b2364a" stroke-width="0.22" font-weight="normal" font-style="normal">10%</text>
<text x="271.8" y="248.9" font-size="9.15" text-anchor="end" fill="#111" stroke="#111" stroke-width="0.22" font-weight="normal" font-style="normal">16%</text>
<g clip-path="url(#cb7)">
<path d="M66.6,279.5L67.3,279.4L68.2,279.5L68.8,279.6L69.6,279.8L70.3,280.1L70.9,280.4L71.4,280.7L71.8,281.0L72.4,281.6L72.7,281.9L73.2,282.5L73.6,283.1L73.9,283.5L74.2,284.0L74.6,284.6L75.1,285.1L75.7,284.8L76.2,284.3L76.6,283.9L77.0,283.4L77.5,282.9L78.0,282.5L78.4,282.2L79.0,281.8L79.6,281.5L80.2,281.2L80.8,281.0L81.7,280.7L82.3,280.6L83.1,280.4L83.8,280.3L84.7,280.1L85.3,280.0L86.2,279.9L86.8,279.8L87.7,279.7L88.6,279.6L89.5,279.5L90.4,279.5L91.3,279.6L92.2,279.7L92.8,279.8L93.7,280.1L94.3,280.2L94.9,280.5L95.5,280.7L96.1,281.0L96.7,281.3L97.3,281.7L97.9,282.1L98.4,282.5L98.8,282.8L99.4,283.4L99.7,283.7L100.3,284.3L100.6,284.7L101.0,285.2L101.4,285.8L101.7,286.4L102.1,287.0L102.3,287.6L102.6,288.2L102.8,288.8L103.0,289.5L103.2,290.3L103.3,290.9L103.4,291.8L103.5,292.7L103.5,293.6L103.4,294.5L103.3,295.1L103.1,296.0L103.0,296.6L102.8,297.5L102.6,298.1L102.4,299.0L102.4,299.6L102.3,300.5L102.4,301.2L102.5,302.0L102.6,302.9L102.7,303.5L102.7,304.4L102.7,305.1L102.6,305.9L102.4,306.5L102.1,307.3L101.8,307.8L101.5,308.3L101.0,308.9L100.6,309.3L100.1,309.8L99.7,310.1L99.1,310.5L98.5,310.9L97.9,311.2L97.3,311.4L96.7,311.6L95.8,311.9L95.2,312.0L94.3,312.2L93.7,312.2L92.8,312.3L91.9,312.3L91.0,312.3L90.1,312.2L89.5,312.2L88.6,312.1L87.7,312.0L86.8,311.9L86.2,311.9L85.3,311.8L84.4,311.7L83.5,311.6L82.9,311.5L82.0,311.4L81.4,311.3L80.5,311.1L79.9,311.0L79.0,310.7L78.4,310.5L77.8,310.3L77.2,310.0L76.6,309.7L76.0,309.3L75.4,309.0L74.8,308.7L74.2,308.5L73.5,308.6L72.7,308.9L72.2,309.2L71.6,309.5L71.1,309.8L70.6,310.1L70.0,310.5L69.4,310.8L68.8,311.1L68.2,311.4L67.6,311.7L67.0,312.0L66.4,312.2L65.7,312.5L64.9,312.8L64.3,312.9L63.4,313.1L62.8,313.2L61.9,313.2L61.2,313.1L60.4,312.8L59.9,312.5L59.5,312.1L59.2,311.5L59.0,310.7L59.0,309.8L59.2,308.9L59.3,308.3L59.6,307.7L59.8,307.1L60.1,306.5L60.4,305.9L60.7,305.3L61.1,304.7L61.5,304.1L61.9,303.5L62.2,303.1L62.6,302.6L63.1,302.0L63.4,301.6L63.9,301.1L64.3,300.6L64.7,300.2L65.2,299.7L65.6,299.3L66.1,298.8L66.5,298.4L67.0,297.9L67.5,297.5L67.9,297.1L68.5,296.6L68.8,296.3L69.4,295.8L69.8,295.4L70.3,294.9L70.6,294.5L70.0,294.3L69.1,294.5L68.5,294.5L67.6,294.6L66.7,294.5L66.1,294.4L65.4,294.2L64.6,293.9L64.1,293.6L63.6,293.3L63.1,292.9L62.6,292.4L62.2,292.0L61.9,291.5L61.5,290.9L61.2,290.3L60.9,289.7L60.7,288.9L60.6,288.2L60.5,287.3L60.5,286.4L60.6,285.5L60.8,284.9L61.0,284.2L61.3,283.5L61.6,282.9L61.9,282.4L62.3,281.9L62.8,281.4L63.2,281.0L63.7,280.6L64.3,280.3L64.9,280.0L65.5,279.8L66.4,279.5ZM74.2,291.4L73.9,291.5L73.6,291.8L73.3,292.2L73.3,292.5L73.7,292.4L74.0,292.1L74.3,291.8Z" fill="none" stroke="rgb(122,122,122)" stroke-width="0.5"/>
<path d="M66.0,280.4L66.7,280.2L67.6,280.2L68.5,280.3L69.1,280.4L69.9,280.7L70.5,281.0L71.0,281.3L71.5,281.7L72.0,282.2L72.4,282.7L72.7,283.1L73.1,283.7L73.4,284.3L73.6,284.9L73.9,285.8L74.0,286.4L74.1,287.3L74.0,288.2L73.9,288.8L73.6,289.5L73.3,290.1L73.0,290.6L72.6,291.2L72.1,291.8L71.8,292.1L71.2,292.6L70.6,293.0L70.0,293.3L69.4,293.5L68.8,293.7L67.9,293.8L67.0,293.8L66.1,293.6L65.5,293.5L64.9,293.2L64.3,292.9L63.7,292.4L63.3,292.1L62.8,291.5L62.5,291.2L62.1,290.6L61.8,290.0L61.6,289.4L61.3,288.5L61.2,287.9L61.2,287.0L61.2,286.1L61.3,285.5L61.6,284.6L61.8,284.0L62.1,283.4L62.5,282.8L62.8,282.5L63.3,281.9L63.7,281.6L64.3,281.1L64.9,280.8L65.5,280.5ZM87.3,281.3L88.0,281.2L88.9,281.2L89.8,281.2L90.7,281.2L91.6,281.3L92.2,281.4L93.1,281.6L93.7,281.8L94.3,282.0L94.9,282.3L95.5,282.6L96.1,282.9L96.7,283.3L97.3,283.7L97.6,284.0L98.2,284.5L98.6,284.9L99.1,285.5L99.4,285.9L99.8,286.4L100.2,287.0L100.5,287.6L100.8,288.2L101.0,288.8L101.2,289.4L101.5,290.3L101.6,290.9L101.7,291.8L101.8,292.7L101.8,293.3L101.8,293.9L101.7,294.8L101.5,295.7L101.4,296.3L101.2,297.0L101.0,297.8L100.9,298.4L100.7,299.3L100.8,300.2L100.9,301.1L101.0,301.7L101.2,302.4L101.4,303.2L101.5,304.1L101.5,305.0L101.3,305.9L101.1,306.5L100.9,307.1L100.5,307.7L100.1,308.3L99.7,308.7L99.1,309.2L98.7,309.5L98.2,309.9L97.6,310.2L97.0,310.5L96.4,310.7L95.5,311.0L94.9,311.1L94.0,311.3L93.4,311.3L92.5,311.4L91.6,311.4L90.7,311.3L90.1,311.3L89.2,311.2L88.3,311.1L87.6,311.0L86.8,310.9L85.9,310.8L85.0,310.7L84.4,310.7L83.5,310.6L82.6,310.4L82.0,310.3L81.1,310.1L80.5,310.0L79.8,309.8L79.0,309.5L78.4,309.3L77.8,309.0L77.2,308.6L76.7,308.3L76.2,308.0L75.7,307.7L74.8,307.5L73.9,307.7L73.3,307.9L72.7,308.3L72.1,308.6L71.6,308.9L71.2,309.2L70.6,309.5L70.0,309.9L69.4,310.2L68.8,310.6L68.2,310.9L67.6,311.1L67.0,311.4L66.4,311.6L65.6,311.9L64.9,312.1L64.3,312.2L63.4,312.4L62.5,312.4L61.6,312.2L61.0,311.9L60.6,311.6L60.2,311.0L60.0,310.4L59.9,309.5L60.0,308.6L60.2,308.0L60.4,307.3L60.7,306.6L61.0,306.0L61.3,305.4L61.6,304.9L61.9,304.4L62.3,303.8L62.8,303.2L63.1,302.8L63.5,302.3L64.0,301.7L64.3,301.3L64.7,300.8L65.2,300.3L65.6,299.9L66.1,299.4L66.5,299.0L67.0,298.5L67.5,298.1L67.9,297.8L68.5,297.2L68.9,296.9L69.4,296.5L70.0,296.0L70.4,295.7L70.9,295.4L71.5,294.9L72.1,294.5L72.7,294.2L73.2,293.9L73.7,293.6L74.2,293.3L74.8,292.9L75.4,292.4L75.8,292.1L76.1,291.5L76.2,290.6L76.2,289.7L76.1,288.8L76.1,287.9L76.3,287.0L76.5,286.4L76.7,285.8L77.0,285.2L77.5,284.6L77.8,284.2L78.3,283.7L78.7,283.3L79.3,282.9L79.9,282.6L80.5,282.3L81.1,282.1L81.8,281.9L82.6,281.7L83.5,281.6L84.1,281.6L85.0,281.5L85.9,281.4L86.8,281.3Z" fill="#000" fill-opacity="0.07" fill-rule="evenodd" stroke="rgb(109,109,109)" stroke-width="0.5"/>
<path d="M65.9,281.3L66.7,281.1L67.6,281.0L68.5,281.1L69.1,281.3L69.8,281.6L70.3,281.9L70.9,282.3L71.4,282.8L71.8,283.3L72.1,283.7L72.4,284.3L72.7,284.9L73.0,285.8L73.1,286.4L73.1,287.3L73.0,288.1L72.8,288.8L72.6,289.4L72.3,290.0L71.9,290.6L71.5,291.1L71.1,291.5L70.6,291.9L70.0,292.3L69.4,292.6L68.8,292.8L67.9,292.9L67.0,292.9L66.1,292.8L65.5,292.6L64.9,292.3L64.3,291.9L63.9,291.5L63.4,291.0L63.1,290.6L62.7,290.0L62.4,289.4L62.2,288.7L62.0,287.9L62.0,287.0L62.0,286.1L62.2,285.3L62.4,284.6L62.7,284.0L63.1,283.4L63.4,283.0L63.9,282.5L64.3,282.1L64.9,281.7L65.5,281.5ZM82.9,283.1L83.5,283.1L84.4,283.0L85.3,283.1L86.2,283.1L87.1,283.1L88.0,283.1L88.9,283.1L89.8,283.1L90.4,283.1L91.3,283.2L92.2,283.4L92.8,283.5L93.4,283.7L94.0,284.0L94.7,284.3L95.2,284.6L95.8,285.0L96.4,285.5L96.7,285.8L97.3,286.4L97.6,286.7L98.1,287.3L98.4,287.9L98.8,288.5L99.1,289.1L99.3,289.7L99.5,290.3L99.7,291.2L99.8,291.8L99.9,292.7L99.9,293.6L99.8,294.5L99.7,295.1L99.5,296.0L99.3,296.6L99.1,297.3L98.9,298.1L98.8,298.7L98.8,299.6L98.9,300.2L99.1,300.9L99.4,301.7L99.6,302.3L99.8,302.9L100.0,303.8L100.0,304.4L100.0,305.0L99.8,305.9L99.6,306.5L99.3,307.1L98.8,307.7L98.5,308.1L97.9,308.6L97.5,308.9L97.0,309.2L96.4,309.5L95.6,309.8L94.9,310.0L94.3,310.1L93.4,310.3L92.5,310.3L91.6,310.3L90.7,310.3L89.8,310.2L89.2,310.1L88.3,310.0L87.4,309.8L86.8,309.7L85.9,309.6L85.0,309.5L84.4,309.4L83.5,309.3L82.7,309.2L82.0,309.1L81.3,308.9L80.5,308.7L79.9,308.4L79.3,308.2L78.7,307.9L78.1,307.5L77.5,307.1L77.1,306.8L76.6,306.5L75.8,306.2L75.4,306.2L74.6,306.5L74.0,306.8L73.5,307.1L73.0,307.4L72.4,307.8L71.8,308.2L71.2,308.6L70.6,308.9L70.1,309.2L69.6,309.5L69.1,309.8L68.5,310.1L67.8,310.4L67.1,310.7L66.4,311.0L65.8,311.2L65.2,311.3L64.3,311.5L63.4,311.5L62.5,311.4L61.9,311.1L61.4,310.7L61.1,310.1L60.9,309.5L60.9,308.6L61.0,308.0L61.3,307.1L61.5,306.5L61.8,305.9L62.1,305.3L62.4,304.7L62.8,304.1L63.1,303.7L63.4,303.2L63.9,302.6L64.3,302.1L64.6,301.7L65.1,301.1L65.5,300.7L66.0,300.2L66.4,299.8L66.9,299.3L67.3,298.9L67.9,298.4L68.2,298.1L68.8,297.6L69.3,297.2L69.7,296.9L70.3,296.5L70.9,296.0L71.4,295.7L71.9,295.4L72.4,295.1L73.0,294.7L73.6,294.4L74.2,294.0L74.8,293.7L75.4,293.4L76.0,293.1L76.6,292.7L77.0,292.4L77.5,291.8L77.7,291.2L77.6,290.3L77.5,289.4L77.5,288.8L77.5,288.2L77.6,287.3L77.8,286.7L78.1,286.0L78.4,285.5L78.9,284.9L79.3,284.5L79.9,284.1L80.5,283.7L81.1,283.5L81.7,283.3L82.6,283.1Z" fill="#000" fill-opacity="0.07" fill-rule="evenodd" stroke="rgb(96,96,96)" stroke-width="0.5"/>
<path d="M66.4,282.2L67.0,282.1L67.9,282.1L68.6,282.2L69.4,282.5L69.9,282.8L70.3,283.1L70.9,283.7L71.2,284.1L71.5,284.6L71.8,285.2L72.0,286.1L72.1,286.7L72.1,287.4L72.0,288.2L71.8,288.8L71.5,289.5L71.2,290.0L70.7,290.6L70.3,290.9L69.7,291.4L69.1,291.6L68.5,291.8L67.6,292.0L66.7,291.9L66.1,291.7L65.5,291.5L64.9,291.1L64.3,290.6L64.0,290.2L63.6,289.7L63.3,289.1L63.1,288.4L62.9,287.6L62.9,286.7L63.0,285.8L63.2,285.2L63.5,284.6L63.8,284.0L64.3,283.4L64.7,283.1L65.2,282.7L65.8,282.4ZM82.8,284.9L83.5,284.9L84.1,284.9L85.0,285.0L85.9,285.2L86.5,285.3L87.4,285.3L88.3,285.4L89.2,285.4L90.1,285.5L90.7,285.5L91.6,285.7L92.2,285.9L92.8,286.1L93.5,286.4L94.0,286.7L94.6,287.1L95.1,287.6L95.5,288.0L95.9,288.5L96.3,289.1L96.7,289.7L96.9,290.3L97.1,290.9L97.3,291.5L97.4,292.4L97.4,293.3L97.4,294.2L97.3,294.8L97.0,295.7L96.8,296.3L96.6,296.9L96.4,297.5L96.2,298.4L96.2,299.3L96.4,300.1L96.7,300.7L97.0,301.3L97.3,301.8L97.6,302.4L97.9,303.1L98.1,303.8L98.2,304.7L98.0,305.6L97.8,306.2L97.4,306.8L97.0,307.3L96.5,307.7L96.1,308.0L95.5,308.3L94.7,308.6L94.0,308.8L93.4,308.9L92.5,309.0L91.6,309.0L90.7,308.9L90.1,308.8L89.2,308.7L88.6,308.6L87.7,308.4L86.8,308.3L86.2,308.2L85.3,308.1L84.7,308.0L83.8,307.8L83.1,307.7L82.3,307.5L81.7,307.3L81.0,307.1L80.3,306.8L79.8,306.5L79.3,306.2L78.7,305.7L78.3,305.3L77.8,304.8L77.2,304.5L76.3,304.6L75.7,304.9L75.1,305.3L74.6,305.6L74.1,305.9L73.6,306.3L73.0,306.7L72.4,307.1L71.9,307.4L71.5,307.7L70.9,308.1L70.3,308.4L69.7,308.8L69.1,309.1L68.5,309.4L67.9,309.7L67.3,309.9L66.7,310.1L65.8,310.4L65.2,310.5L64.3,310.5L63.4,310.4L62.8,310.1L62.4,309.8L62.1,309.2L62.0,308.3L62.1,307.4L62.2,306.8L62.5,306.1L62.8,305.4L63.1,304.9L63.4,304.3L63.7,303.8L64.2,303.2L64.6,302.6L64.9,302.2L65.3,301.7L65.8,301.2L66.2,300.8L66.7,300.2L67.0,299.9L67.6,299.4L68.0,299.0L68.5,298.6L69.1,298.1L69.4,297.8L70.0,297.4L70.6,296.9L71.1,296.6L71.5,296.3L72.1,295.9L72.7,295.6L73.3,295.2L73.9,294.9L74.5,294.6L75.1,294.4L75.7,294.1L76.3,293.9L77.1,293.6L77.8,293.3L78.4,293.1L79.0,292.7L79.4,292.4L79.6,291.8L79.6,290.9L79.5,290.3L79.3,289.4L79.2,288.8L79.3,287.9L79.4,287.3L79.7,286.7L80.2,286.1L80.5,285.8L81.1,285.4L81.7,285.1L82.6,284.9Z" fill="#000" fill-opacity="0.07" fill-rule="evenodd" stroke="rgb(83,83,83)" stroke-width="0.5"/>
<path d="M66.7,283.4L67.6,283.3L68.3,283.4L69.0,283.7L69.5,284.0L70.0,284.5L70.3,284.9L70.6,285.5L70.9,286.4L70.9,287.0L70.9,287.6L70.6,288.5L70.3,289.1L70.0,289.5L69.5,290.0L69.0,290.3L68.3,290.6L67.6,290.7L66.7,290.6L66.1,290.4L65.5,290.0L65.2,289.7L64.7,289.1L64.4,288.5L64.2,287.9L64.1,287.0L64.2,286.1L64.4,285.5L64.7,284.9L65.2,284.3L65.5,284.0L66.1,283.6ZM87.1,289.4L88.0,289.3L88.9,289.2L89.8,289.2L90.7,289.3L91.3,289.5L91.9,289.8L92.5,290.3L92.8,290.6L93.2,291.2L93.5,291.8L93.7,292.7L93.7,293.1L93.6,293.9L93.4,294.7L93.1,295.3L92.8,295.8L92.5,296.3L92.1,296.9L91.6,297.5L91.4,298.1L91.3,298.7L91.4,299.3L91.8,299.9L92.2,300.4L92.6,300.8L93.1,301.2L93.7,301.7L94.0,302.0L94.6,302.6L94.9,303.0L95.2,303.5L95.4,304.4L95.3,305.3L94.9,305.9L94.6,306.2L94.0,306.6L93.4,306.8L92.5,307.0L91.6,307.0L90.7,306.9L89.9,306.8L89.2,306.7L88.5,306.5L87.7,306.3L87.1,306.2L86.2,306.0L85.6,305.9L84.7,305.7L84.1,305.6L83.2,305.3L82.6,305.1L82.0,304.7L81.6,304.4L81.1,303.8L80.9,303.2L80.8,302.6L80.9,302.0L81.2,301.4L81.6,300.8L82.0,300.5L82.6,300.0L83.2,299.6L83.7,299.3L84.2,299.0L84.7,298.7L85.3,298.2L85.7,297.8L86.1,297.2L86.2,296.6L86.2,295.9L86.1,295.1L85.9,294.3L85.7,293.6L85.6,293.0L85.3,292.1L85.2,291.5L85.0,290.6L85.3,289.9L85.9,289.6L86.8,289.5ZM76.9,294.8L77.5,294.7L78.4,294.8L79.0,295.0L79.6,295.4L79.9,296.0L80.0,296.6L80.0,297.5L79.9,298.1L79.7,299.0L79.4,299.6L79.1,300.2L78.8,300.8L78.4,301.2L78.0,301.7L77.5,302.2L77.0,302.6L76.6,303.0L76.0,303.5L75.6,303.8L75.1,304.2L74.5,304.7L74.1,305.0L73.6,305.4L73.0,305.9L72.6,306.2L72.1,306.5L71.5,306.9L70.9,307.3L70.3,307.7L69.7,308.0L69.2,308.3L68.5,308.6L67.9,308.9L67.3,309.1L66.7,309.2L65.8,309.4L64.9,309.4L64.1,309.2L63.7,308.9L63.3,308.3L63.2,307.4L63.3,306.5L63.5,305.9L63.8,305.3L64.1,304.7L64.4,304.1L64.8,303.5L65.2,302.9L65.5,302.5L65.9,302.0L66.4,301.5L66.7,301.1L67.3,300.5L67.6,300.2L68.2,299.6L68.6,299.3L69.1,298.8L69.7,298.4L70.0,298.1L70.6,297.7L71.2,297.3L71.8,296.9L72.3,296.6L72.8,296.3L73.4,296.0L74.0,295.7L74.7,295.4L75.4,295.2L76.0,295.0Z" fill="#000" fill-opacity="0.07" fill-rule="evenodd" stroke="rgb(70,70,70)" stroke-width="0.5"/>
<path d="M66.6,284.9L67.3,284.7L68.2,284.8L68.8,285.2L69.1,285.5L69.5,286.1L69.6,287.0L69.5,287.9L69.1,288.5L68.8,288.8L68.2,289.2L67.3,289.3L66.6,289.1L66.1,288.7L65.7,288.2L65.4,287.6L65.4,286.7L65.5,286.1L65.9,285.5L66.4,285.0ZM75.3,296.0L76.0,295.9L76.9,295.8L77.5,296.0L78.1,296.4L78.4,296.9L78.5,297.8L78.4,298.5L78.1,299.3L77.9,299.9L77.5,300.5L77.2,301.0L76.9,301.4L76.4,302.0L76.0,302.4L75.6,302.9L75.1,303.4L74.6,303.8L74.2,304.2L73.6,304.7L73.2,305.0L72.7,305.4L72.1,305.8L71.6,306.2L71.1,306.5L70.6,306.8L70.0,307.2L69.4,307.5L68.8,307.8L68.2,308.0L67.3,308.3L66.7,308.4L65.8,308.4L65.2,308.3L64.6,307.9L64.3,307.1L64.3,306.5L64.4,305.9L64.6,305.3L64.9,304.6L65.2,304.1L65.5,303.5L66.0,302.9L66.4,302.3L66.7,302.0L67.2,301.4L67.6,301.0L68.1,300.5L68.5,300.1L69.0,299.6L69.4,299.3L70.0,298.8L70.6,298.4L71.0,298.1L71.5,297.8L72.1,297.4L72.7,297.0L73.3,296.7L73.9,296.5L74.5,296.2Z" fill="#000" fill-opacity="0.018" fill-rule="evenodd" stroke="rgb(60,60,60)" stroke-width="0.5"/>
<path d="M66.9,286.4L67.3,286.2L67.9,286.3L68.2,286.6L68.3,287.0L68.2,287.4L67.9,287.7L67.3,287.8L66.9,287.6L66.7,287.1L66.7,286.9ZM74.9,296.6L75.7,296.5L76.6,296.5L77.2,296.8L77.6,297.2L77.7,298.1L77.6,299.0L77.4,299.6L77.1,300.2L76.7,300.8L76.3,301.4L76.0,301.8L75.6,302.3L75.1,302.8L74.7,303.2L74.2,303.7L73.8,304.1L73.3,304.5L72.7,305.0L72.3,305.3L71.8,305.6L71.2,306.1L70.6,306.4L70.0,306.8L69.4,307.1L68.8,307.3L68.2,307.6L67.6,307.7L66.7,307.8L65.8,307.7L65.3,307.4L65.0,306.8L65.0,305.9L65.2,305.1L65.5,304.4L65.8,303.8L66.1,303.4L66.4,302.9L66.9,302.3L67.3,301.8L67.6,301.4L68.2,300.8L68.5,300.5L69.1,300.0L69.5,299.6L70.0,299.2L70.6,298.8L71.1,298.4L71.6,298.1L72.1,297.8L72.7,297.5L73.3,297.2L74.0,296.9L74.8,296.6Z" fill="#000" fill-opacity="0.018" fill-rule="evenodd" stroke="rgb(60,60,60)" stroke-width="0.5"/>
<path d="M74.2,297.2L75.1,297.0L76.0,297.0L76.6,297.3L77.0,297.8L77.1,298.7L76.9,299.5L76.6,300.2L76.3,300.7L76.0,301.2L75.6,301.7L75.1,302.3L74.8,302.7L74.3,303.2L73.9,303.6L73.3,304.1L73.0,304.4L72.4,304.9L71.8,305.3L71.4,305.6L70.9,305.9L70.3,306.2L69.7,306.6L69.1,306.8L68.4,307.1L67.6,307.3L66.7,307.3L66.0,307.1L65.6,306.5L65.5,305.6L65.8,304.7L66.1,304.1L66.4,303.5L66.7,303.0L67.0,302.6L67.5,302.0L67.9,301.5L68.3,301.1L68.8,300.6L69.3,300.2L69.7,299.8L70.3,299.3L70.8,299.0L71.2,298.7L71.8,298.3L72.4,298.0L73.0,297.7L73.6,297.4Z" fill="#000" fill-opacity="0.018" fill-rule="evenodd" stroke="rgb(60,60,60)" stroke-width="0.5"/>
<path d="M74.6,297.5L75.4,297.5L76.0,297.6L76.4,298.1L76.6,299.0L76.3,299.9L76.0,300.5L75.7,301.1L75.4,301.5L75.0,302.0L74.5,302.6L74.2,302.9L73.6,303.5L73.3,303.8L72.7,304.3L72.2,304.7L71.8,305.0L71.2,305.4L70.6,305.8L70.0,306.1L69.4,306.4L68.8,306.6L68.1,306.8L67.3,306.9L66.7,306.8L66.1,306.2L66.0,305.6L66.1,305.0L66.4,304.2L66.7,303.6L67.0,303.1L67.4,302.6L67.8,302.0L68.2,301.6L68.7,301.1L69.1,300.7L69.6,300.2L70.0,299.9L70.6,299.4L71.2,299.0L71.7,298.7L72.2,298.4L72.8,298.1L73.5,297.8L74.2,297.6Z" fill="#000" fill-opacity="0.018" fill-rule="evenodd" stroke="rgb(60,60,60)" stroke-width="0.5"/>
<path d="M73.6,298.1L74.2,297.9L75.1,297.9L75.7,298.2L76.0,298.7L76.0,299.6L75.8,300.2L75.5,300.8L75.1,301.4L74.8,301.8L74.4,302.3L73.9,302.9L73.6,303.2L73.0,303.7L72.6,304.1L72.1,304.5L71.5,304.9L70.9,305.3L70.4,305.6L69.8,305.9L69.1,306.2L68.5,306.4L67.6,306.4L66.9,306.2L66.5,305.6L66.6,304.7L66.8,304.1L67.1,303.5L67.5,302.9L67.9,302.3L68.2,302.0L68.7,301.4L69.1,301.0L69.7,300.5L70.0,300.2L70.6,299.7L71.2,299.3L71.7,299.0L72.2,298.7L72.8,298.4Z" fill="#000" fill-opacity="0.018" fill-rule="evenodd" stroke="rgb(60,60,60)" stroke-width="0.5"/>
<path d="M73.7,298.4L74.5,298.3L75.1,298.4L75.6,299.0L75.5,299.9L75.3,300.5L75.0,301.1L74.6,301.7L74.2,302.2L73.8,302.6L73.3,303.1L72.9,303.5L72.4,303.9L71.8,304.4L71.4,304.7L70.9,305.0L70.3,305.4L69.7,305.6L69.0,305.9L68.2,306.0L67.4,305.9L67.0,305.4L67.0,304.7L67.1,304.1L67.4,303.5L67.8,302.9L68.2,302.3L68.5,302.0L69.0,301.4L69.4,301.0L70.0,300.5L70.4,300.2L70.9,299.8L71.5,299.4L72.1,299.0L72.7,298.7L73.3,298.5Z" fill="#000" fill-opacity="0.018" fill-rule="evenodd" stroke="rgb(60,60,60)" stroke-width="0.5"/>
<path d="M72.8,299.0L73.6,298.8L74.5,298.8L75.1,299.3L75.1,299.9L74.9,300.5L74.6,301.1L74.3,301.7L73.9,302.1L73.5,302.6L73.0,303.1L72.6,303.5L72.1,303.9L71.5,304.3L71.0,304.7L70.4,305.0L69.8,305.3L69.1,305.5L68.5,305.6L67.9,305.6L67.4,305.0L67.5,304.1L67.7,303.5L68.1,302.9L68.5,302.3L68.8,302.0L69.3,301.4L69.7,301.0L70.3,300.5L70.7,300.2L71.2,299.9L71.8,299.5L72.4,299.2Z" fill="#000" fill-opacity="0.018" fill-rule="evenodd" stroke="rgb(60,60,60)" stroke-width="0.5"/>
<path d="M72.8,299.3L73.6,299.1L74.4,299.3L74.7,299.9L74.5,300.7L74.2,301.3L73.9,301.7L73.5,302.3L73.0,302.8L72.6,303.2L72.1,303.6L71.5,304.1L71.0,304.4L70.5,304.7L69.8,305.0L69.1,305.2L68.2,305.1L67.9,304.7L67.9,304.0L68.2,303.3L68.5,302.8L68.8,302.3L69.4,301.7L69.7,301.3L70.3,300.8L70.7,300.5L71.2,300.1L71.8,299.8L72.4,299.5Z" fill="#000" fill-opacity="0.018" fill-rule="evenodd" stroke="rgb(60,60,60)" stroke-width="0.5"/>
<path d="M72.9,299.6L73.6,299.5L74.1,299.9L74.2,300.3L74.0,301.1L73.6,301.7L73.3,302.1L72.9,302.6L72.4,303.1L71.9,303.5L71.5,303.8L70.9,304.2L70.3,304.5L69.7,304.7L68.8,304.8L68.3,304.4L68.4,303.5L68.7,302.9L69.1,302.4L69.4,302.0L70.0,301.4L70.3,301.1L70.9,300.6L71.5,300.2L72.1,299.9L72.7,299.7Z" fill="#000" fill-opacity="0.018" fill-rule="evenodd" stroke="rgb(60,60,60)" stroke-width="0.5"/>
<path d="M72.1,300.2L73.0,300.0L73.6,300.2L73.6,301.0L73.3,301.6L73.0,302.1L72.5,302.6L72.1,303.0L71.5,303.5L71.0,303.8L70.5,304.1L69.7,304.3L68.9,304.1L68.8,303.7L69.1,302.9L69.4,302.4L69.7,302.0L70.3,301.4L70.7,301.1L71.2,300.7L71.8,300.4Z" fill="#000" fill-opacity="0.018" fill-rule="evenodd" stroke="rgb(60,60,60)" stroke-width="0.5"/>
</g>
<ellipse cx="0" cy="0" rx="10.6" ry="2.7" transform="translate(70.9 302.5) rotate(-41)" fill="none" stroke="#151515" stroke-width="1.3" opacity="0.8"/>
<rect x="26.10" y="257.20" width="77.80" height="80.10" fill="none" stroke="#999" stroke-width="0.9"/>
<line x1="75.6" y1="257.2" x2="75.6" y2="337.3" stroke="#999" stroke-width="0.7"/>
<line x1="26.1" y1="301.7" x2="103.9" y2="301.7" stroke="#999" stroke-width="0.7"/>
<text x="28.0" y="266.0" font-size="9.15" text-anchor="start" fill="#111" stroke="#111" stroke-width="0.22" font-weight="normal" font-style="normal">15%</text>
<text x="102.7" y="266.0" font-size="9.15" text-anchor="end" fill="#111" stroke="#111" stroke-width="0.22" font-weight="normal" font-style="normal">26%</text>
<text x="28.0" y="335.1" font-size="9.15" text-anchor="start" fill="#b2364a" stroke="#b2364a" stroke-width="0.22" font-weight="normal" font-style="normal">32%</text>
<text x="102.7" y="335.1" font-size="9.15" text-anchor="end" fill="#111" stroke="#111" stroke-width="0.22" font-weight="normal" font-style="normal">26%</text>
<g clip-path="url(#cb8)">
<path d="M151.7,279.2L152.4,279.0L153.3,279.0L154.2,279.1L154.8,279.2L155.4,279.5L156.0,279.8L156.6,280.3L157.0,280.7L157.5,281.2L157.8,281.6L158.3,282.2L158.7,282.7L159.1,283.1L159.6,283.6L160.0,284.0L160.5,284.3L161.1,284.6L162.0,284.9L162.6,285.0L163.5,285.1L164.4,285.2L165.0,285.2L165.9,285.3L166.8,285.4L167.7,285.5L168.3,285.5L169.2,285.7L169.9,285.8L170.7,286.0L171.3,286.1L172.2,286.3L172.8,286.5L173.6,286.7L174.3,286.9L174.9,287.1L175.5,287.4L176.1,287.6L176.7,287.9L177.3,288.2L177.9,288.5L178.5,288.9L179.1,289.3L179.6,289.7L180.0,290.0L180.6,290.6L180.9,291.0L181.2,291.5L181.5,292.1L181.7,293.0L181.7,293.9L181.6,294.8L181.5,295.4L181.4,296.3L181.5,297.2L181.7,297.8L181.9,298.4L182.3,299.0L182.6,299.6L183.0,300.2L183.3,300.8L183.6,301.3L183.9,301.9L184.2,302.5L184.5,303.2L184.7,303.8L184.8,304.4L185.0,305.3L185.0,306.2L185.0,307.1L184.9,308.0L184.8,308.6L184.5,309.5L184.3,310.1L184.0,310.7L183.7,311.3L183.3,311.9L183.0,312.3L182.6,312.8L182.1,313.4L181.8,313.7L181.2,314.2L180.7,314.6L180.3,314.9L179.7,315.3L179.1,315.7L178.5,316.0L177.9,316.3L177.3,316.5L176.7,316.8L176.0,317.0L175.2,317.2L174.6,317.4L173.7,317.5L173.1,317.6L172.2,317.7L171.3,317.7L170.4,317.7L169.5,317.7L168.8,317.6L168.0,317.5L167.1,317.3L166.5,317.2L165.9,317.0L165.0,316.7L164.4,316.5L163.8,316.3L163.2,316.0L162.6,315.8L161.8,315.5L161.1,315.3L160.5,315.2L159.6,315.1L158.7,315.2L158.1,315.4L157.5,315.6L156.9,315.9L156.3,316.2L155.7,316.5L155.1,316.8L154.5,317.1L153.9,317.3L153.2,317.6L152.4,317.9L151.8,318.1L151.2,318.3L150.3,318.5L149.7,318.6L148.8,318.7L147.9,318.8L147.0,318.8L146.1,318.7L145.2,318.6L144.5,318.5L143.7,318.3L143.1,318.1L142.5,317.9L141.9,317.6L141.3,317.2L140.7,316.8L140.3,316.4L139.8,315.9L139.4,315.5L139.0,314.9L138.6,314.3L138.3,313.7L138.1,313.1L137.9,312.5L137.7,311.9L137.5,311.0L137.4,310.4L137.3,309.5L137.2,308.6L137.2,307.7L137.3,306.8L137.4,305.9L137.5,305.3L137.7,304.4L137.8,303.8L138.0,303.2L138.3,302.3L138.5,301.7L138.8,301.1L139.1,300.5L139.4,299.9L139.8,299.3L140.1,298.8L140.4,298.3L140.8,297.8L141.2,297.2L141.6,296.7L142.0,296.3L142.5,295.7L142.8,295.4L143.4,294.8L143.7,294.5L144.3,293.9L144.6,293.6L145.2,293.0L145.5,292.7L146.0,292.1L146.4,291.6L146.7,291.0L147.0,290.3L147.1,289.7L147.2,288.8L147.2,287.9L147.3,287.0L147.3,286.4L147.4,285.5L147.6,284.6L147.7,284.0L147.9,283.4L148.2,282.7L148.5,282.1L148.8,281.6L149.2,281.0L149.7,280.5L150.1,280.1L150.6,279.8L151.2,279.4Z" fill="none" stroke="rgb(122,122,122)" stroke-width="0.5"/>
<path d="M152.2,281.9L153.0,281.7L153.9,281.7L154.5,281.9L155.1,282.3L155.7,282.7L156.1,283.1L156.6,283.6L156.9,284.0L157.4,284.6L157.8,285.0L158.3,285.5L158.7,285.8L159.3,286.2L159.9,286.4L160.8,286.6L161.4,286.7L162.3,286.8L163.2,286.8L164.1,286.9L165.0,286.9L165.9,286.9L166.8,287.0L167.4,287.1L168.3,287.2L169.0,287.3L169.8,287.4L170.5,287.6L171.3,287.8L171.9,288.0L172.5,288.2L173.3,288.5L174.0,288.8L174.6,289.1L175.2,289.4L175.6,289.7L176.1,290.0L176.7,290.5L177.1,290.9L177.5,291.5L177.8,292.1L178.0,292.7L178.1,293.6L178.1,294.5L178.0,295.4L178.1,296.3L178.3,296.9L178.6,297.5L179.0,298.1L179.4,298.7L179.7,299.0L180.1,299.6L180.6,300.2L180.9,300.6L181.3,301.1L181.7,301.7L182.0,302.3L182.3,302.9L182.6,303.5L182.8,304.1L183.0,305.0L183.1,305.6L183.1,306.5L183.1,307.4L183.0,308.0L182.8,308.9L182.5,309.5L182.3,310.1L181.9,310.7L181.5,311.3L181.2,311.8L180.8,312.2L180.3,312.7L179.9,313.1L179.4,313.5L178.8,313.9L178.2,314.3L177.7,314.6L177.1,314.9L176.4,315.2L175.8,315.4L175.2,315.6L174.5,315.8L173.7,316.0L172.8,316.1L172.2,316.2L171.3,316.2L170.4,316.2L169.5,316.1L168.9,316.1L168.0,315.9L167.4,315.8L166.5,315.5L165.9,315.3L165.3,315.1L164.7,314.9L164.1,314.6L163.4,314.3L162.8,314.0L162.2,313.7L161.5,313.4L160.8,313.1L160.2,313.0L159.3,313.0L158.7,313.1L157.9,313.4L157.2,313.7L156.7,314.0L156.1,314.3L155.6,314.6L155.1,314.9L154.5,315.2L153.9,315.5L153.3,315.8L152.6,316.1L151.8,316.4L151.2,316.6L150.6,316.8L149.7,317.0L149.1,317.1L148.2,317.2L147.3,317.3L146.4,317.3L145.5,317.2L144.6,317.0L144.0,316.9L143.4,316.7L142.8,316.4L142.2,316.1L141.6,315.6L141.1,315.2L140.7,314.8L140.3,314.3L139.9,313.7L139.6,313.1L139.4,312.5L139.2,311.9L139.0,311.0L138.9,310.4L138.8,309.5L138.7,308.6L138.7,307.7L138.8,306.8L138.9,306.2L139.1,305.3L139.2,304.7L139.5,303.8L139.7,303.2L139.9,302.6L140.2,302.0L140.4,301.4L140.7,300.8L141.1,300.2L141.5,299.6L141.9,299.0L142.2,298.6L142.6,298.1L143.1,297.5L143.4,297.1L143.9,296.6L144.3,296.2L144.9,295.7L145.2,295.4L145.8,294.9L146.2,294.5L146.7,294.1L147.3,293.6L147.6,293.3L148.2,292.7L148.5,292.3L148.9,291.8L149.2,291.2L149.4,290.6L149.5,289.7L149.5,288.8L149.5,287.9L149.5,287.0L149.5,286.1L149.7,285.2L149.9,284.6L150.1,284.0L150.4,283.4L150.9,282.8L151.2,282.5L151.8,282.1Z" fill="#000" fill-opacity="0.07" fill-rule="evenodd" stroke="rgb(109,109,109)" stroke-width="0.5"/>
<path d="M164.9,289.4L165.3,289.4L166.2,289.4L167.1,289.5L168.0,289.7L168.6,289.8L169.3,290.0L170.1,290.3L170.7,290.6L171.3,290.9L171.7,291.2L172.2,291.7L172.5,292.1L172.8,292.7L173.0,293.6L173.1,294.5L173.1,295.1L173.3,296.0L173.6,296.6L174.0,297.1L174.4,297.5L174.9,298.0L175.4,298.4L175.8,298.7L176.4,299.2L176.9,299.6L177.3,300.0L177.9,300.5L178.2,300.8L178.8,301.4L179.1,301.8L179.5,302.3L179.8,302.9L180.2,303.5L180.4,304.1L180.6,304.7L180.8,305.6L180.9,306.5L180.8,307.4L180.6,308.3L180.4,308.9L180.1,309.5L179.8,310.1L179.4,310.6L179.1,311.0L178.5,311.6L178.2,311.9L177.6,312.4L177.0,312.8L176.4,313.1L175.8,313.4L175.2,313.6L174.6,313.8L174.0,314.0L173.1,314.2L172.5,314.3L171.6,314.4L170.7,314.4L169.8,314.3L169.2,314.3L168.3,314.1L167.7,314.0L166.9,313.7L166.2,313.4L165.6,313.2L165.0,312.9L164.4,312.5L163.9,312.2L163.4,311.9L162.9,311.5L162.3,311.1L161.7,310.7L161.2,310.4L160.5,310.2L159.9,310.1L159.3,310.2L158.7,310.5L158.1,310.8L157.5,311.2L156.9,311.6L156.5,311.9L156.0,312.3L155.4,312.7L154.8,313.1L154.4,313.4L153.9,313.7L153.3,314.0L152.7,314.3L152.1,314.6L151.4,314.9L150.6,315.2L150.0,315.4L149.4,315.5L148.5,315.7L147.7,315.8L147.0,315.8L146.1,315.8L145.5,315.7L144.6,315.5L144.0,315.3L143.4,315.1L142.8,314.7L142.3,314.3L141.9,313.9L141.5,313.4L141.1,312.8L140.8,312.2L140.6,311.6L140.4,311.0L140.2,310.1L140.2,309.2L140.2,308.3L140.2,307.4L140.4,306.5L140.5,305.9L140.7,305.1L140.9,304.4L141.1,303.8L141.4,303.2L141.6,302.6L141.9,302.0L142.3,301.4L142.6,300.8L143.0,300.2L143.4,299.7L143.7,299.3L144.2,298.7L144.6,298.2L145.0,297.8L145.5,297.3L146.0,296.9L146.4,296.5L147.0,296.1L147.5,295.7L147.9,295.4L148.5,294.9L149.1,294.5L149.6,294.2L150.0,293.9L150.6,293.5L151.2,293.1L151.8,292.7L152.2,292.4L152.7,292.0L153.3,291.6L153.8,291.2L154.2,290.9L154.8,290.6L155.4,290.3L156.3,290.1L157.2,290.0L157.8,290.0L158.7,289.9L159.6,289.9L160.5,289.8L161.3,289.7L162.0,289.6L162.9,289.5L163.8,289.4L164.7,289.4Z" fill="#000" fill-opacity="0.07" fill-rule="evenodd" stroke="rgb(96,96,96)" stroke-width="0.5"/>
<path d="M155.9,293.6L156.6,293.6L157.5,293.6L158.1,293.7L159.0,293.9L159.6,294.1L160.2,294.4L160.8,294.8L161.1,295.1L161.6,295.7L161.9,296.3L162.1,296.9L162.2,297.8L162.2,298.7L162.1,299.6L162.0,300.5L161.9,301.1L161.7,302.0L161.5,302.6L161.3,303.2L161.1,303.8L160.8,304.4L160.4,305.0L160.1,305.6L159.6,306.2L159.3,306.6L158.9,307.1L158.4,307.7L158.1,308.1L157.7,308.6L157.2,309.1L156.8,309.5L156.3,310.0L155.9,310.4L155.4,310.8L154.8,311.3L154.4,311.6L153.9,312.0L153.3,312.4L152.7,312.7L152.1,313.1L151.5,313.4L150.9,313.6L150.3,313.9L149.7,314.0L148.8,314.3L148.2,314.4L147.3,314.4L146.4,314.4L145.7,314.3L144.9,314.1L144.3,313.8L143.7,313.5L143.2,313.1L142.8,312.6L142.5,312.2L142.1,311.6L141.9,311.0L141.7,310.1L141.6,309.5L141.5,308.6L141.6,307.7L141.6,307.1L141.8,306.2L142.0,305.6L142.2,304.9L142.5,304.1L142.7,303.5L143.0,302.9L143.4,302.3L143.7,301.8L144.0,301.3L144.3,300.8L144.8,300.2L145.2,299.7L145.6,299.3L146.1,298.7L146.5,298.4L147.0,297.9L147.5,297.5L147.9,297.2L148.5,296.7L149.1,296.3L149.6,296.0L150.0,295.7L150.6,295.4L151.2,295.1L151.8,294.8L152.4,294.5L153.2,294.2L153.9,294.0L154.5,293.8L155.4,293.7ZM168.0,300.2L168.6,300.1L169.5,300.0L170.4,300.1L171.1,300.2L171.9,300.4L172.5,300.6L173.2,300.8L173.8,301.1L174.4,301.4L174.9,301.7L175.5,302.1L176.1,302.6L176.4,302.9L176.9,303.5L177.3,304.1L177.5,304.7L177.7,305.3L177.9,306.2L177.9,307.1L177.6,308.0L177.4,308.6L177.0,309.2L176.7,309.6L176.2,310.1L175.8,310.4L175.2,310.9L174.6,311.2L174.0,311.5L173.4,311.7L172.5,311.9L171.9,312.0L171.0,312.0L170.1,312.0L169.5,311.9L168.6,311.7L168.0,311.5L167.4,311.2L166.8,310.9L166.2,310.5L165.6,310.1L165.3,309.8L164.8,309.2L164.4,308.7L164.1,308.2L163.8,307.7L163.5,306.8L163.4,306.2L163.3,305.3L163.5,304.4L163.7,303.8L164.0,303.2L164.4,302.6L164.7,302.2L165.2,301.7L165.6,301.3L166.2,300.9L166.8,300.6L167.4,300.4Z" fill="#000" fill-opacity="0.07" fill-rule="evenodd" stroke="rgb(83,83,83)" stroke-width="0.5"/>
<path d="M153.5,295.7L154.2,295.6L155.1,295.5L156.0,295.5L156.9,295.7L157.5,295.9L158.1,296.3L158.5,296.6L159.0,297.2L159.3,297.8L159.5,298.4L159.6,299.0L159.7,299.9L159.7,300.8L159.6,301.4L159.4,302.3L159.2,302.9L159.0,303.5L158.7,304.3L158.4,304.9L158.1,305.5L157.8,306.0L157.5,306.5L157.1,307.1L156.6,307.7L156.3,308.1L155.8,308.6L155.4,309.0L154.9,309.5L154.5,309.9L153.9,310.4L153.5,310.7L153.0,311.0L152.4,311.4L151.8,311.8L151.2,312.1L150.6,312.3L150.0,312.6L149.1,312.8L148.5,312.9L147.6,313.0L146.7,313.0L146.0,312.8L145.2,312.5L144.7,312.2L144.3,311.9L143.8,311.3L143.4,310.7L143.2,310.1L143.0,309.5L142.9,308.6L142.9,307.7L143.0,306.8L143.2,306.2L143.4,305.3L143.6,304.7L143.9,304.1L144.2,303.5L144.5,302.9L144.8,302.3L145.2,301.8L145.5,301.3L145.9,300.8L146.4,300.2L146.7,299.9L147.3,299.3L147.6,299.0L148.2,298.5L148.7,298.1L149.1,297.8L149.7,297.4L150.3,297.0L150.9,296.7L151.5,296.4L152.1,296.2L152.7,295.9Z" fill="#000" fill-opacity="0.07" fill-rule="evenodd" stroke="rgb(70,70,70)" stroke-width="0.5"/>
<path d="M153.5,296.9L154.2,296.8L155.1,296.8L155.7,296.9L156.5,297.2L157.0,297.5L157.5,298.0L157.8,298.4L158.1,299.0L158.3,299.9L158.4,300.8L158.3,301.7L158.1,302.6L157.9,303.2L157.7,303.8L157.5,304.4L157.2,305.0L156.9,305.6L156.5,306.2L156.1,306.8L155.7,307.3L155.3,307.7L154.8,308.3L154.5,308.6L153.9,309.1L153.5,309.5L153.0,309.9L152.4,310.3L151.8,310.6L151.2,311.0L150.6,311.2L150.0,311.4L149.4,311.6L148.5,311.8L147.6,311.8L146.7,311.7L146.1,311.4L145.5,311.1L145.1,310.7L144.6,310.1L144.3,309.5L144.2,308.9L144.1,308.0L144.1,307.1L144.2,306.2L144.4,305.6L144.6,304.9L144.9,304.2L145.2,303.6L145.5,303.0L145.8,302.6L146.2,302.0L146.6,301.4L147.0,301.0L147.4,300.5L147.9,300.0L148.4,299.6L148.8,299.2L149.4,298.8L150.0,298.4L150.4,298.1L151.0,297.8L151.6,297.5L152.4,297.2L153.0,297.0Z" fill="#000" fill-opacity="0.018" fill-rule="evenodd" stroke="rgb(60,60,60)" stroke-width="0.5"/>
<path d="M152.5,297.8L153.3,297.6L154.2,297.5L155.1,297.6L155.8,297.8L156.3,298.1L156.9,298.6L157.2,299.1L157.5,299.8L157.6,300.5L157.6,301.4L157.5,302.3L157.4,302.9L157.2,303.5L156.9,304.3L156.6,304.9L156.3,305.5L156.0,305.9L155.6,306.5L155.2,307.1L154.8,307.5L154.3,308.0L153.9,308.4L153.4,308.9L153.0,309.2L152.4,309.6L151.8,310.0L151.2,310.3L150.6,310.6L150.0,310.8L149.2,311.0L148.5,311.1L147.6,311.1L147.0,310.9L146.4,310.7L145.8,310.3L145.4,309.8L145.1,309.2L144.9,308.6L144.7,307.7L144.8,306.8L144.9,306.0L145.1,305.3L145.3,304.7L145.6,304.1L145.9,303.5L146.2,302.9L146.6,302.3L147.0,301.8L147.3,301.4L147.9,300.8L148.2,300.5L148.8,299.9L149.2,299.6L149.7,299.2L150.3,298.8L150.9,298.5L151.5,298.2L152.1,297.9Z" fill="#000" fill-opacity="0.018" fill-rule="evenodd" stroke="rgb(60,60,60)" stroke-width="0.5"/>
<path d="M152.3,298.4L153.0,298.2L153.9,298.1L154.8,298.2L155.4,298.4L156.0,298.8L156.5,299.3L156.8,299.9L157.0,300.5L157.1,301.4L157.0,302.3L156.9,302.9L156.6,303.8L156.3,304.4L156.0,305.0L155.7,305.6L155.4,306.0L155.1,306.5L154.6,307.1L154.2,307.5L153.7,308.0L153.3,308.4L152.7,308.9L152.2,309.2L151.7,309.5L151.2,309.8L150.5,310.1L149.7,310.3L149.1,310.5L148.2,310.5L147.5,310.4L146.7,310.1L146.3,309.8L145.8,309.2L145.5,308.6L145.4,308.0L145.3,307.1L145.4,306.2L145.5,305.6L145.8,304.7L146.1,304.1L146.4,303.5L146.7,303.0L147.0,302.5L147.4,302.0L147.9,301.4L148.2,301.1L148.8,300.5L149.2,300.2L149.7,299.8L150.3,299.4L150.9,299.0L151.5,298.7L152.1,298.5Z" fill="#000" fill-opacity="0.018" fill-rule="evenodd" stroke="rgb(60,60,60)" stroke-width="0.5"/>
<path d="M153.1,298.7L153.9,298.7L154.5,298.7L155.2,299.0L155.7,299.3L156.2,299.9L156.4,300.5L156.6,301.4L156.5,302.3L156.3,303.2L156.1,303.8L155.9,304.4L155.6,305.0L155.2,305.6L154.8,306.2L154.5,306.6L154.1,307.1L153.6,307.6L153.2,308.0L152.7,308.4L152.1,308.8L151.5,309.2L150.9,309.5L150.3,309.7L149.7,309.9L148.8,310.0L147.9,309.9L147.3,309.7L146.7,309.3L146.3,308.9L146.0,308.3L145.8,307.4L145.8,306.8L145.8,306.2L146.0,305.3L146.3,304.7L146.5,304.1L146.8,303.5L147.2,302.9L147.6,302.3L147.9,302.0L148.4,301.4L148.8,301.0L149.4,300.5L149.8,300.2L150.3,299.8L150.9,299.5L151.5,299.2L152.1,298.9L153.0,298.7Z" fill="#000" fill-opacity="0.018" fill-rule="evenodd" stroke="rgb(60,60,60)" stroke-width="0.5"/>
<path d="M152.4,299.3L153.0,299.2L153.9,299.1L154.6,299.3L155.1,299.6L155.7,300.2L156.0,300.8L156.1,301.4L156.1,302.3L156.0,302.9L155.7,303.8L155.5,304.4L155.2,305.0L154.8,305.6L154.5,306.1L154.2,306.5L153.6,307.1L153.3,307.4L152.7,307.9L152.2,308.3L151.7,308.6L151.2,308.9L150.5,309.2L149.7,309.4L149.1,309.5L148.5,309.5L147.6,309.3L147.1,308.9L146.7,308.5L146.4,307.9L146.2,307.1L146.3,306.2L146.4,305.5L146.7,304.7L146.9,304.1L147.2,303.5L147.6,302.9L147.9,302.5L148.3,302.0L148.8,301.5L149.2,301.1L149.7,300.7L150.3,300.3L150.9,299.9L151.5,299.6L152.1,299.4Z" fill="#000" fill-opacity="0.018" fill-rule="evenodd" stroke="rgb(60,60,60)" stroke-width="0.5"/>
<path d="M152.9,299.6L153.6,299.6L154.2,299.7L154.8,300.0L155.3,300.5L155.6,301.1L155.7,302.0L155.6,302.9L155.4,303.7L155.1,304.4L154.8,305.0L154.5,305.5L154.2,305.9L153.7,306.5L153.3,307.0L152.8,307.4L152.4,307.7L151.8,308.2L151.2,308.5L150.6,308.8L150.0,309.0L149.1,309.1L148.2,309.0L147.6,308.7L147.2,308.3L146.9,307.7L146.7,307.1L146.7,306.2L146.8,305.6L147.0,304.8L147.3,304.1L147.6,303.5L147.9,303.1L148.2,302.6L148.8,302.0L149.1,301.6L149.7,301.1L150.1,300.8L150.6,300.5L151.2,300.1L151.8,299.9L152.7,299.6Z" fill="#000" fill-opacity="0.018" fill-rule="evenodd" stroke="rgb(60,60,60)" stroke-width="0.5"/>
<path d="M152.0,300.2L152.7,300.0L153.6,300.0L154.2,300.2L154.8,300.7L155.1,301.2L155.3,302.0L155.2,302.9L155.1,303.5L154.8,304.3L154.5,304.9L154.2,305.4L153.8,305.9L153.3,306.5L153.0,306.8L152.4,307.4L151.9,307.7L151.4,308.0L150.8,308.3L150.0,308.6L149.4,308.7L148.7,308.6L148.0,308.3L147.6,308.0L147.2,307.4L147.1,306.5L147.1,305.6L147.3,305.0L147.6,304.2L147.9,303.6L148.2,303.2L148.6,302.6L149.1,302.1L149.5,301.7L150.0,301.3L150.6,300.8L151.2,300.5L151.8,300.3Z" fill="#000" fill-opacity="0.018" fill-rule="evenodd" stroke="rgb(60,60,60)" stroke-width="0.5"/>
<path d="M152.3,300.5L153.0,300.4L153.6,300.5L154.2,300.8L154.7,301.4L154.9,302.0L154.9,302.9L154.7,303.5L154.5,304.2L154.2,304.8L153.9,305.3L153.5,305.9L153.0,306.4L152.6,306.8L152.1,307.2L151.5,307.6L150.9,307.9L150.3,308.1L149.4,308.2L148.5,308.1L148.0,307.7L147.6,307.1L147.5,306.5L147.5,305.6L147.6,305.0L147.9,304.3L148.2,303.7L148.5,303.2L149.0,302.6L149.4,302.2L149.9,301.7L150.3,301.4L150.9,301.0L151.5,300.7Z" fill="#000" fill-opacity="0.018" fill-rule="evenodd" stroke="rgb(60,60,60)" stroke-width="0.5"/>
<path d="M151.5,301.1L152.4,300.9L153.3,300.9L153.9,301.2L154.3,301.7L154.5,302.6L154.4,303.5L154.2,304.1L153.9,304.7L153.5,305.3L153.1,305.9L152.7,306.3L152.1,306.8L151.7,307.1L151.2,307.4L150.4,307.7L149.7,307.8L148.9,307.7L148.4,307.4L148.0,306.8L147.9,306.2L147.9,305.4L148.1,304.7L148.4,304.1L148.7,303.5L149.1,303.0L149.4,302.6L150.0,302.0L150.4,301.7L150.9,301.4Z" fill="#000" fill-opacity="0.018" fill-rule="evenodd" stroke="rgb(60,60,60)" stroke-width="0.5"/>
<path d="M151.8,301.4L152.4,301.3L153.2,301.4L153.7,301.7L154.0,302.3L154.1,303.2L153.9,303.9L153.6,304.6L153.3,305.1L152.9,305.6L152.4,306.2L152.0,306.5L151.5,306.8L150.9,307.2L150.0,307.4L149.1,307.3L148.5,306.8L148.3,306.2L148.3,305.3L148.5,304.6L148.8,304.0L149.1,303.5L149.6,302.9L150.0,302.5L150.6,302.0L151.1,301.7Z" fill="#000" fill-opacity="0.018" fill-rule="evenodd" stroke="rgb(60,60,60)" stroke-width="0.5"/>
<path d="M151.5,302.9L151.8,302.8L152.2,302.9L152.5,303.2L152.6,303.8L152.4,304.4L152.2,304.7L152.0,305.0L151.7,305.3L151.3,305.6L150.9,305.8L150.3,305.8L149.9,305.6L149.7,305.0L149.9,304.4L150.0,304.1L150.3,303.7L150.6,303.4L150.9,303.2Z" fill="#fff" fill-opacity="0.75" stroke="rgb(60,60,60)" stroke-width="0.5"/>
</g>
<ellipse cx="0" cy="0" rx="6.9" ry="4.0" transform="translate(151.1 304.3) rotate(-48)" fill="none" stroke="#151515" stroke-width="1.4" opacity="0.8"/>
<rect x="111.50" y="257.20" width="77.40" height="80.10" fill="none" stroke="#999" stroke-width="0.9"/>
<line x1="158.5" y1="257.2" x2="158.5" y2="337.3" stroke="#999" stroke-width="0.7"/>
<line x1="111.5" y1="301.3" x2="188.9" y2="301.3" stroke="#999" stroke-width="0.7"/>
<text x="113.4" y="266.0" font-size="9.15" text-anchor="start" fill="#111" stroke="#111" stroke-width="0.22" font-weight="normal" font-style="normal">9.8%</text>
<text x="187.70000000000002" y="266.0" font-size="9.15" text-anchor="end" fill="#111" stroke="#111" stroke-width="0.22" font-weight="normal" font-style="normal">15%</text>
<text x="113.4" y="335.1" font-size="9.15" text-anchor="start" fill="#b2364a" stroke="#b2364a" stroke-width="0.22" font-weight="normal" font-style="normal">44%</text>
<text x="187.70000000000002" y="335.1" font-size="9.15" text-anchor="end" fill="#111" stroke="#111" stroke-width="0.22" font-weight="normal" font-style="normal">30%</text>
<g clip-path="url(#cb9)">
<path d="M227.7,293.9L228.6,293.8L229.5,293.7L230.4,293.7L231.3,293.8L231.9,293.9L232.8,294.2L233.4,294.4L234.0,294.8L234.3,295.1L234.7,295.7L234.9,296.3L235.0,297.2L234.9,297.8L234.6,298.7L234.3,299.3L234.0,299.8L233.7,300.2L233.3,300.8L232.8,301.3L232.4,301.7L231.9,302.2L231.4,302.6L231.0,303.0L230.4,303.4L229.9,303.8L229.4,304.1L228.9,304.4L228.3,304.8L227.7,305.1L227.1,305.4L226.5,305.7L225.9,306.0L225.3,306.3L224.7,306.5L223.9,306.8L223.2,307.0L222.6,307.2L221.8,307.4L221.1,307.6L220.3,307.7L219.6,307.8L218.7,307.9L217.8,307.9L216.9,307.8L216.1,307.7L215.4,307.5L214.8,307.3L214.2,306.9L213.7,306.5L213.3,305.9L213.1,305.3L213.0,304.7L213.0,304.1L213.3,303.2L213.5,302.6L213.9,302.0L214.2,301.5L214.5,301.1L215.0,300.5L215.4,300.1L215.9,299.6L216.3,299.2L216.9,298.7L217.3,298.4L217.8,298.0L218.4,297.6L219.0,297.2L219.6,296.9L220.1,296.6L220.6,296.3L221.2,296.0L221.9,295.7L222.6,295.4L223.2,295.1L223.8,294.9L224.4,294.7L225.1,294.5L225.9,294.3L226.5,294.1L227.4,293.9Z" fill="none" stroke="rgb(122,122,122)" stroke-width="0.5"/>
<path d="M227.8,294.5L228.6,294.4L229.5,294.4L230.4,294.4L231.0,294.5L231.9,294.8L232.5,295.0L233.0,295.4L233.4,295.8L233.7,296.3L234.0,297.2L233.9,298.1L233.7,298.7L233.4,299.3L233.0,299.9L232.6,300.5L232.2,301.0L231.8,301.4L231.3,301.9L230.9,302.3L230.4,302.7L229.8,303.2L229.3,303.5L228.9,303.8L228.3,304.2L227.7,304.5L227.1,304.8L226.5,305.1L225.9,305.4L225.3,305.7L224.7,305.9L223.9,306.2L223.2,306.4L222.6,306.6L221.9,306.8L221.1,307.0L220.2,307.1L219.6,307.2L218.7,307.2L217.8,307.2L217.2,307.1L216.3,306.9L215.7,306.7L215.1,306.3L214.6,305.9L214.3,305.3L214.1,304.7L214.1,303.8L214.2,303.2L214.5,302.5L214.8,302.0L215.2,301.4L215.6,300.8L216.0,300.4L216.5,299.9L216.9,299.5L217.5,299.0L217.9,298.7L218.4,298.3L219.0,297.9L219.6,297.5L220.1,297.2L220.6,296.9L221.2,296.6L221.8,296.3L222.5,296.0L223.2,295.7L223.8,295.5L224.4,295.3L225.0,295.1L225.9,294.8L226.5,294.7L227.4,294.5Z" fill="#000" fill-opacity="0.07" fill-rule="evenodd" stroke="rgb(109,109,109)" stroke-width="0.5"/>
<path d="M226.4,295.4L227.1,295.3L228.0,295.2L228.9,295.2L229.8,295.2L230.7,295.4L231.3,295.6L231.9,296.0L232.2,296.3L232.6,296.9L232.8,297.8L232.6,298.7L232.4,299.3L232.0,299.9L231.6,300.5L231.3,300.9L230.8,301.4L230.4,301.8L229.8,302.3L229.5,302.6L228.9,303.0L228.3,303.4L227.7,303.8L227.2,304.1L226.7,304.4L226.0,304.7L225.4,305.0L224.7,305.3L224.1,305.5L223.5,305.7L222.9,305.9L222.0,306.1L221.4,306.2L220.5,306.4L219.6,306.4L218.7,306.4L217.8,306.3L217.2,306.2L216.5,305.9L216.0,305.5L215.5,305.0L215.3,304.4L215.2,303.5L215.4,302.9L215.7,302.2L216.0,301.6L216.4,301.1L216.9,300.5L217.2,300.2L217.8,299.6L218.2,299.3L218.7,298.9L219.3,298.4L219.8,298.1L220.3,297.8L220.8,297.5L221.4,297.2L222.0,296.9L222.6,296.6L223.3,296.3L224.1,296.0L224.7,295.8L225.3,295.6L226.2,295.4Z" fill="#000" fill-opacity="0.07" fill-rule="evenodd" stroke="rgb(96,96,96)" stroke-width="0.5"/>
<path d="M225.7,296.3L226.5,296.1L227.4,296.0L228.3,296.0L229.2,296.1L229.9,296.3L230.5,296.6L231.0,297.0L231.3,297.6L231.4,298.4L231.3,299.0L231.0,299.7L230.7,300.2L230.2,300.8L229.8,301.3L229.4,301.7L228.9,302.1L228.3,302.6L227.8,302.9L227.4,303.2L226.8,303.5L226.2,303.9L225.6,304.2L225.0,304.4L224.3,304.7L223.5,305.0L222.9,305.2L222.3,305.3L221.4,305.5L220.5,305.6L219.6,305.6L218.7,305.5L218.1,305.3L217.5,305.0L216.9,304.4L216.6,303.8L216.6,303.2L216.7,302.6L217.0,302.0L217.3,301.4L217.8,300.8L218.1,300.4L218.6,299.9L219.0,299.6L219.6,299.1L220.2,298.7L220.6,298.4L221.1,298.1L221.7,297.8L222.3,297.5L222.9,297.2L223.7,296.9L224.4,296.7L225.0,296.5Z" fill="#000" fill-opacity="0.07" fill-rule="evenodd" stroke="rgb(83,83,83)" stroke-width="0.5"/>
<path d="M225.4,297.2L226.2,297.1L227.1,297.0L228.0,297.0L228.6,297.2L229.3,297.5L229.8,298.1L229.9,298.7L229.8,299.4L229.5,300.0L229.2,300.5L228.7,301.1L228.3,301.5L227.7,302.0L227.3,302.3L226.8,302.6L226.2,303.0L225.6,303.3L225.0,303.6L224.4,303.9L223.7,304.1L222.9,304.3L222.3,304.5L221.4,304.6L220.5,304.6L219.6,304.5L219.0,304.2L218.4,303.8L218.1,303.2L218.1,302.7L218.3,302.0L218.6,301.4L219.0,300.8L219.3,300.5L219.9,299.9L220.3,299.6L220.8,299.2L221.4,298.8L222.0,298.5L222.6,298.2L223.2,297.9L223.8,297.7L224.4,297.5L225.3,297.2Z" fill="#000" fill-opacity="0.018" fill-rule="evenodd" stroke="rgb(60,60,60)" stroke-width="0.5"/>
<path d="M225.4,297.5L226.2,297.4L227.1,297.3L228.0,297.4L228.6,297.7L229.1,298.1L229.4,298.7L229.3,299.6L229.0,300.2L228.6,300.7L228.3,301.1L227.7,301.6L227.2,302.0L226.8,302.3L226.2,302.7L225.6,303.0L225.0,303.3L224.4,303.6L223.8,303.8L222.9,304.0L222.3,304.2L221.4,304.3L220.5,304.2L219.8,304.1L219.2,303.8L218.7,303.2L218.6,302.6L218.7,302.0L219.0,301.4L219.5,300.8L219.9,300.3L220.4,299.9L220.8,299.6L221.4,299.1L222.0,298.8L222.6,298.5L223.2,298.2L223.8,297.9L224.4,297.7L225.3,297.5Z" fill="#000" fill-opacity="0.018" fill-rule="evenodd" stroke="rgb(60,60,60)" stroke-width="0.5"/>
<path d="M225.2,297.8L225.9,297.7L226.8,297.6L227.7,297.8L228.3,298.0L228.7,298.4L228.9,299.0L228.8,299.6L228.6,300.2L228.1,300.8L227.7,301.3L227.2,301.7L226.8,302.0L226.2,302.4L225.6,302.8L225.0,303.1L224.4,303.3L223.8,303.5L222.9,303.8L222.3,303.9L221.4,304.0L220.5,303.9L219.9,303.7L219.3,303.2L219.1,302.6L219.3,301.7L219.6,301.1L219.9,300.8L220.4,300.2L220.8,299.9L221.4,299.4L222.0,299.1L222.6,298.7L223.2,298.5L223.8,298.2L224.4,298.0Z" fill="#000" fill-opacity="0.018" fill-rule="evenodd" stroke="rgb(60,60,60)" stroke-width="0.5"/>
<path d="M225.0,298.1L225.6,298.0L226.5,297.9L227.4,298.0L228.0,298.3L228.3,298.7L228.4,299.6L228.2,300.2L227.8,300.8L227.4,301.2L226.8,301.7L226.4,302.0L225.9,302.3L225.3,302.7L224.7,302.9L224.0,303.2L223.2,303.5L222.6,303.6L221.7,303.7L220.8,303.6L220.2,303.4L219.7,302.9L219.5,302.3L219.7,301.7L220.0,301.1L220.5,300.5L220.8,300.2L221.4,299.7L222.0,299.3L222.6,299.0L223.2,298.7L223.8,298.5L224.4,298.3Z" fill="#000" fill-opacity="0.018" fill-rule="evenodd" stroke="rgb(60,60,60)" stroke-width="0.5"/>
<path d="M224.7,298.4L225.6,298.2L226.5,298.2L227.3,298.4L227.8,298.7L228.0,299.3L227.9,299.9L227.6,300.5L227.1,301.1L226.8,301.4L226.2,301.9L225.6,302.2L225.0,302.6L224.4,302.8L223.8,303.0L223.2,303.2L222.3,303.4L221.4,303.4L220.7,303.2L220.2,302.8L220.0,302.0L220.2,301.4L220.6,300.8L221.1,300.3L221.6,299.9L222.0,299.6L222.6,299.2L223.2,298.9L223.8,298.7L224.7,298.4Z" fill="#000" fill-opacity="0.018" fill-rule="evenodd" stroke="rgb(60,60,60)" stroke-width="0.5"/>
<path d="M224.5,298.7L225.3,298.5L226.2,298.5L227.0,298.7L227.4,299.0L227.5,299.9L227.2,300.5L226.8,301.0L226.4,301.4L225.9,301.8L225.3,302.2L224.7,302.5L224.1,302.7L223.5,302.9L222.6,303.1L221.7,303.1L221.0,302.9L220.5,302.4L220.5,301.7L220.8,301.1L221.1,300.7L221.6,300.2L222.0,299.9L222.6,299.5L223.2,299.2L223.8,298.9Z" fill="#000" fill-opacity="0.018" fill-rule="evenodd" stroke="rgb(60,60,60)" stroke-width="0.5"/>
<path d="M224.3,299.0L225.0,298.8L225.9,298.8L226.7,299.0L227.1,299.5L227.1,300.0L226.8,300.6L226.4,301.1L225.9,301.5L225.3,301.9L224.7,302.2L224.1,302.5L223.5,302.7L222.6,302.8L221.7,302.8L221.1,302.4L220.9,301.7L221.1,301.1L221.6,300.5L222.0,300.2L222.6,299.8L223.2,299.4L223.8,299.2Z" fill="#000" fill-opacity="0.018" fill-rule="evenodd" stroke="rgb(60,60,60)" stroke-width="0.5"/>
<path d="M224.2,299.3L225.0,299.1L225.9,299.1L226.5,299.5L226.6,300.2L226.2,300.8L225.9,301.1L225.3,301.6L224.7,301.9L224.1,302.2L223.5,302.4L222.6,302.5L221.7,302.3L221.4,302.0L221.4,301.4L221.8,300.8L222.3,300.3L222.9,299.9L223.4,299.6L224.1,299.3Z" fill="#000" fill-opacity="0.018" fill-rule="evenodd" stroke="rgb(60,60,60)" stroke-width="0.5"/>
<path d="M224.1,299.6L225.0,299.4L225.9,299.6L226.1,300.2L225.8,300.8L225.3,301.3L224.7,301.6L224.1,301.9L223.5,302.1L222.6,302.1L222.0,301.9L222.0,301.1L222.3,300.7L222.9,300.2L223.4,299.9L224.1,299.6Z" fill="#000" fill-opacity="0.018" fill-rule="evenodd" stroke="rgb(60,60,60)" stroke-width="0.5"/>
<path d="M224.4,299.9L224.7,299.9L225.1,299.9L225.5,300.2L225.3,300.7L225.0,301.0L224.7,301.2L224.4,301.4L223.8,301.7L223.5,301.7L222.9,301.7L222.6,301.5L222.6,301.1L222.8,300.8L223.1,300.5L223.5,300.2L223.8,300.1Z" fill="#000" fill-opacity="0.018" fill-rule="evenodd" stroke="rgb(60,60,60)" stroke-width="0.5"/>
</g>
<rect x="196.40" y="257.20" width="76.60" height="80.10" fill="none" stroke="#999" stroke-width="0.9"/>
<line x1="237.0" y1="257.2" x2="237.0" y2="337.3" stroke="#999" stroke-width="0.7"/>
<line x1="196.4" y1="295.3" x2="273.0" y2="295.3" stroke="#999" stroke-width="0.7"/>
<text x="198.3" y="266.0" font-size="9.15" text-anchor="start" fill="#111" stroke="#111" stroke-width="0.22" font-weight="normal" font-style="normal">0.91%</text>
<text x="271.8" y="266.0" font-size="9.15" text-anchor="end" fill="#111" stroke="#111" stroke-width="0.22" font-weight="normal" font-style="normal">0.12%</text>
<text x="198.3" y="335.1" font-size="9.15" text-anchor="start" fill="#b2364a" stroke="#b2364a" stroke-width="0.22" font-weight="normal" font-style="normal">98%</text>
<text x="271.8" y="335.1" font-size="9.15" text-anchor="end" fill="#111" stroke="#111" stroke-width="0.22" font-weight="normal" font-style="normal">1.0%</text>
<line x1="21.6" y1="336.2" x2="21.6" y2="176.79999999999998" stroke="#555" stroke-width="1.7"/>
<polygon points="21.6,170.1 17.900000000000002,177.79999999999998 25.3,177.79999999999998" fill="#111"/>
<line x1="26" y1="342.5" x2="266.79999999999995" y2="342.5" stroke="#222" stroke-width="1.4"/>
<polygon points="273.4,342.5 265.79999999999995,338.8 265.79999999999995,346.2" fill="#111"/>
<text transform="translate(18.9 335.8) rotate(-90) scale(0.86 1)" x="0" y="0" font-size="13.8" text-anchor="start" fill="#111" stroke="#111" stroke-width="0.22" font-weight="normal" font-style="normal">CCR5</text>
<text x="25.8" y="354" font-size="12.6" text-anchor="start" fill="#111" stroke="#111" stroke-width="0.22" font-weight="normal" font-style="normal">CXCR4</text>
<text transform="translate(279.3 181.2) rotate(90)" x="0" y="0" font-size="13.1" text-anchor="start" fill="#111" stroke="#111" stroke-width="0.22" font-weight="normal" font-style="normal">Uninfected</text>
<text transform="translate(279.3 263.2) rotate(90)" x="0" y="0" font-size="13.2" text-anchor="start" fill="#111" stroke="#111" stroke-width="0.22" font-weight="normal" font-style="normal">HIV infected</text>
<text x="347.4" y="159" font-size="13.5" text-anchor="start" fill="#000" stroke="#000" stroke-width="0.22" font-weight="bold" font-style="normal">D</text>
<line x1="385.9" y1="188.4" x2="385.9" y2="304.1" stroke="#3a3a3a" stroke-width="1"/>
<line x1="385.4" y1="303.6" x2="475.5" y2="303.6" stroke="#3a3a3a" stroke-width="1"/>
<line x1="383.4" y1="303.6" x2="385.9" y2="303.6" stroke="#3a3a3a" stroke-width="1"/>
<text x="382.0" y="307.0" font-size="9.7" text-anchor="end" fill="#111" stroke="#111" stroke-width="0.22" font-weight="normal" font-style="normal">0</text>
<line x1="383.4" y1="280.56" x2="385.9" y2="280.56" stroke="#3a3a3a" stroke-width="1"/>
<text x="382.0" y="283.96" font-size="9.7" text-anchor="end" fill="#111" stroke="#111" stroke-width="0.22" font-weight="normal" font-style="normal">20</text>
<line x1="383.4" y1="257.52000000000004" x2="385.9" y2="257.52000000000004" stroke="#3a3a3a" stroke-width="1"/>
<text x="382.0" y="260.92" font-size="9.7" text-anchor="end" fill="#111" stroke="#111" stroke-width="0.22" font-weight="normal" font-style="normal">40</text>
<line x1="383.4" y1="234.48000000000002" x2="385.9" y2="234.48000000000002" stroke="#3a3a3a" stroke-width="1"/>
<text x="382.0" y="237.88000000000002" font-size="9.7" text-anchor="end" fill="#111" stroke="#111" stroke-width="0.22" font-weight="normal" font-style="normal">60</text>
<line x1="383.4" y1="211.44" x2="385.9" y2="211.44" stroke="#3a3a3a" stroke-width="1"/>
<text x="382.0" y="214.84" font-size="9.7" text-anchor="end" fill="#111" stroke="#111" stroke-width="0.22" font-weight="normal" font-style="normal">80</text>
<line x1="383.4" y1="188.4" x2="385.9" y2="188.4" stroke="#3a3a3a" stroke-width="1"/>
<text x="382.0" y="191.8" font-size="9.7" text-anchor="end" fill="#111" stroke="#111" stroke-width="0.22" font-weight="normal" font-style="normal">100</text>
<rect x="393.20" y="274.30" width="30.80" height="29.30" fill="#fff" stroke="#222" stroke-width="0.9"/>
<line x1="408.6" y1="274.3" x2="408.6" y2="270.8" stroke="#111" stroke-width="0.9"/>
<line x1="400.0" y1="270.8" x2="417.20000000000005" y2="270.8" stroke="#111" stroke-width="0.9"/>
<rect x="438.60" y="191.20" width="31.20" height="112.40" fill="#b2b2b2" stroke="#222" stroke-width="0.9"/>
<line x1="454.20000000000005" y1="191.2" x2="454.20000000000005" y2="190.5" stroke="#111" stroke-width="0.9"/>
<line x1="445.6" y1="190.5" x2="462.80000000000007" y2="190.5" stroke="#111" stroke-width="0.9"/>
<text x="408.5" y="319.2" font-size="12.3" text-anchor="middle" fill="#111" stroke="#111" stroke-width="0.22" font-weight="normal" font-style="normal">Day 5</text>
<line x1="408.6" y1="303.6" x2="408.6" y2="305.90000000000003" stroke="#3a3a3a" stroke-width="1"/>
<line x1="454.2" y1="303.6" x2="454.2" y2="305.90000000000003" stroke="#3a3a3a" stroke-width="1"/>
<text x="455.5" y="319.2" font-size="12.3" text-anchor="middle" fill="#111" stroke="#111" stroke-width="0.22" font-weight="normal" font-style="normal">Day 25</text>
<text x="431" y="173.8" font-size="10.5" text-anchor="middle" fill="#111"><tspan font-style="italic">P</tspan>&lt;.0001</text>
<line x1="408.3" y1="176.9" x2="454.4" y2="176.9" stroke="#444" stroke-width="0.9"/>
<text transform="translate(363.0 244.5) rotate(-90)" x="0" y="0" font-size="12.3" text-anchor="middle" fill="#111" stroke="#111" stroke-width="0.22" font-weight="normal" font-style="normal">Double negative cells (%)</text>
<text x="3" y="406" font-size="13.5" text-anchor="start" fill="#000" stroke="#000" stroke-width="0.22" font-weight="bold" font-style="normal">E</text>
<line x1="57.5" y1="447.5" x2="57.5" y2="565.8" stroke="#5a5a5a" stroke-width="1.2"/>
<line x1="57.0" y1="565.3" x2="206.5" y2="565.3" stroke="#5a5a5a" stroke-width="1.2"/>
<line x1="55.0" y1="565.3" x2="57.5" y2="565.3" stroke="#5a5a5a" stroke-width="1.2"/>
<text x="54.9" y="568.9" font-size="10.3" text-anchor="end" fill="#111" stroke="#111" stroke-width="0.22" font-weight="normal" font-style="normal">0</text>
<line x1="55.0" y1="541.74" x2="57.5" y2="541.74" stroke="#5a5a5a" stroke-width="1.2"/>
<text x="54.9" y="545.34" font-size="10.3" text-anchor="end" fill="#111" stroke="#111" stroke-width="0.22" font-weight="normal" font-style="normal">20</text>
<line x1="55.0" y1="518.18" x2="57.5" y2="518.18" stroke="#5a5a5a" stroke-width="1.2"/>
<text x="54.9" y="521.78" font-size="10.3" text-anchor="end" fill="#111" stroke="#111" stroke-width="0.22" font-weight="normal" font-style="normal">40</text>
<line x1="55.0" y1="494.62" x2="57.5" y2="494.62" stroke="#5a5a5a" stroke-width="1.2"/>
<text x="54.9" y="498.22" font-size="10.3" text-anchor="end" fill="#111" stroke="#111" stroke-width="0.22" font-weight="normal" font-style="normal">60</text>
<line x1="55.0" y1="471.06" x2="57.5" y2="471.06" stroke="#5a5a5a" stroke-width="1.2"/>
<text x="54.9" y="474.66" font-size="10.3" text-anchor="end" fill="#111" stroke="#111" stroke-width="0.22" font-weight="normal" font-style="normal">80</text>
<line x1="55.0" y1="447.5" x2="57.5" y2="447.5" stroke="#5a5a5a" stroke-width="1.2"/>
<text x="54.9" y="451.1" font-size="10.3" text-anchor="end" fill="#111" stroke="#111" stroke-width="0.22" font-weight="normal" font-style="normal">100</text>
<line x1="57.5" y1="565.3" x2="57.5" y2="567.8" stroke="#5a5a5a" stroke-width="1.2"/>
<text x="57.5" y="577.5" font-size="10.3" text-anchor="middle" fill="#111" stroke="#111" stroke-width="0.22" font-weight="normal" font-style="normal">0</text>
<line x1="87.2" y1="565.3" x2="87.2" y2="567.8" stroke="#5a5a5a" stroke-width="1.2"/>
<text x="87.2" y="577.5" font-size="10.3" text-anchor="middle" fill="#111" stroke="#111" stroke-width="0.22" font-weight="normal" font-style="normal">10</text>
<line x1="116.9" y1="565.3" x2="116.9" y2="567.8" stroke="#5a5a5a" stroke-width="1.2"/>
<text x="116.9" y="577.5" font-size="10.3" text-anchor="middle" fill="#111" stroke="#111" stroke-width="0.22" font-weight="normal" font-style="normal">20</text>
<line x1="146.60000000000002" y1="565.3" x2="146.60000000000002" y2="567.8" stroke="#5a5a5a" stroke-width="1.2"/>
<text x="146.60000000000002" y="577.5" font-size="10.3" text-anchor="middle" fill="#111" stroke="#111" stroke-width="0.22" font-weight="normal" font-style="normal">30</text>
<line x1="176.3" y1="565.3" x2="176.3" y2="567.8" stroke="#5a5a5a" stroke-width="1.2"/>
<text x="176.3" y="577.5" font-size="10.3" text-anchor="middle" fill="#111" stroke="#111" stroke-width="0.22" font-weight="normal" font-style="normal">40</text>
<line x1="206.0" y1="565.3" x2="206.0" y2="567.8" stroke="#5a5a5a" stroke-width="1.2"/>
<text x="206.0" y="577.5" font-size="10.3" text-anchor="middle" fill="#111" stroke="#111" stroke-width="0.22" font-weight="normal" font-style="normal">50</text>
<text x="132" y="588.6" font-size="10" text-anchor="middle" fill="#111" stroke="#111" stroke-width="0.22" font-weight="normal" font-style="normal">Days post infection</text>
<text transform="translate(29 508.7) rotate(-90)" x="0" y="0" font-size="10" text-anchor="middle" fill="#111" stroke="#111" stroke-width="0.22" font-weight="normal" font-style="normal">Percent live cells</text>
<line x1="71.756" y1="456.924" x2="92.546" y2="563.5329999999999" stroke="#111" stroke-width="0.9"/>
<line x1="71.756" y1="463.992" x2="71.756" y2="451.623" stroke="#111" stroke-width="1.1"/>
<line x1="69.156" y1="463.992" x2="74.356" y2="463.992" stroke="#111" stroke-width="1.1"/>
<line x1="69.156" y1="451.623" x2="74.356" y2="451.623" stroke="#111" stroke-width="1.1"/>
<rect x="69.76" y="454.92" width="4.00" height="4.00" fill="#fff" stroke="#111" stroke-width="0.8"/>
<rect x="90.55" y="561.53" width="4.00" height="4.00" fill="#fff" stroke="#111" stroke-width="0.8"/>
<polyline fill="none" stroke="#111" stroke-width="0.9" points="72.1,469.3 92.5,541.7 131.5,516.4 182.5,478.1"/>
<line x1="72.053" y1="476.361" x2="72.053" y2="462.225" stroke="#111" stroke-width="1.1"/>
<line x1="69.453" y1="476.361" x2="74.65299999999999" y2="476.361" stroke="#111" stroke-width="1.1"/>
<line x1="69.453" y1="462.225" x2="74.65299999999999" y2="462.225" stroke="#111" stroke-width="1.1"/>
<rect x="70.05" y="467.29" width="4.00" height="4.00" fill="#111" stroke="#111" stroke-width="0.5"/>
<line x1="92.546" y1="548.808" x2="92.546" y2="534.672" stroke="#111" stroke-width="1.1"/>
<line x1="89.94600000000001" y1="548.808" x2="95.146" y2="548.808" stroke="#111" stroke-width="1.1"/>
<line x1="89.94600000000001" y1="534.672" x2="95.146" y2="534.672" stroke="#111" stroke-width="1.1"/>
<rect x="90.55" y="539.74" width="4.00" height="4.00" fill="#111" stroke="#111" stroke-width="0.5"/>
<line x1="131.453" y1="530.549" x2="131.453" y2="502.277" stroke="#111" stroke-width="1.1"/>
<line x1="128.853" y1="530.549" x2="134.053" y2="530.549" stroke="#111" stroke-width="1.1"/>
<line x1="128.853" y1="502.277" x2="134.053" y2="502.277" stroke="#111" stroke-width="1.1"/>
<rect x="129.45" y="514.41" width="4.00" height="4.00" fill="#111" stroke="#111" stroke-width="0.5"/>
<line x1="182.537" y1="483.429" x2="182.537" y2="472.827" stroke="#111" stroke-width="1.1"/>
<line x1="179.937" y1="483.429" x2="185.137" y2="483.429" stroke="#111" stroke-width="1.1"/>
<line x1="179.937" y1="472.827" x2="185.137" y2="472.827" stroke="#111" stroke-width="1.1"/>
<rect x="180.54" y="476.13" width="4.00" height="4.00" fill="#111" stroke="#111" stroke-width="0.5"/>
<line x1="139.5" y1="441.5" x2="152.5" y2="441.5" stroke="#111" stroke-width="1.0"/>
<rect x="143.30" y="438.80" width="5.40" height="5.40" fill="#111" stroke="#111" stroke-width="0.5"/>
<line x1="139.5" y1="453.5" x2="152.5" y2="453.5" stroke="#111" stroke-width="1.0"/>
<rect x="143.50" y="451.00" width="5.00" height="5.00" fill="#fff" stroke="#111" stroke-width="0.9"/>
<text x="154" y="445" font-size="10.4" text-anchor="start" fill="#111" stroke="#111" stroke-width="0.22" font-weight="normal" font-style="normal">R5X4 ZFN + HIV</text>
<text x="154" y="457" font-size="10.4" text-anchor="start" fill="#111" stroke="#111" stroke-width="0.22" font-weight="normal" font-style="normal">No ZFN + HIV</text>
<text x="278.5" y="406" font-size="13.5" text-anchor="start" fill="#000" stroke="#000" stroke-width="0.22" font-weight="bold" font-style="normal">F</text>
<rect x="403.40" y="372.70" width="11.60" height="5.20" fill="#fff" stroke="#111" stroke-width="0.8"/>
<rect x="403.40" y="383.50" width="11.60" height="5.20" fill="#999" stroke="#111" stroke-width="0.8"/>
<rect x="403.40" y="394.80" width="11.60" height="5.20" fill="#111" stroke="#111" stroke-width="0.8"/>
<text x="418.8" y="377.4" font-size="8.65" text-anchor="start" fill="#111" stroke="#111" stroke-width="0.22" font-weight="normal" font-style="normal">WT cells</text>
<text x="418.8" y="388.6" font-size="8.65" text-anchor="start" fill="#111" stroke="#111" stroke-width="0.22" font-weight="normal" font-style="normal">R5X4 ZFN</text>
<text x="418.8" y="399.9" font-size="8.65" text-anchor="start" fill="#111" stroke="#111" stroke-width="0.22" font-weight="normal" font-style="normal">R5X4 ZFN + HIV selection</text>
<line x1="314.2" y1="441.7" x2="314.2" y2="585.5" stroke="#5a5a5a" stroke-width="1.2"/>
<line x1="313.7" y1="585" x2="475" y2="585" stroke="#5a5a5a" stroke-width="1.2"/>
<line x1="311.7" y1="441.7" x2="314.2" y2="441.7" stroke="#5a5a5a" stroke-width="1.2"/>
<text x="311.0" y="445.0" font-size="9.3" text-anchor="end" fill="#111" stroke="#111" stroke-width="0.22" font-weight="normal" font-style="normal">100</text>
<line x1="311.7" y1="477.525" x2="314.2" y2="477.525" stroke="#5a5a5a" stroke-width="1.2"/>
<text x="311.0" y="480.825" font-size="9.3" text-anchor="end" fill="#111" stroke="#111" stroke-width="0.22" font-weight="normal" font-style="normal">10</text>
<line x1="311.7" y1="513.35" x2="314.2" y2="513.35" stroke="#5a5a5a" stroke-width="1.2"/>
<text x="311.0" y="516.65" font-size="9.3" text-anchor="end" fill="#111" stroke="#111" stroke-width="0.22" font-weight="normal" font-style="normal">1</text>
<line x1="311.7" y1="549.175" x2="314.2" y2="549.175" stroke="#5a5a5a" stroke-width="1.2"/>
<text x="311.0" y="552.4749999999999" font-size="9.3" text-anchor="end" fill="#111" stroke="#111" stroke-width="0.22" font-weight="normal" font-style="normal">0.1</text>
<line x1="311.7" y1="585.0" x2="314.2" y2="585.0" stroke="#5a5a5a" stroke-width="1.2"/>
<text x="311.0" y="588.3" font-size="9.3" text-anchor="end" fill="#111" stroke="#111" stroke-width="0.22" font-weight="normal" font-style="normal">0.01</text>
<rect x="321.70" y="463.27" width="9.30" height="121.73" fill="#fff" stroke="#3a3a3a" stroke-width="0.9"/>
<line x1="326.35" y1="463.2687991893242" x2="326.35" y2="462.0713931490043" stroke="#111" stroke-width="0.9"/>
<line x1="323.75" y1="462.0713931490043" x2="328.95000000000005" y2="462.0713931490043" stroke="#111" stroke-width="0.9"/>
<rect x="336.20" y="463.46" width="9.30" height="121.54" fill="#999" stroke="#3a3a3a" stroke-width="0.9"/>
<line x1="340.85" y1="463.45663164947246" x2="340.85" y2="460.4321310496681" stroke="#111" stroke-width="0.9"/>
<line x1="338.25" y1="460.4321310496681" x2="343.45000000000005" y2="460.4321310496681" stroke="#111" stroke-width="0.9"/>
<rect x="350.70" y="541.86" width="9.30" height="43.14" fill="#1a1a1a" stroke="#3a3a3a" stroke-width="0.9"/>
<line x1="355.35" y1="541.8624016213515" x2="355.35" y2="538.3906004053379" stroke="#111" stroke-width="0.9"/>
<line x1="352.75" y1="538.3906004053379" x2="357.95000000000005" y2="538.3906004053379" stroke="#111" stroke-width="0.9"/>
<text x="340.2" y="595.6" font-size="10.5" text-anchor="middle" fill="#111" stroke="#111" stroke-width="0.22" font-weight="normal" font-style="normal">R5-HIV</text>
<rect x="375.60" y="467.21" width="9.30" height="117.79" fill="#fff" stroke="#3a3a3a" stroke-width="0.9"/>
<line x1="380.25" y1="467.21450302524966" x2="380.25" y2="465.76080070680723" stroke="#111" stroke-width="0.9"/>
<line x1="377.65" y1="465.76080070680723" x2="382.85" y2="465.76080070680723" stroke="#111" stroke-width="0.9"/>
<rect x="390.10" y="472.29" width="9.30" height="112.71" fill="#999" stroke="#3a3a3a" stroke-width="0.9"/>
<line x1="394.75" y1="472.2899631218271" x2="394.75" y2="469.26916739162334" stroke="#111" stroke-width="0.9"/>
<line x1="392.15" y1="469.26916739162334" x2="397.35" y2="469.26916739162334" stroke="#111" stroke-width="0.9"/>
<rect x="404.60" y="542.87" width="9.30" height="42.13" fill="#1a1a1a" stroke="#3a3a3a" stroke-width="0.9"/>
<line x1="409.25" y1="542.8665306443302" x2="409.25" y2="539.1886522458649" stroke="#111" stroke-width="0.9"/>
<line x1="406.65" y1="539.1886522458649" x2="411.85" y2="539.1886522458649" stroke="#111" stroke-width="0.9"/>
<text x="395.5" y="595.6" font-size="10.5" text-anchor="middle" fill="#111" stroke="#111" stroke-width="0.22" font-weight="normal" font-style="normal">X4-HIV</text>
<rect x="428.20" y="453.95" width="9.30" height="131.05" fill="#fff" stroke="#3a3a3a" stroke-width="0.9"/>
<line x1="432.85" y1="453.9517417147589" x2="432.85" y2="453.11953267101956" stroke="#111" stroke-width="0.9"/>
<line x1="430.25" y1="453.11953267101956" x2="435.45000000000005" y2="453.11953267101956" stroke="#111" stroke-width="0.9"/>
<rect x="442.70" y="453.61" width="9.30" height="131.39" fill="#999" stroke="#3a3a3a" stroke-width="0.9"/>
<line x1="447.35" y1="453.61349796271736" x2="447.35" y2="452.48439959466214" stroke="#111" stroke-width="0.9"/>
<line x1="444.75" y1="452.48439959466214" x2="449.95000000000005" y2="452.48439959466214" stroke="#111" stroke-width="0.9"/>
<rect x="457.20" y="462.36" width="9.30" height="122.64" fill="#1a1a1a" stroke="#3a3a3a" stroke-width="0.9"/>
<line x1="461.85" y1="462.3622165662139" x2="461.85" y2="460.4321310496681" stroke="#111" stroke-width="0.9"/>
<line x1="459.25" y1="460.4321310496681" x2="464.45000000000005" y2="460.4321310496681" stroke="#111" stroke-width="0.9"/>
<text x="448.0" y="595.6" font-size="10.5" text-anchor="middle" fill="#111" stroke="#111" stroke-width="0.22" font-weight="normal" font-style="normal">VSV-G</text>
<line x1="314.2" y1="557.1" x2="475" y2="557.1" stroke="#151515" stroke-width="1.1"/>
<line x1="323.59999999999997" y1="442.6" x2="355.4" y2="442.6" stroke="#444" stroke-width="0.8"/>
<text x="339.79999999999995" y="439.5" font-size="7" text-anchor="middle" fill="#111"><tspan font-style="italic">P</tspan>&lt;.0001</text>
<line x1="321.4" y1="456.2" x2="344.0" y2="456.2" stroke="#444" stroke-width="0.8"/>
<text x="332.4" y="452.9" font-size="7" text-anchor="middle" fill="#111"><tspan font-style="italic">P</tspan>=.598</text>
<line x1="377.4" y1="442.6" x2="409.2" y2="442.6" stroke="#444" stroke-width="0.8"/>
<text x="393.59999999999997" y="439.5" font-size="7" text-anchor="middle" fill="#111"><tspan font-style="italic">P</tspan>&lt;.0001</text>
<line x1="375.2" y1="456.2" x2="397.8" y2="456.2" stroke="#444" stroke-width="0.8"/>
<text x="386.2" y="452.9" font-size="7" text-anchor="middle" fill="#111"><tspan font-style="italic">P</tspan>=.025</text>
<line x1="430.2" y1="428.9" x2="462.0" y2="428.9" stroke="#444" stroke-width="0.8"/>
<text x="446.4" y="425.79999999999995" font-size="7" text-anchor="middle" fill="#111"><tspan font-style="italic">P</tspan>&lt;.005</text>
<line x1="428.0" y1="443.7" x2="450.6" y2="443.7" stroke="#444" stroke-width="0.8"/>
<text x="439.0" y="440.4" font-size="7" text-anchor="middle" fill="#111"><tspan font-style="italic">P</tspan>=.685</text>
<text transform="translate(287.9 506.7) rotate(-90)" x="0" y="0" font-size="9.7" text-anchor="middle" fill="#111" stroke="#111" stroke-width="0.22" font-weight="normal" font-style="normal">Percent infected cells</text>
</svg>
</body></html>
